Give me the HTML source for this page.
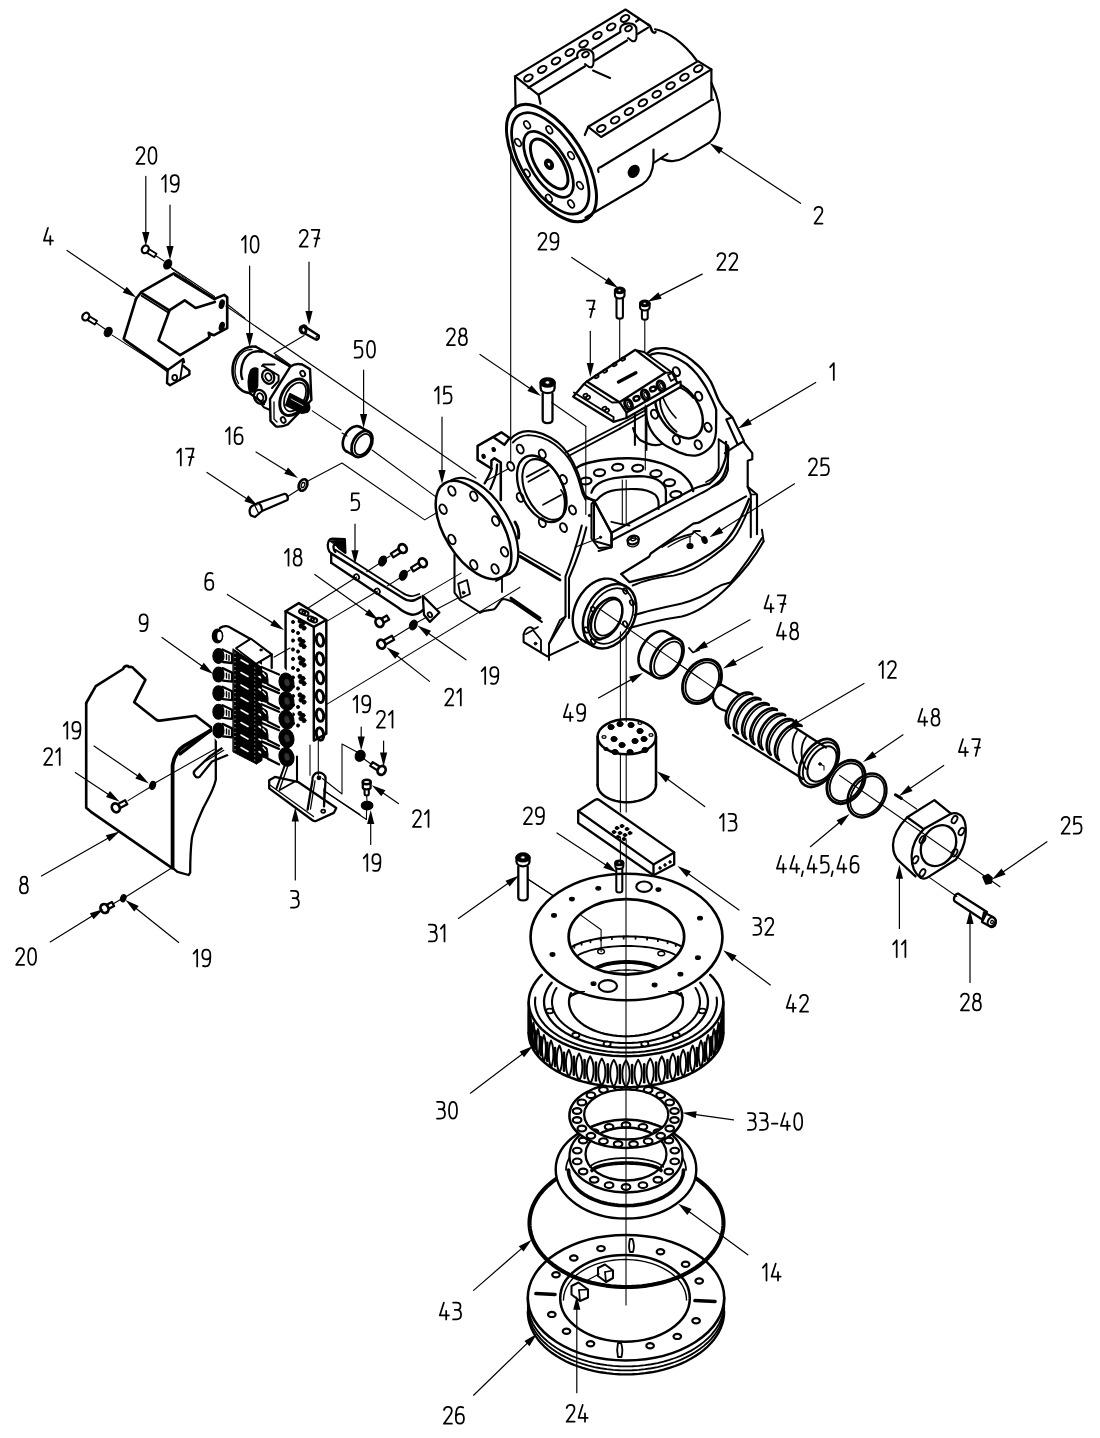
<!DOCTYPE html>
<html><head><meta charset="utf-8"><style>
html,body{margin:0;padding:0;background:#fff;}
svg{display:block;}
text{font-family:"Liberation Sans",sans-serif;fill:#000;stroke:none;}
</style></head><body>
<svg width="1100" height="1438" viewBox="0 0 1100 1438" stroke="#000" fill="none" stroke-linecap="round" stroke-linejoin="round">
<path d="M515.6,108 L515,76.4 L625.5,9.5 L648,24.5" stroke-width="2.18" fill="none"/>
<path d="M515,76.4 L538.5,94.8 L540.5,103.7" stroke-width="2.18" fill="none"/>
<path d="M528.4,87.8 L577.5,57.2" stroke-width="2.18" fill="none"/>
<path d="M592.5,49 L620,32.2" stroke-width="2.18" fill="none"/>
<path d="M636,21.5 L639.5,19.2" stroke-width="2.18" fill="none"/>
<path d="M538.5,94.8 L585,66.2" stroke-width="2.18" fill="none"/>
<path d="M594.5,60.7 L627,40.5" stroke-width="2.18" fill="none"/>
<path d="M638,33.8 L648,27.6" stroke-width="2.18" fill="none"/>
<ellipse cx="528.4" cy="77.9" rx="4.6" ry="3.0" transform="rotate(-30 528.4 77.9)" stroke-width="2.07" fill="none"/>
<ellipse cx="542.2" cy="69.4" rx="4.6" ry="3.0" transform="rotate(-30 542.2 69.4)" stroke-width="2.07" fill="none"/>
<ellipse cx="556.0" cy="60.9" rx="4.6" ry="3.0" transform="rotate(-30 556.0 60.9)" stroke-width="2.07" fill="none"/>
<ellipse cx="569.8" cy="52.4" rx="4.6" ry="3.0" transform="rotate(-30 569.8 52.4)" stroke-width="2.07" fill="none"/>
<ellipse cx="583.6" cy="43.9" rx="4.6" ry="3.0" transform="rotate(-30 583.6 43.9)" stroke-width="2.07" fill="none"/>
<ellipse cx="597.4" cy="35.4" rx="4.6" ry="3.0" transform="rotate(-30 597.4 35.4)" stroke-width="2.07" fill="none"/>
<ellipse cx="611.2" cy="26.9" rx="4.6" ry="3.0" transform="rotate(-30 611.2 26.9)" stroke-width="2.07" fill="none"/>
<ellipse cx="625.0" cy="18.4" rx="4.6" ry="3.0" transform="rotate(-30 625.0 18.4)" stroke-width="2.07" fill="none"/>
<path d="M577.5,58 C576,52 580,49.4 585.5,49.4 C590.5,49.4 593.5,51.5 593.5,56 L593.5,62.5 C593.5,66.5 591.5,68 589,67 L585,64" stroke-width="2.07" fill="none"/>
<ellipse cx="585.5" cy="54.5" rx="3.6" ry="2.4" transform="rotate(-30 585.5 54.5)" stroke-width="1.84" fill="none"/>
<path d="M620.5,32 C619,26 623,23.4 628.5,23.4 C633.5,23.4 636.5,25.5 636.5,30 L636.5,36.5 C636.5,40.5 634.5,42 632,41 L628,38" stroke-width="2.07" fill="none"/>
<ellipse cx="628.5" cy="28.5" rx="3.6" ry="2.4" transform="rotate(-30 628.5 28.5)" stroke-width="1.84" fill="none"/>
<path d="M648,24.5 C651,25.5 651,29 652,31 C653,33 655,33 655.5,32" stroke-width="2.53" fill="none"/>
<line x1="593" y1="70.5" x2="610" y2="78" stroke-width="2.07"/>
<path d="M655,29.3 C668,31.5 684,43 696.7,60.5" stroke-width="2.18" fill="none"/>
<path d="M584.8,135 L588.2,126.8 L698,61.1 L711.4,69.4 L711.4,99.9 L713,99.9" stroke-width="2.18" fill="none"/>
<path d="M588.2,126.8 L601.1,137 L711.4,69.4" stroke-width="2.18" fill="none"/>
<path d="M598.5,172 C597.5,169 598.5,167.5 600.5,167.2 L711.4,99.9" stroke-width="2.18" fill="none"/>
<ellipse cx="601.3" cy="128.5" rx="4.6" ry="3.0" transform="rotate(-30 601.3 128.5)" stroke-width="2.07" fill="none"/>
<ellipse cx="615.15" cy="119.95" rx="4.6" ry="3.0" transform="rotate(-30 615.15 119.95)" stroke-width="2.07" fill="none"/>
<ellipse cx="629.0" cy="111.4" rx="4.6" ry="3.0" transform="rotate(-30 629.0 111.4)" stroke-width="2.07" fill="none"/>
<ellipse cx="642.85" cy="102.85" rx="4.6" ry="3.0" transform="rotate(-30 642.85 102.85)" stroke-width="2.07" fill="none"/>
<ellipse cx="656.7" cy="94.3" rx="4.6" ry="3.0" transform="rotate(-30 656.7 94.3)" stroke-width="2.07" fill="none"/>
<ellipse cx="670.55" cy="85.75" rx="4.6" ry="3.0" transform="rotate(-30 670.55 85.75)" stroke-width="2.07" fill="none"/>
<ellipse cx="684.4" cy="77.2" rx="4.6" ry="3.0" transform="rotate(-30 684.4 77.2)" stroke-width="2.07" fill="none"/>
<ellipse cx="698.25" cy="68.65" rx="4.6" ry="3.0" transform="rotate(-30 698.25 68.65)" stroke-width="2.07" fill="none"/>
<path d="M711.4,82.7 C718,97 721,110 719.6,121 C718.5,131 715,138 709.5,142.5 L684,157.9 C677,162 668,162 661,158.5" stroke-width="2.18" fill="none"/>
<line x1="654.5" y1="162.4" x2="667.5" y2="153.8" stroke-width="2.07"/>
<path d="M653.5,149.6 L653.5,161 C653,172 649,180 642,184.5 L585.5,217.5" stroke-width="2.18" fill="none"/>
<ellipse cx="633.7" cy="171.3" rx="4.6" ry="6.2" transform="rotate(35 633.7 171.3)" stroke-width="1.84" fill="#000"/>
<ellipse cx="633.2" cy="171.8" rx="1.6" ry="3.8" transform="rotate(35 633.2 171.8)" stroke-width="0.8" fill="none"/>
<ellipse cx="551.5" cy="163" rx="66.4" ry="32.4" transform="rotate(57.4 551.5 163)" stroke-width="2.99" fill="none"/>
<ellipse cx="550.3" cy="163.4" rx="57.5" ry="27.5" transform="rotate(57.4 550.3 163.4)" stroke-width="2.76" fill="none"/>
<ellipse cx="548.5" cy="164.3" rx="37.5" ry="17.3" transform="rotate(57.4 548.5 164.3)" stroke-width="2.76" fill="none"/>
<ellipse cx="549.2" cy="164" rx="28.5" ry="12.8" transform="rotate(57.4 549.2 164)" stroke-width="2.99" fill="none"/>
<ellipse cx="549" cy="164.3" rx="5.2" ry="3.8" transform="rotate(57.4 549 164.3)" stroke-width="1.72" fill="#000"/>
<ellipse cx="549" cy="164.3" rx="2.2" ry="1.5" transform="rotate(57.4 549 164.3)" stroke-width="0.8" fill="#fff"/>
<ellipse cx="527.1" cy="124.8" rx="4.2" ry="2.6" transform="rotate(57.4 527.1 124.8)" stroke-width="1.72" fill="none"/>
<ellipse cx="549.3" cy="129.8" rx="4.2" ry="2.6" transform="rotate(57.4 549.3 129.8)" stroke-width="1.72" fill="none"/>
<ellipse cx="571.1" cy="155.5" rx="4.2" ry="2.6" transform="rotate(57.4 571.1 155.5)" stroke-width="1.72" fill="none"/>
<ellipse cx="580" cy="185.5" rx="4.2" ry="2.6" transform="rotate(57.4 580 185.5)" stroke-width="1.72" fill="none"/>
<ellipse cx="571.1" cy="203.9" rx="4.2" ry="2.6" transform="rotate(57.4 571.1 203.9)" stroke-width="1.72" fill="none"/>
<ellipse cx="548.9" cy="198.4" rx="4.2" ry="2.6" transform="rotate(57.4 548.9 198.4)" stroke-width="1.72" fill="none"/>
<ellipse cx="526.8" cy="173.2" rx="4.2" ry="2.6" transform="rotate(57.4 526.8 173.2)" stroke-width="1.72" fill="none"/>
<ellipse cx="518" cy="142.5" rx="4.2" ry="2.6" transform="rotate(57.4 518 142.5)" stroke-width="1.72" fill="none"/>
<path d="M510.4,439.3 C515,434 521,431 528.4,431.1 C538,431 549,436 557.8,442.5 C566,449 573,461 577.5,472 C580,478 582,487 584,493.3 L587.3,498.2 L595.5,500.6" stroke-width="2.18" fill="none"/>
<path d="M512.8,442.5 C518,437 522,435.5 528.4,435.2 C538,435.5 547,439 554.5,444.2 C562,450 568,457 571,462.2 C575,470 577.5,476 579.1,481.8 L582.4,493.3 L585.6,499.8" stroke-width="1.84" fill="none"/>
<ellipse cx="541.5" cy="488.8" rx="35.6" ry="20.9" transform="rotate(63.7 541.5 488.8)" stroke-width="2.3" fill="none"/>
<ellipse cx="544.5" cy="489.5" rx="32.5" ry="18.8" transform="rotate(63.7 544.5 489.5)" stroke-width="2.07" fill="none"/>
<ellipse cx="520.2" cy="449.1" rx="3.2" ry="4.6" transform="rotate(-25 520.2 449.1)" stroke-width="1.95" fill="none"/>
<ellipse cx="542.3" cy="454" rx="3.2" ry="4.6" transform="rotate(-25 542.3 454)" stroke-width="1.95" fill="none"/>
<ellipse cx="563.5" cy="479.4" rx="3.2" ry="4.6" transform="rotate(-25 563.5 479.4)" stroke-width="1.95" fill="none"/>
<ellipse cx="572.5" cy="510" rx="3.2" ry="4.6" transform="rotate(-25 572.5 510)" stroke-width="1.95" fill="none"/>
<ellipse cx="563.5" cy="527.6" rx="3.2" ry="4.6" transform="rotate(-25 563.5 527.6)" stroke-width="1.95" fill="none"/>
<ellipse cx="542.3" cy="522.7" rx="3.2" ry="4.6" transform="rotate(-25 542.3 522.7)" stroke-width="1.95" fill="none"/>
<ellipse cx="520.2" cy="497.4" rx="3.2" ry="4.6" transform="rotate(-25 520.2 497.4)" stroke-width="1.95" fill="none"/>
<ellipse cx="510.7" cy="466.3" rx="3.2" ry="4.6" transform="rotate(-25 510.7 466.3)" stroke-width="1.95" fill="none"/>
<line x1="526.7" y1="476.9" x2="548" y2="465.5" stroke-width="1.84"/>
<line x1="528.4" y1="481.8" x2="548.8" y2="470.4" stroke-width="1.84"/>
<line x1="543.1" y1="504.7" x2="561" y2="495" stroke-width="1.84"/>
<path d="M561,490 C565,495 566,505 563,515" stroke-width="1.84" fill="none"/>
<path d="M587.3,498.2 L594,500.5 L611.8,534.2 L611.8,546 L594,541" stroke-width="2.07" fill="none"/>
<line x1="594" y1="500.5" x2="594" y2="541" stroke-width="2.07"/>
<path d="M647.5,353.1 C650,350.5 652,349.3 655.1,348.7 C659,348 662,348 666,348.2 C671,348.8 675,350 679.1,352 C684,354.5 688,357 691.1,359.6 C695,363 699,366 702,369.5 C705,373 708,377 710.7,381.5 C713,386 714.5,390 716.2,394.5 C717.5,398 718.8,401 720.5,403.3 C722.5,406.5 724,409 726,410.9 L731.5,416.4" stroke-width="2.42" fill="none"/>
<path d="M647.5,356.4 C650.5,354.3 653.5,353.3 657.3,353.1 C662,352.9 667,354 671.5,355.8 C677,358 682,361 686.7,364 C691,367.5 694.5,371 697.6,374.9 C700.5,379 703.5,383 706.4,388 C709,393 711,397 712.9,401.1 C714.3,404.5 715.5,407 716.2,409.8 L716.2,416.4 L716,432 C715.5,440 712.5,446 708.5,449.1 C704,453 700,455 695.5,455.6 C690,456 685,455 679.1,452.4 C673,449.5 667.5,447 662.7,443.6 C656,438 651,432 648.5,425.1 C646,418 645.3,412 645.3,405.5" stroke-width="2.3" fill="none"/>
<path d="M662.7,443.6 C656,447 648,444.5 640,440 C636,436 634,432 633,428" stroke-width="2.07" fill="none"/>
<ellipse cx="679" cy="410" rx="31.3" ry="19.8" transform="rotate(56.7 679 410)" stroke-width="2.53" fill="none"/>
<path d="M676.66,431.73 L674.86,430.27 L673.11,428.68 L671.42,426.95 L669.81,425.1 L668.29,423.15 L666.87,421.11 L665.57,419.0 L664.38,416.83 L663.32,414.62 L662.4,412.38 L661.63,410.14 L661.01,407.91 L660.54,405.71 L660.24,403.55 L660.09,401.45 L660.11,399.43 L660.29,397.5 L660.64,395.67 L661.14,393.97 L661.79,392.4 L662.6,390.98 L663.55,389.71 L664.64,388.61 L665.85,387.68 L667.19,386.93 L668.63,386.37 L670.17,386.0 L671.8,385.83 L673.5,385.85 L675.26,386.07 L677.07,386.48 L678.92,387.08 L680.78,387.86 L682.65,388.83 L684.51,389.97 L686.34,391.27 L688.14,392.73 L689.89,394.32 L691.58,396.05 L693.19,397.9" stroke-width="1.95" fill="none"/>
<path d="M663,398 C666,405 670,412 676,418" stroke-width="1.72" fill="none"/>
<ellipse cx="676.4" cy="371.6" rx="3.3" ry="4.6" transform="rotate(-25 676.4 371.6)" stroke-width="2.07" fill="none"/>
<ellipse cx="698.7" cy="396.2" rx="3.3" ry="4.6" transform="rotate(-25 698.7 396.2)" stroke-width="2.07" fill="none"/>
<ellipse cx="708" cy="427.3" rx="3.3" ry="4.6" transform="rotate(-25 708 427.3)" stroke-width="2.07" fill="none"/>
<ellipse cx="698.2" cy="444.7" rx="3.3" ry="4.6" transform="rotate(-25 698.2 444.7)" stroke-width="2.07" fill="none"/>
<ellipse cx="676.4" cy="439.8" rx="3.3" ry="4.6" transform="rotate(-25 676.4 439.8)" stroke-width="2.07" fill="none"/>
<ellipse cx="654.5" cy="414.2" rx="3.3" ry="4.6" transform="rotate(-25 654.5 414.2)" stroke-width="2.07" fill="none"/>
<path d="M726.3,419.5 L732.4,417.2 L744,441 L737.8,444.7 L726.3,419.5" stroke-width="2.18" fill="none"/>
<path d="M737.8,444.7 L724.8,453.2" stroke-width="2.07" fill="none"/>
<path d="M744,442.5 L752.3,453.2 L752.3,459.3 L747.7,460.8 L747.7,486.8 L757,494.5 L757,534.2" stroke-width="2.18" fill="none"/>
<path d="M747.7,486.8 L750.8,494.5 L750.8,537.3" stroke-width="2.07" fill="none"/>
<line x1="750.8" y1="494.5" x2="757" y2="494.5" stroke-width="1.72"/>
<path d="M718.7,439.4 L727.9,445.5 L727.9,470 C726,478 721,484 712,487" stroke-width="2.07" fill="none"/>
<path d="M718.7,439.4 L718.7,468 C717,475 713,479 706,482" stroke-width="1.84" fill="none"/>
<line x1="634.9" y1="410" x2="634.9" y2="445" stroke-width="2.07"/>
<line x1="646.4" y1="408" x2="646.4" y2="450" stroke-width="2.07"/>
<path d="M586.8,381.5 L635.4,349.8 L644,352 L672,372.5 L680.6,381.5 L680.6,387 L626.5,418 L613.5,421.8 L573.2,396.7 L584,384 Z" fill="#fff" fill-rule="evenodd" stroke="none"/>
<path d="M586.8,381.5 L635.4,349.8 L665.4,372.7 L619.5,402.2 L586.8,381.5" stroke-width="2.3" fill="none"/>
<path d="M637,350.5 L644,352 L672,372.5 L665.4,372.7" stroke-width="1.95" fill="none"/>
<path d="M619.5,402.2 L626.5,412.5 L677.5,383 L672,372.5" stroke-width="2.3" fill="none"/>
<path d="M626.5,412.5 L626.5,418 L680.6,387 L680.6,381.5 L677.5,383" stroke-width="2.18" fill="none"/>
<path d="M586.8,381.5 L584,384 L573.2,396.7 L613.5,421.8 L626.5,418" stroke-width="2.3" fill="none"/>
<path d="M584,384 L612,402.5 L619.5,402.2" stroke-width="1.95" fill="none"/>
<path d="M574,392.5 L613.5,417 L613.5,421.8" stroke-width="1.95" fill="none"/>
<ellipse cx="585.5" cy="395.5" rx="2.2" ry="1.6" transform="rotate(-30 585.5 395.5)" stroke-width="1.72" fill="none"/>
<ellipse cx="588" cy="397.5" rx="2.2" ry="1.6" transform="rotate(-30 588 397.5)" stroke-width="1.72" fill="none"/>
<ellipse cx="604.5" cy="408.5" rx="2.2" ry="1.6" transform="rotate(-30 604.5 408.5)" stroke-width="1.72" fill="none"/>
<ellipse cx="607" cy="410.5" rx="2.2" ry="1.6" transform="rotate(-30 607 410.5)" stroke-width="1.72" fill="none"/>
<line x1="618.5" y1="382" x2="635.9" y2="372.7" stroke-width="3.45"/>
<ellipse cx="628.5" cy="404.5" rx="3.4" ry="5.2" transform="rotate(-25 628.5 404.5)" stroke-width="3.22" fill="none"/>
<ellipse cx="628.9" cy="404.5" rx="1.4" ry="2.8" transform="rotate(-25 628.9 404.5)" stroke-width="1.2" fill="none"/>
<ellipse cx="645.2" cy="395" rx="3.4" ry="5.2" transform="rotate(-25 645.2 395)" stroke-width="3.22" fill="none"/>
<ellipse cx="645.6" cy="395" rx="1.4" ry="2.8" transform="rotate(-25 645.6 395)" stroke-width="1.2" fill="none"/>
<ellipse cx="661" cy="386" rx="3.4" ry="5.2" transform="rotate(-25 661 386)" stroke-width="3.22" fill="none"/>
<ellipse cx="661.4" cy="386" rx="1.4" ry="2.8" transform="rotate(-25 661.4 386)" stroke-width="1.2" fill="none"/>
<ellipse cx="636.5" cy="398.5" rx="3.0" ry="2.2" transform="rotate(-20 636.5 398.5)" stroke-width="2.53" fill="none"/>
<ellipse cx="653" cy="389" rx="3.0" ry="2.2" transform="rotate(-20 653 389)" stroke-width="2.53" fill="none"/>
<ellipse cx="596.5" cy="376.5" rx="2.2" ry="1.4" transform="rotate(-30 596.5 376.5)" stroke-width="1.84" fill="none"/>
<ellipse cx="605" cy="371" rx="2.2" ry="1.4" transform="rotate(-30 605 371)" stroke-width="1.84" fill="none"/>
<ellipse cx="614.5" cy="364.5" rx="2.2" ry="1.4" transform="rotate(-30 614.5 364.5)" stroke-width="1.84" fill="none"/>
<ellipse cx="623" cy="359" rx="2.2" ry="1.4" transform="rotate(-30 623 359)" stroke-width="1.84" fill="none"/>
<path d="M668,375 L673,372.5 L676,378 L671,381 L668,375" stroke-width="1.72" fill="none"/>
<line x1="566" y1="452.4" x2="620" y2="424.5" stroke-width="1.95"/>
<line x1="567.6" y1="456.5" x2="620" y2="428.6" stroke-width="1.95"/>
<line x1="620" y1="424.5" x2="646" y2="410" stroke-width="1.95"/>
<line x1="620" y1="428.6" x2="646" y2="414" stroke-width="1.95"/>
<path d="M575,469 C580,465 586,463 593.2,461.8 C605,459 617,458 629.5,458.2 C642,458.5 653,460.5 662.3,463.6 C670,466.5 676,469.5 680.5,472.7 C685,476.5 689,480.5 691.4,485.5 L693.2,491" stroke-width="2.42" fill="none"/>
<path d="M591.4,492.7 C593,488 595.5,485.5 598.6,483.6 C605,479.5 612,478 620.5,477.3 C629,476.5 637,476 644.1,476.4 C651,477 657,479 660.5,481.8 C664,484.5 665.9,487.5 665.9,490.9 L665.9,503.6" stroke-width="2.3" fill="none"/>
<ellipse cx="585.9" cy="481" rx="5.6" ry="3.4" transform="rotate(-5 585.9 481)" stroke-width="2.18" fill="none"/>
<ellipse cx="599.5" cy="472.7" rx="5.6" ry="3.4" transform="rotate(-5 599.5 472.7)" stroke-width="2.18" fill="none"/>
<ellipse cx="617.7" cy="467.3" rx="5.6" ry="3.4" transform="rotate(-5 617.7 467.3)" stroke-width="2.18" fill="none"/>
<ellipse cx="637.7" cy="468.2" rx="5.6" ry="3.4" transform="rotate(-5 637.7 468.2)" stroke-width="2.18" fill="none"/>
<ellipse cx="655.9" cy="473.6" rx="5.6" ry="3.4" transform="rotate(-5 655.9 473.6)" stroke-width="2.18" fill="none"/>
<ellipse cx="669.5" cy="482.7" rx="5.6" ry="3.4" transform="rotate(-5 669.5 482.7)" stroke-width="2.18" fill="none"/>
<ellipse cx="675.9" cy="494.5" rx="5.6" ry="3.4" transform="rotate(-5 675.9 494.5)" stroke-width="2.18" fill="none"/>
<path d="M596.8,500 C601,495 605,492.5 611.4,490.9 C620,489 628,488.8 636.8,489.1 C645,489.5 651,491.5 655,494.5 C657.5,497 658.6,500 658.6,503.6 L658.6,509" stroke-width="2.18" fill="none"/>
<path d="M611.4,521.8 C618,523.5 623,524.5 629.5,525.5" stroke-width="1.84" fill="none"/>
<path d="M585.9,496.4 L594.1,500.9 L611.4,532.7 L611.4,547.3" stroke-width="2.3" fill="none"/>
<path d="M594.1,500.9 L591.5,504 L591.5,538.5 L598.6,548 L611.4,547.3" stroke-width="2.07" fill="none"/>
<ellipse cx="589.5" cy="515.5" rx="1.2" ry="1.2" transform="rotate(0 589.5 515.5)" stroke-width="1" fill="#000"/>
<ellipse cx="600.5" cy="537.3" rx="1.2" ry="1.2" transform="rotate(0 600.5 537.3)" stroke-width="1" fill="#000"/>
<path d="M611.4,532.7 L693.2,489 C699,486.5 704,485.5 709.5,483.6 C715,479 719.5,474 722.3,467.3 C724.5,462 726,458 726,454.5 L726,441.8" stroke-width="2.3" fill="none"/>
<path d="M611.4,540.5 L702.3,492.7 C708,490 714,486 720.5,480 C724.5,475 726.5,468 727.7,461.8 C728.3,456 728.6,452 728.6,447.3" stroke-width="2.07" fill="none"/>
<path d="M598.6,551 L611.4,547.3" stroke-width="2.07" fill="none"/>
<ellipse cx="633.2" cy="540" rx="5.8" ry="4.2" transform="rotate(-15 633.2 540)" stroke-width="2.3" fill="none"/>
<ellipse cx="633.2" cy="538.8" rx="2.6" ry="1.8" transform="rotate(-15 633.2 538.8)" stroke-width="1.4" fill="none"/>
<ellipse cx="633.2" cy="542.5" rx="5.8" ry="4.2" transform="rotate(-15 633.2 542.5)" stroke-width="1.4" fill="none"/>
<line x1="575" y1="547.3" x2="598.6" y2="538.2" stroke-width="1.1"/>
<path d="M621.3,574 L649.1,556.8 L650.7,553.5 L693.2,523.6 L698.6,522.7 L746,496.4" stroke-width="2.18" fill="none"/>
<path d="M621.3,574 L629.5,582.2 C645,578 655,576 665.5,574 C680,570 690,566 698.2,561 C708,556 715,551 721,546.2 C730,538 740,522 749,499" stroke-width="2.3" fill="none"/>
<path d="M632.7,585.5 C645,580 660,577 673.6,575.6 C690,572 699,566 706.4,561 C715,555 725,548 733,539 C740,530 746,516 751,502" stroke-width="1.95" fill="none"/>
<path d="M634.4,615 C650,610 665,607 681.8,603.5 C695,600 706,595 714.5,588.7 C722,584 727,583 731,582.2 C745,565 755,550 762,538" stroke-width="2.07" fill="none"/>
<path d="M629.5,628 C650,622 665,619 681.8,616.5 C700,612 715,600 729.3,585.5 C745,570 756,555 763.6,541.3" stroke-width="2.07" fill="none"/>
<path d="M762,529.8 L763.6,541.3" stroke-width="1.95" fill="none"/>
<path d="M662,547 C672,540 682,536 692,534 L695,531 L700,531" stroke-width="1.84" fill="none"/>
<path d="M668,547 C676,542 684,538 691,536" stroke-width="1.3" fill="none"/>
<ellipse cx="690" cy="546" rx="3" ry="2.5" transform="rotate(0 690 546)" stroke-width="1.2" fill="#000"/>
<line x1="690" y1="546" x2="690" y2="537" stroke-width="1.2"/>
<ellipse cx="704.5" cy="540" rx="2.5" ry="3.5" transform="rotate(-20 704.5 540)" stroke-width="1.2" fill="#000"/>
<line x1="693" y1="531" x2="704" y2="539" stroke-width="1.2"/>
<path d="M583.49,640.91 L581.86,639.92 L580.33,638.75 L578.92,637.41 L577.64,635.91 L576.5,634.25 L575.5,632.45 L574.64,630.51 L573.94,628.45 L573.39,626.29 L573.01,624.02 L572.79,621.68 L572.73,619.27 L572.84,616.8 L573.11,614.3 L573.55,611.78 L574.15,609.25 L574.9,606.74 L575.8,604.24 L576.85,601.79 L578.04,599.39 L579.37,597.06 L580.81,594.82 L582.37,592.68 L584.04,590.65 L585.8,588.74 L587.65,586.97 L589.57,585.34 L591.55,583.87 L593.58,582.57 L595.65,581.44 L597.74,580.5 L599.84,579.74 L601.94,579.17 L604.02,578.79 L606.08,578.62 L608.1,578.64 L610.06,578.86 L611.96,579.28 L613.78,579.89 L615.51,580.69" stroke-width="2.42" fill="none"/>
<line x1="615.5" y1="580.7" x2="625.6" y2="586.2" stroke-width="2.3"/>
<line x1="583.5" y1="640.9" x2="593.6" y2="646.4" stroke-width="2.3"/>
<ellipse cx="609.6" cy="616.3" rx="34.1" ry="24.3" transform="rotate(-62 609.6 616.3)" stroke-width="2.53" fill="none"/>
<ellipse cx="610.5" cy="616" rx="29.5" ry="20.5" transform="rotate(-62 610.5 616)" stroke-width="1.72" fill="none"/>
<ellipse cx="606.7" cy="618.2" rx="22" ry="13.5" transform="rotate(-62 606.7 618.2)" stroke-width="2.42" fill="none"/>
<ellipse cx="608.5" cy="617.5" rx="19.5" ry="11.5" transform="rotate(-62 608.5 617.5)" stroke-width="1.84" fill="none"/>
<path d="M601.52,639.49 L600.31,639.76 L599.13,639.91 L597.98,639.92 L596.88,639.82 L595.82,639.59 L594.81,639.23 L593.86,638.75 L592.98,638.16 L592.17,637.44 L591.44,636.62 L590.79,635.7 L590.22,634.67 L589.74,633.55 L589.35,632.34 L589.05,631.05 L588.85,629.69 L588.74,628.27 L588.74,626.8 L588.83,625.28 L589.01,623.72 L589.29,622.14 L589.67,620.54 L590.14,618.94 L590.69,617.34 L591.33,615.75 L592.06,614.19 L592.85,612.66 L593.73,611.17 L594.66,609.73 L595.66,608.35 L596.71,607.04 L597.81,605.81 L598.95,604.66 L600.13,603.61 L601.33,602.65 L602.55,601.79 L603.79,601.05 L605.03,600.42 L606.26,599.9 L607.48,599.51" stroke-width="1.72" fill="none"/>
<ellipse cx="625.2" cy="591" rx="1.9" ry="2.9" transform="rotate(-30 625.2 591)" stroke-width="1.72" fill="none"/>
<ellipse cx="632" cy="602.7" rx="1.9" ry="2.9" transform="rotate(-30 632 602.7)" stroke-width="1.72" fill="none"/>
<ellipse cx="625.2" cy="624" rx="1.9" ry="2.9" transform="rotate(-30 625.2 624)" stroke-width="1.72" fill="none"/>
<ellipse cx="593.1" cy="641.6" rx="1.9" ry="2.9" transform="rotate(-30 593.1 641.6)" stroke-width="1.72" fill="none"/>
<ellipse cx="586.3" cy="630" rx="1.9" ry="2.9" transform="rotate(-30 586.3 630)" stroke-width="1.72" fill="none"/>
<ellipse cx="593.1" cy="609.5" rx="1.9" ry="2.9" transform="rotate(-30 593.1 609.5)" stroke-width="1.72" fill="none"/>
<line x1="599" y1="608.5" x2="700" y2="678.6" stroke-width="1.1"/>
<path d="M454.5,554.5 L454.5,592.7 L460,600 L480,612.7" stroke-width="2.07" fill="none"/>
<path d="M458.2,583.6 L467,580 L470,594 L461,598 L458.2,583.6" stroke-width="1.84" fill="none"/>
<ellipse cx="463.6" cy="592.7" rx="1.4" ry="1.4" transform="rotate(0 463.6 592.7)" stroke-width="1" fill="#000"/>
<path d="M480,612.7 C486,609 490,611 494.5,609 C498,606 500,600 503,599 C507,599 510,601 512.7,601.8 L541.8,621.8" stroke-width="2.07" fill="none"/>
<path d="M496,581 L502,578 L502,592" stroke-width="1.84" fill="none"/>
<line x1="511" y1="598.2" x2="540" y2="618.2" stroke-width="2.99"/>
<line x1="520" y1="556.4" x2="560" y2="580" stroke-width="2.99"/>
<line x1="520" y1="552" x2="560" y2="575" stroke-width="1.84"/>
<path d="M581.8,525.5 C578,540 572,560 565.5,576.4 L565.5,616.4 L549,643.6" stroke-width="2.07" fill="none"/>
<path d="M586.4,527.3 C583,542 576,562 569,578 L569,618" stroke-width="2.07" fill="none"/>
<path d="M565.5,616.4 L560,620 L549,643.6" stroke-width="1.84" fill="none"/>
<path d="M523.6,634.5 L523.6,642 L547.3,656.4 L578.2,641.8" stroke-width="2.07" fill="none"/>
<path d="M526,634 L533,630 L541,640 L541,652" stroke-width="1.84" fill="none"/>
<ellipse cx="535.5" cy="643.6" rx="1.4" ry="1.4" transform="rotate(0 535.5 643.6)" stroke-width="1" fill="#000"/>
<path d="M523.6,634.5 C525,628 530,626 532,628 C534,630 536,628 538,627" stroke-width="1.84" fill="none"/>
<line x1="549" y1="643.6" x2="549" y2="660" stroke-width="1.95"/>
<ellipse cx="480.5" cy="527" rx="55" ry="28.5" transform="rotate(58.1 480.5 527)" stroke-width="2.3" fill="none"/>
<ellipse cx="473.5" cy="530" rx="55" ry="28.5" transform="rotate(58.1 473.5 530)" fill="#fff" stroke="none"/>
<ellipse cx="473.5" cy="530" rx="55" ry="28.5" transform="rotate(58.1 473.5 530)" stroke-width="2.53" fill="none"/>
<ellipse cx="451.9" cy="490.9" rx="3.3" ry="5.0" transform="rotate(-25 451.9 490.9)" stroke-width="1.95" fill="none"/>
<ellipse cx="473.8" cy="496.2" rx="3.3" ry="5.0" transform="rotate(-25 473.8 496.2)" stroke-width="1.95" fill="none"/>
<ellipse cx="443.1" cy="509.2" rx="3.3" ry="5.0" transform="rotate(-25 443.1 509.2)" stroke-width="1.95" fill="none"/>
<ellipse cx="495.7" cy="521" rx="3.3" ry="5.0" transform="rotate(-25 495.7 521)" stroke-width="1.95" fill="none"/>
<ellipse cx="451.9" cy="539.4" rx="3.3" ry="5.0" transform="rotate(-25 451.9 539.4)" stroke-width="1.95" fill="none"/>
<ellipse cx="504.5" cy="551.8" rx="3.3" ry="5.0" transform="rotate(-25 504.5 551.8)" stroke-width="1.95" fill="none"/>
<ellipse cx="473.8" cy="564.8" rx="3.3" ry="5.0" transform="rotate(-25 473.8 564.8)" stroke-width="1.95" fill="none"/>
<ellipse cx="495.1" cy="568.9" rx="3.3" ry="5.0" transform="rotate(-25 495.1 568.9)" stroke-width="1.95" fill="none"/>
<path d="M515,522 C518,527 519.5,533 518.5,538" stroke-width="2.99" fill="none"/>
<path d="M490.9,468.3 L477.6,459.9 L477.6,445.9 L501.3,432.3 L509.6,438 L504.4,444.8 L494.5,438" stroke-width="2.53" fill="none"/>
<ellipse cx="493.7" cy="449.5" rx="1.6" ry="2.0" transform="rotate(-20 493.7 449.5)" stroke-width="1.2" fill="#000"/>
<ellipse cx="483.6" cy="456.3" rx="1.6" ry="2.0" transform="rotate(-20 483.6 456.3)" stroke-width="1.2" fill="#000"/>
<path d="M491.4,466 L491.4,460.5 L494.5,458.4 L500.8,462.5 L500.8,500" stroke-width="2.53" fill="none"/>
<path d="M491.9,468.3 C490,474 487,479 484.6,483.4" stroke-width="2.3" fill="none"/>
<path d="M497.1,464.6 C497,469 496.5,472 496.1,474 C494.5,479 492.5,484 490.3,489.1" stroke-width="2.3" fill="none"/>
<line x1="487.2" y1="480.3" x2="507.5" y2="469.3" stroke-width="1.1"/>
<path d="M136,298.8 L141.5,291.8 L173.9,273.3 L214.9,298.8" stroke-width="2.64" fill="none"/>
<line x1="174.5" y1="275.5" x2="214" y2="299.8" stroke-width="1.3"/>
<path d="M136,298.8 L123.7,339 L167.7,369.9" stroke-width="2.64" fill="none"/>
<line x1="125" y1="341" x2="167" y2="371.5" stroke-width="1.2"/>
<line x1="142.2" y1="293.4" x2="169.3" y2="310.4" stroke-width="2.64"/>
<line x1="141.5" y1="295.7" x2="168.5" y2="312.7" stroke-width="1.72"/>
<path d="M169.3,311.1 L158.5,340.5 L180.1,355.2 L207.2,339" stroke-width="2.64" fill="none"/>
<path d="M169.3,310.4 L184.7,300.3 L195.6,308 L214.9,301.9" stroke-width="2.64" fill="none"/>
<path d="M214.9,298.8 L224.2,294.9 L227.2,297.2 L227.2,328.1 L214.1,335.1 C211,335 209.5,333 208.7,332.8 L209.5,337 L207.2,339" stroke-width="2.64" fill="none"/>
<ellipse cx="221.8" cy="304.2" rx="2.3" ry="4.3" transform="rotate(15 221.8 304.2)" stroke-width="1.2" fill="#000"/>
<ellipse cx="221.8" cy="326.6" rx="2.3" ry="4.3" transform="rotate(15 221.8 326.6)" stroke-width="1.2" fill="#000"/>
<path d="M167.7,369.9 L167,383 L170,385.3 L189.4,374.5 L189.4,370.6 L183.5,366" stroke-width="2.42" fill="none"/>
<path d="M167.7,369.9 L183.2,359 L184,362" stroke-width="2.42" fill="none"/>
<line x1="183.2" y1="359" x2="180.1" y2="380" stroke-width="1.84"/>
<ellipse cx="174.7" cy="377.6" rx="2.4" ry="2.8" transform="rotate(0 174.7 377.6)" stroke-width="1.84" fill="none"/>
<path d="M144.2,251.1 L154.3,257.3 L156.5,253.7 L146.4,247.5" stroke-width="1.84" fill="none"/>
<ellipse cx="145.3" cy="249.3" rx="3.3" ry="4.0" transform="rotate(31.544157021076266 145.3 249.3)" stroke-width="2.3" fill="#fff"/>
<ellipse cx="167.7" cy="264.3" rx="3.6" ry="5.0" transform="rotate(30 167.7 264.3)" stroke-width="1.2" fill="#000"/>
<line x1="155.4" y1="255.5" x2="164" y2="261" stroke-width="1.1"/>
<line x1="170" y1="267" x2="214.5" y2="296.5" stroke-width="1.1"/>
<line x1="171.6" y1="268.8" x2="213.5" y2="298.5" stroke-width="1.0"/>
<line x1="227.2" y1="304.2" x2="245" y2="318.1" stroke-width="1.1"/>
<path d="M84.7,318.4 L94.8,324.5 L97.0,320.9 L86.9,314.8" stroke-width="1.84" fill="none"/>
<ellipse cx="85.8" cy="316.6" rx="3.3" ry="4.0" transform="rotate(31.1303135614948 85.8 316.6)" stroke-width="2.3" fill="#fff"/>
<ellipse cx="108.2" cy="332" rx="3.6" ry="5.0" transform="rotate(30 108.2 332)" stroke-width="1.2" fill="#000"/>
<line x1="95.9" y1="322.7" x2="105" y2="329" stroke-width="1.1"/>
<line x1="112.1" y1="335.1" x2="167.7" y2="370.6" stroke-width="1.1"/>
<path d="M255.9,346.8 C249,345.5 241,349 236,357 C231.5,365 231,376 236.8,385.5 C240,390 245,392.5 249.5,393" stroke-width="2.64" fill="none"/>
<path d="M252,349.5 C246,349 240,353 237,360 C234,368 234.5,377 238.5,383.5" stroke-width="1.4" fill="none"/>
<path d="M262.3,351.8 C255,350 248,353 244,360 C240.5,367 240.5,375 242.3,379" stroke-width="2.42" fill="none"/>
<line x1="255.9" y1="346.8" x2="290.5" y2="366.5" stroke-width="2.42"/>
<line x1="261.4" y1="350" x2="290" y2="367" stroke-width="1.3"/>
<line x1="249.5" y1="393" x2="264" y2="404" stroke-width="2.3"/>
<path d="M251,370 C253,368 256,367.5 257.7,369 L257.5,386 C256,392 252,393 249.5,391 C247.5,383 248.5,375 251,370 Z" stroke-width="1.72" fill="#000"/>
<path d="M262,366 L263.2,364.5 L274.5,364.5 M263.2,366 L278.6,375.5 L278.6,381 L272,388 M264,401 L262,405 L264,407.3 L270,410" stroke-width="1.95" fill="none"/>
<ellipse cx="268.2" cy="376.8" rx="5.8" ry="7.2" transform="rotate(-25 268.2 376.8)" stroke-width="2.3" fill="none"/>
<ellipse cx="268.4" cy="377" rx="2.9" ry="3.9" transform="rotate(-25 268.4 377)" stroke-width="1.84" fill="none"/>
<ellipse cx="260" cy="396.8" rx="5.8" ry="7.2" transform="rotate(-25 260 396.8)" stroke-width="2.3" fill="none"/>
<ellipse cx="260.2" cy="397" rx="2.9" ry="3.9" transform="rotate(-25 260.2 397)" stroke-width="1.84" fill="none"/>
<path d="M290.5,366.4 C294,364 298,363.5 302.3,364.5 L310,369.1 L311.4,400 L287.7,424.5 C283,426.5 279,427 275.9,426.4 L270.5,420.9 L270,399.1 Z" stroke-width="2.42" fill="none"/>
<path d="M274,402 L274,419 L277,422" stroke-width="1.3" fill="none"/>
<ellipse cx="294.1" cy="397.3" rx="19.5" ry="12.5" transform="rotate(-62 294.1 397.3)" stroke-width="2.99" fill="none"/>
<ellipse cx="295" cy="397" rx="15.5" ry="9.5" transform="rotate(-62 295 397)" stroke-width="1.72" fill="none"/>
<ellipse cx="302.7" cy="373.6" rx="2.2" ry="3" transform="rotate(-30 302.7 373.6)" stroke-width="1.84" fill="none"/>
<ellipse cx="283.2" cy="420" rx="2.2" ry="3" transform="rotate(-30 283.2 420)" stroke-width="1.84" fill="none"/>
<path d="M290,394 L306.5,402.5 C310,404 310.5,410 307,412 L302,413 L286,405 Z" stroke-width="2.07" fill="#000"/>
<line x1="291" y1="399" x2="303" y2="405.5" stroke-width="0.8"/>
<line x1="291" y1="399" x2="303" y2="405.5" stroke="#fff" stroke-width="0.8"/>
<line x1="312.3" y1="410.9" x2="341" y2="430" stroke-width="1.1"/>
<path d="M304.1,335.5 L274.1,353.2 L290.5,365" stroke-width="1.1" fill="none"/>
<line x1="275.2" y1="355.5" x2="291" y2="366.5" stroke-width="1.1"/>
<line x1="226" y1="306" x2="476" y2="478" stroke-width="1.1"/>
<path d="M302,327 C300,330 301.5,333 304,333 L315.7,339.5 C317.5,340.5 319.5,338 318.7,335.5 L307,328 C305,325 303,325 302,327 Z" stroke-width="2.53" fill="none"/>
<ellipse cx="303" cy="329.8" rx="2.8" ry="3.6" transform="rotate(-30 303 329.8)" stroke-width="2.76" fill="none"/>
<ellipse cx="317.5" cy="337.8" rx="1.3" ry="1.8" transform="rotate(-30 317.5 337.8)" stroke-width="1.1" fill="none"/>
<ellipse cx="362" cy="444" rx="14" ry="9.2" transform="rotate(-61 362 444)" stroke-width="2.76" fill="none"/>
<ellipse cx="362.8" cy="444.3" rx="11.3" ry="7.0" transform="rotate(-61 362.8 444.3)" stroke-width="1.72" fill="none"/>
<path d="M346.51,451.44 L345.9,451.06 L345.34,450.6 L344.82,450.07 L344.36,449.47 L343.95,448.81 L343.6,448.09 L343.31,447.31 L343.08,446.48 L342.91,445.61 L342.81,444.7 L342.77,443.76 L342.8,442.79 L342.89,441.79 L343.05,440.78 L343.27,439.77 L343.55,438.74 L343.89,437.72 L344.29,436.71 L344.75,435.71 L345.25,434.74 L345.81,433.79 L346.41,432.88 L347.06,432.0 L347.74,431.17 L348.46,430.39 L349.21,429.67 L349.99,429.0 L350.78,428.39 L351.59,427.86 L352.41,427.39 L353.24,426.99 L354.06,426.67 L354.88,426.43 L355.69,426.27 L356.49,426.18 L357.27,426.18 L358.02,426.25 L358.75,426.41 L359.44,426.64 L360.09,426.96" stroke-width="2.64" fill="none"/>
<line x1="360.1" y1="426.95" x2="368.8" y2="431.75" stroke-width="2.53"/>
<line x1="346.5" y1="451.45" x2="355.2" y2="456.25" stroke-width="2.53"/>
<line x1="342" y1="433" x2="347" y2="436" stroke-width="1.1"/>
<line x1="372" y1="450" x2="436.6" y2="497.4" stroke-width="1.1"/>
<ellipse cx="303" cy="485" rx="4.0" ry="6.0" transform="rotate(25 303 485)" stroke-width="2.64" fill="none"/>
<ellipse cx="303" cy="485" rx="1.6" ry="2.6" transform="rotate(25 303 485)" stroke-width="1.3" fill="none"/>
<path d="M306,482 L342,463 L424.7,519.9 L436.6,512.8" stroke-width="1.1" fill="none"/>
<path d="M258,503 L284,494 C287,493.5 288.5,497 287.5,500 L262,511" stroke-width="2.3" fill="none"/>
<path d="M258,503 L252,506 C249,508 249,513 251,515.5 L255,517 L262,511 C262,507 260,504 258,503 Z" stroke-width="2.3" fill="none"/>
<line x1="254.5" y1="505" x2="259" y2="514" stroke-width="1.3"/>
<line x1="287" y1="497" x2="301" y2="488" stroke-width="1.1"/>
<path d="M724.2,1311.7 L723.99,1315.8 L723.36,1319.88 L722.31,1323.93 L720.85,1327.93 L718.99,1331.85 L716.72,1335.69 L714.07,1339.43 L711.04,1343.05 L707.65,1346.53 L703.91,1349.87 L699.83,1353.04 L695.44,1356.04 L690.75,1358.84 L685.78,1361.44 L680.56,1363.83 L675.1,1366.0 L669.43,1367.93 L663.58,1369.63 L657.57,1371.07 L651.42,1372.26 L645.16,1373.2 L638.82,1373.86 L632.42,1374.27 L626.0,1374.4 L619.58,1374.27 L613.18,1373.86 L606.84,1373.2 L600.58,1372.26 L594.43,1371.07 L588.42,1369.63 L582.57,1367.93 L576.9,1366.0 L571.44,1363.83 L566.22,1361.44 L561.25,1358.84 L556.56,1356.04 L552.17,1353.04 L548.09,1349.87 L544.35,1346.53 L540.96,1343.05 L537.93,1339.43 L535.28,1335.69 L533.01,1331.85 L531.15,1327.93 L529.69,1323.93 L528.64,1319.88 L528.01,1315.8 L527.8,1311.7" stroke-width="2.3" fill="none"/>
<path d="M724.2,1307.7 L723.99,1311.8 L723.36,1315.88 L722.31,1319.93 L720.85,1323.93 L718.99,1327.85 L716.72,1331.69 L714.07,1335.43 L711.04,1339.05 L707.65,1342.53 L703.91,1345.87 L699.83,1349.04 L695.44,1352.04 L690.75,1354.84 L685.78,1357.44 L680.56,1359.83 L675.1,1362.0 L669.43,1363.93 L663.58,1365.63 L657.57,1367.07 L651.42,1368.26 L645.16,1369.2 L638.82,1369.86 L632.42,1370.27 L626.0,1370.4 L619.58,1370.27 L613.18,1369.86 L606.84,1369.2 L600.58,1368.26 L594.43,1367.07 L588.42,1365.63 L582.57,1363.93 L576.9,1362.0 L571.44,1359.83 L566.22,1357.44 L561.25,1354.84 L556.56,1352.04 L552.17,1349.04 L548.09,1345.87 L544.35,1342.53 L540.96,1339.05 L537.93,1335.43 L535.28,1331.69 L533.01,1327.85 L531.15,1323.93 L529.69,1319.93 L528.64,1315.88 L528.01,1311.8 L527.8,1307.7" stroke-width="1.84" fill="none"/>
<path d="M724.2,1303.7 L723.99,1307.8 L723.36,1311.88 L722.31,1315.93 L720.85,1319.93 L718.99,1323.85 L716.72,1327.69 L714.07,1331.43 L711.04,1335.05 L707.65,1338.53 L703.91,1341.87 L699.83,1345.04 L695.44,1348.04 L690.75,1350.84 L685.78,1353.44 L680.56,1355.83 L675.1,1358.0 L669.43,1359.93 L663.58,1361.63 L657.57,1363.07 L651.42,1364.26 L645.16,1365.2 L638.82,1365.86 L632.42,1366.27 L626.0,1366.4 L619.58,1366.27 L613.18,1365.86 L606.84,1365.2 L600.58,1364.26 L594.43,1363.07 L588.42,1361.63 L582.57,1359.93 L576.9,1358.0 L571.44,1355.83 L566.22,1353.44 L561.25,1350.84 L556.56,1348.04 L552.17,1345.04 L548.09,1341.87 L544.35,1338.53 L540.96,1335.05 L537.93,1331.43 L535.28,1327.69 L533.01,1323.85 L531.15,1319.93 L529.69,1315.93 L528.64,1311.88 L528.01,1307.8 L527.8,1303.7" stroke-width="1.84" fill="none"/>
<line x1="527.8" y1="1297.7" x2="528.5" y2="1312" stroke-width="2.3"/>
<line x1="724.3" y1="1297.7" x2="723.6" y2="1312" stroke-width="2.3"/>
<ellipse cx="626" cy="1297.7" rx="98.2" ry="62.7" transform="rotate(0 626 1297.7)" stroke-width="2.53" fill="none"/>
<ellipse cx="625" cy="1298.3" rx="64.8" ry="43.4" transform="rotate(0 625 1298.3)" stroke-width="2.53" fill="none"/>
<path d="M563.5,1300.0 L563.63,1297.35 L564.03,1294.71 L564.68,1292.1 L565.6,1289.52 L566.76,1286.98 L568.18,1284.5 L569.84,1282.09 L571.74,1279.75 L573.86,1277.5 L576.21,1275.35 L578.76,1273.3 L581.51,1271.36 L584.45,1269.55 L587.56,1267.87 L590.83,1266.33 L594.25,1264.93 L597.8,1263.68 L601.46,1262.58 L605.23,1261.65 L609.08,1260.88 L613.0,1260.28 L616.97,1259.85 L620.98,1259.59 L625.0,1259.5 L629.02,1259.59 L633.03,1259.85 L637.0,1260.28 L640.92,1260.88 L644.77,1261.65 L648.54,1262.58 L652.2,1263.68 L655.75,1264.93 L659.17,1266.33 L662.44,1267.87 L665.55,1269.55 L668.49,1271.36 L671.24,1273.3 L673.79,1275.35 L676.14,1277.5 L678.26,1279.75 L680.16,1282.09 L681.82,1284.5 L683.24,1286.98 L684.4,1289.52 L685.32,1292.1 L685.97,1294.71 L686.37,1297.35 L686.5,1300.0" stroke-width="1.4" fill="none"/>
<ellipse cx="601" cy="1248.6" rx="3.8" ry="2.6" transform="rotate(0 601 1248.6)" stroke-width="2.18" fill="none"/>
<ellipse cx="660.5" cy="1251.7" rx="3.8" ry="2.6" transform="rotate(0 660.5 1251.7)" stroke-width="2.18" fill="none"/>
<ellipse cx="573.8" cy="1258" rx="3.8" ry="2.6" transform="rotate(0 573.8 1258)" stroke-width="2.18" fill="none"/>
<ellipse cx="685.6" cy="1264.3" rx="3.8" ry="2.6" transform="rotate(0 685.6 1264.3)" stroke-width="2.18" fill="none"/>
<ellipse cx="556" cy="1274.7" rx="3.8" ry="2.6" transform="rotate(0 556 1274.7)" stroke-width="2.18" fill="none"/>
<ellipse cx="699.2" cy="1281" rx="3.8" ry="2.6" transform="rotate(0 699.2 1281)" stroke-width="2.18" fill="none"/>
<ellipse cx="551.8" cy="1314.4" rx="3.8" ry="2.6" transform="rotate(0 551.8 1314.4)" stroke-width="2.18" fill="none"/>
<ellipse cx="696.1" cy="1320.7" rx="3.8" ry="2.6" transform="rotate(0 696.1 1320.7)" stroke-width="2.18" fill="none"/>
<ellipse cx="566.5" cy="1331.2" rx="3.8" ry="2.6" transform="rotate(0 566.5 1331.2)" stroke-width="2.18" fill="none"/>
<ellipse cx="677.3" cy="1336.4" rx="3.8" ry="2.6" transform="rotate(0 677.3 1336.4)" stroke-width="2.18" fill="none"/>
<ellipse cx="590.5" cy="1343.7" rx="3.8" ry="2.6" transform="rotate(0 590.5 1343.7)" stroke-width="2.18" fill="none"/>
<ellipse cx="650.1" cy="1345.8" rx="3.8" ry="2.6" transform="rotate(0 650.1 1345.8)" stroke-width="2.18" fill="none"/>
<path d="M630,1239 C629,1243 629,1249 630,1252 L633,1252 C634,1249 634,1243 632.5,1239 Z" stroke-width="1.84" fill="none"/>
<path d="M618,1343 C617,1347 617,1353 618,1357 L621.5,1357 C622.5,1353 622.5,1347 621,1343 Z" stroke-width="1.84" fill="none"/>
<line x1="536" y1="1293.5" x2="555" y2="1294.5" stroke-width="3.68"/>
<line x1="695" y1="1300.5" x2="715" y2="1301.5" stroke-width="3.68"/>
<path d="M598,1268 L605,1264.5 L613,1270.5 L613,1278 L606,1282 L598,1276 L598,1268" stroke-width="2.07" fill="none"/>
<path d="M605,1272 L613,1270.5" stroke-width="1.3" fill="none"/>
<line x1="605" y1="1272" x2="606" y2="1282" stroke-width="1.72"/>
<path d="M571.5,1286 L578.5,1282.5 L588,1289.5 L588,1297.5 L580,1301 L571.5,1294.5 L571.5,1286" stroke-width="2.07" fill="none"/>
<line x1="579" y1="1290" x2="588" y2="1289.5" stroke-width="1.3"/>
<line x1="579" y1="1290" x2="580" y2="1301" stroke-width="1.72"/>
<line x1="586" y1="1281" x2="599" y2="1274" stroke-width="1.4"/>
<path d="M693.88,1176.96 L697.47,1179.37 L700.85,1181.9 L704.04,1184.54 L707.0,1187.29 L709.74,1190.14 L712.25,1193.09 L714.52,1196.11 L716.55,1199.21 L718.32,1202.37 L719.85,1205.6 L721.11,1208.87 L722.1,1212.18 L722.84,1215.52 L723.3,1218.88 L723.49,1222.26 L723.42,1225.63 L723.07,1229.0 L722.46,1232.35 L721.58,1235.67 L720.43,1238.96 L719.03,1242.21 L717.36,1245.4 L715.45,1248.53 L713.28,1251.59 L710.88,1254.57 L708.24,1257.46 L705.37,1260.26 L702.28,1262.95 L698.99,1265.53 L695.49,1267.99 L691.8,1270.33 L687.92,1272.53 L683.88,1274.6 L679.68,1276.53 L675.33,1278.3 L670.84,1279.92 L666.23,1281.39 L661.51,1282.69 L656.69,1283.82 L651.79,1284.79 L646.81,1285.58 L641.79,1286.2 L636.71,1286.64 L631.61,1286.91 L626.5,1287.0 L621.39,1286.91 L616.29,1286.64 L611.21,1286.2 L606.19,1285.58 L601.21,1284.79 L596.31,1283.82 L591.49,1282.69 L586.77,1281.39 L582.16,1279.92 L577.67,1278.3 L573.32,1276.53 L569.12,1274.6 L565.08,1272.53 L561.2,1270.33 L557.51,1267.99 L554.01,1265.53 L550.72,1262.95 L547.63,1260.26 L544.76,1257.46 L542.12,1254.57 L539.72,1251.59 L537.55,1248.53 L535.64,1245.4 L533.97,1242.21 L532.57,1238.96 L531.42,1235.67 L530.54,1232.35 L529.93,1229.0 L529.58,1225.63 L529.51,1222.26 L529.7,1218.88 L530.16,1215.52 L530.9,1212.18 L531.89,1208.87 L533.15,1205.6 L534.68,1202.37 L536.45,1199.21 L538.48,1196.11 L540.75,1193.09 L543.26,1190.14 L546.0,1187.29 L548.96,1184.54 L552.15,1181.9 L555.53,1179.37 L559.12,1176.96" stroke-width="4.14" fill="none"/>
<path d="M555.7,1169.5 A70.3,49 0 1 0 696.3,1169.5 A70.3,49 0 1 0 555.7,1169.5 Z" fill="#fff" fill-rule="evenodd" stroke="none"/>
<ellipse cx="626" cy="1169.5" rx="70.3" ry="49" transform="rotate(0 626 1169.5)" stroke-width="2.42" fill="none"/>
<path d="M683.5,1170.0 L683.38,1172.33 L683.01,1174.65 L682.4,1176.95 L681.54,1179.21 L680.45,1181.44 L679.12,1183.62 L677.57,1185.75 L675.8,1187.8 L673.81,1189.78 L671.62,1191.67 L669.23,1193.47 L666.66,1195.17 L663.91,1196.77 L661.0,1198.24 L657.95,1199.6 L654.75,1200.83 L651.43,1201.93 L648.0,1202.89 L644.48,1203.71 L640.88,1204.39 L637.22,1204.92 L633.51,1205.3 L629.76,1205.52 L626.0,1205.6 L622.24,1205.52 L618.49,1205.3 L614.78,1204.92 L611.12,1204.39 L607.52,1203.71 L604.0,1202.89 L600.57,1201.93 L597.25,1200.83 L594.05,1199.6 L591.0,1198.24 L588.09,1196.77 L585.34,1195.17 L582.77,1193.47 L580.38,1191.67 L578.19,1189.78 L576.2,1187.8 L574.43,1185.75 L572.88,1183.62 L571.55,1181.44 L570.46,1179.21 L569.6,1176.95 L568.99,1174.65 L568.62,1172.33 L568.5,1170.0" stroke-width="3.68" fill="none"/>
<path d="M677.96,1151.5 L678.29,1151.85 L678.6,1152.2 L678.92,1152.56 L679.22,1152.92 L679.52,1153.27 L679.81,1153.64 L680.1,1154.0 L680.38,1154.36 L680.65,1154.73 L680.92,1155.1 L681.18,1155.47 L681.43,1155.84 L681.68,1156.21 L681.92,1156.59 L682.15,1156.97 L682.38,1157.35 L682.6,1157.73 L682.82,1158.11 L683.02,1158.49 L683.22,1158.87 L683.42,1159.26 L683.6,1159.65 L683.78,1160.03 L683.96,1160.42 L684.12,1160.81 L684.28,1161.21 L684.43,1161.6 L684.58,1161.99 L684.72,1162.39 L684.85,1162.78 L684.97,1163.18 L685.09,1163.58 L685.2,1163.97 L685.3,1164.37 L685.4,1164.77 L685.49,1165.17 L685.57,1165.57 L685.64,1165.97 L685.71,1166.37 L685.77,1166.78 L685.83,1167.18 L685.87,1167.58 L685.91,1167.98 L685.94,1168.39 L685.97,1168.79 L685.99,1169.19 L686.0,1169.6 L686.0,1170.0" stroke-width="1.72" fill="none"/>
<path d="M566.0,1170.0 L566.0,1169.6 L566.01,1169.19 L566.03,1168.79 L566.06,1168.39 L566.09,1167.98 L566.13,1167.58 L566.17,1167.18 L566.23,1166.78 L566.29,1166.37 L566.36,1165.97 L566.43,1165.57 L566.51,1165.17 L566.6,1164.77 L566.7,1164.37 L566.8,1163.97 L566.91,1163.58 L567.03,1163.18 L567.15,1162.78 L567.28,1162.39 L567.42,1161.99 L567.57,1161.6 L567.72,1161.21 L567.88,1160.81 L568.04,1160.42 L568.22,1160.03 L568.4,1159.65 L568.58,1159.26 L568.78,1158.87 L568.98,1158.49 L569.18,1158.11 L569.4,1157.73 L569.62,1157.35 L569.85,1156.97 L570.08,1156.59 L570.32,1156.21 L570.57,1155.84 L570.82,1155.47 L571.08,1155.1 L571.35,1154.73 L571.62,1154.36 L571.9,1154.0 L572.19,1153.64 L572.48,1153.27 L572.78,1152.92 L573.08,1152.56 L573.4,1152.2 L573.71,1151.85 L574.04,1151.5" stroke-width="1.72" fill="none"/>
<path d="M569.5,1156 A56.5,36.5 0 1 0 682.5,1156 A56.5,36.5 0 1 0 569.5,1156 Z M585.5,1154 A40.5,26.5 0 1 0 666.5,1154 A40.5,26.5 0 1 0 585.5,1154 Z" fill="#fff" fill-rule="evenodd" stroke="none"/>
<ellipse cx="626" cy="1156" rx="56.5" ry="36.5" transform="rotate(0 626 1156)" stroke-width="2.3" fill="none"/>
<ellipse cx="626" cy="1154" rx="40.5" ry="26.5" transform="rotate(0 626 1154)" stroke-width="2.3" fill="none"/>
<path d="M592.03,1170.44 L592.44,1169.92 L592.97,1169.42 L593.61,1168.92 L594.36,1168.44 L595.22,1167.96 L596.19,1167.5 L597.26,1167.05 L598.43,1166.63 L599.69,1166.21 L601.04,1165.82 L602.48,1165.45 L604.0,1165.11 L605.6,1164.78 L607.27,1164.48 L609.0,1164.21 L610.79,1163.96 L612.64,1163.74 L614.53,1163.54 L616.46,1163.38 L618.43,1163.24 L620.42,1163.14 L622.44,1163.06 L624.46,1163.02 L626.5,1163.0 L628.54,1163.02 L630.56,1163.06 L632.58,1163.14 L634.57,1163.24 L636.54,1163.38 L638.47,1163.54 L640.36,1163.74 L642.21,1163.96 L644.0,1164.21 L645.73,1164.48 L647.4,1164.78 L649.0,1165.11 L650.52,1165.45 L651.96,1165.82 L653.31,1166.21 L654.57,1166.63 L655.74,1167.05 L656.81,1167.5 L657.78,1167.96 L658.64,1168.44 L659.39,1168.92 L660.03,1169.42 L660.56,1169.92 L660.97,1170.44" stroke-width="3.68" fill="none"/>
<path d="M589.79,1166.89 L590.39,1166.27 L591.08,1165.65 L591.89,1165.05 L592.79,1164.46 L593.8,1163.89 L594.9,1163.33 L596.1,1162.8 L597.39,1162.29 L598.77,1161.8 L600.22,1161.33 L601.76,1160.89 L603.37,1160.48 L605.04,1160.1 L606.79,1159.74 L608.59,1159.42 L610.44,1159.12 L612.34,1158.86 L614.29,1158.64 L616.27,1158.44 L618.28,1158.28 L620.31,1158.16 L622.36,1158.07 L624.43,1158.02 L626.5,1158.0 L628.57,1158.02 L630.64,1158.07 L632.69,1158.16 L634.72,1158.28 L636.73,1158.44 L638.71,1158.64 L640.66,1158.86 L642.56,1159.12 L644.41,1159.42 L646.21,1159.74 L647.96,1160.1 L649.63,1160.48 L651.24,1160.89 L652.78,1161.33 L654.23,1161.8 L655.61,1162.29 L656.9,1162.8 L658.1,1163.33 L659.2,1163.89 L660.21,1164.46 L661.11,1165.05 L661.92,1165.65 L662.61,1166.27 L663.21,1166.89" stroke-width="1.72" fill="none"/>
<ellipse cx="626.0" cy="1187.0" rx="4.3" ry="2.9" transform="rotate(0 626.0 1187.0)" stroke-width="2.18" fill="none"/>
<ellipse cx="609.07" cy="1185.13" rx="4.3" ry="2.9" transform="rotate(0 609.07 1185.13)" stroke-width="2.18" fill="none"/>
<ellipse cx="594.18" cy="1179.75" rx="4.3" ry="2.9" transform="rotate(0 594.18 1179.75)" stroke-width="2.18" fill="none"/>
<ellipse cx="583.13" cy="1171.5" rx="4.3" ry="2.9" transform="rotate(0 583.13 1171.5)" stroke-width="2.18" fill="none"/>
<ellipse cx="577.25" cy="1161.38" rx="4.3" ry="2.9" transform="rotate(0 577.25 1161.38)" stroke-width="2.18" fill="none"/>
<ellipse cx="577.25" cy="1150.62" rx="4.3" ry="2.9" transform="rotate(0 577.25 1150.62)" stroke-width="2.18" fill="none"/>
<ellipse cx="583.13" cy="1140.5" rx="4.3" ry="2.9" transform="rotate(0 583.13 1140.5)" stroke-width="2.18" fill="none"/>
<ellipse cx="594.18" cy="1132.25" rx="4.3" ry="2.9" transform="rotate(0 594.18 1132.25)" stroke-width="2.18" fill="none"/>
<ellipse cx="609.07" cy="1126.87" rx="4.3" ry="2.9" transform="rotate(0 609.07 1126.87)" stroke-width="2.18" fill="none"/>
<ellipse cx="626.0" cy="1125.0" rx="4.3" ry="2.9" transform="rotate(0 626.0 1125.0)" stroke-width="2.18" fill="none"/>
<ellipse cx="642.93" cy="1126.87" rx="4.3" ry="2.9" transform="rotate(0 642.93 1126.87)" stroke-width="2.18" fill="none"/>
<ellipse cx="657.82" cy="1132.25" rx="4.3" ry="2.9" transform="rotate(0 657.82 1132.25)" stroke-width="2.18" fill="none"/>
<ellipse cx="668.87" cy="1140.5" rx="4.3" ry="2.9" transform="rotate(0 668.87 1140.5)" stroke-width="2.18" fill="none"/>
<ellipse cx="674.75" cy="1150.62" rx="4.3" ry="2.9" transform="rotate(0 674.75 1150.62)" stroke-width="2.18" fill="none"/>
<ellipse cx="674.75" cy="1161.38" rx="4.3" ry="2.9" transform="rotate(0 674.75 1161.38)" stroke-width="2.18" fill="none"/>
<ellipse cx="668.87" cy="1171.5" rx="4.3" ry="2.9" transform="rotate(0 668.87 1171.5)" stroke-width="2.18" fill="none"/>
<ellipse cx="657.82" cy="1179.75" rx="4.3" ry="2.9" transform="rotate(0 657.82 1179.75)" stroke-width="2.18" fill="none"/>
<ellipse cx="642.93" cy="1185.13" rx="4.3" ry="2.9" transform="rotate(0 642.93 1185.13)" stroke-width="2.18" fill="none"/>
<path d="M569.4,1115.5 A56.4,32.5 0 1 0 682.1999999999999,1115.5 A56.4,32.5 0 1 0 569.4,1115.5 Z M584.1,1114.4 A42.1,25.1 0 1 0 668.3000000000001,1114.4 A42.1,25.1 0 1 0 584.1,1114.4 Z" fill="#fff" fill-rule="evenodd" stroke="none"/>
<ellipse cx="625.8" cy="1115.5" rx="56.4" ry="32.5" transform="rotate(0 625.8 1115.5)" stroke-width="2.53" fill="none"/>
<ellipse cx="626.2" cy="1114.4" rx="42.1" ry="25.1" transform="rotate(0 626.2 1114.4)" stroke-width="2.3" fill="none"/>
<ellipse cx="674.49" cy="1120.01" rx="4.3" ry="2.9" transform="rotate(0 674.49 1120.01)" stroke-width="2.18" fill="none"/>
<ellipse cx="669.73" cy="1128.57" rx="4.3" ry="2.9" transform="rotate(0 669.73 1128.57)" stroke-width="2.18" fill="none"/>
<ellipse cx="660.66" cy="1135.86" rx="4.3" ry="2.9" transform="rotate(0 660.66 1135.86)" stroke-width="2.18" fill="none"/>
<ellipse cx="648.18" cy="1141.16" rx="4.3" ry="2.9" transform="rotate(0 648.18 1141.16)" stroke-width="2.18" fill="none"/>
<ellipse cx="633.51" cy="1143.95" rx="4.3" ry="2.9" transform="rotate(0 633.51 1143.95)" stroke-width="2.18" fill="none"/>
<ellipse cx="618.09" cy="1143.95" rx="4.3" ry="2.9" transform="rotate(0 618.09 1143.95)" stroke-width="2.18" fill="none"/>
<ellipse cx="603.42" cy="1141.16" rx="4.3" ry="2.9" transform="rotate(0 603.42 1141.16)" stroke-width="2.18" fill="none"/>
<ellipse cx="590.94" cy="1135.86" rx="4.3" ry="2.9" transform="rotate(0 590.94 1135.86)" stroke-width="2.18" fill="none"/>
<ellipse cx="581.87" cy="1128.57" rx="4.3" ry="2.9" transform="rotate(0 581.87 1128.57)" stroke-width="2.18" fill="none"/>
<ellipse cx="577.11" cy="1120.01" rx="4.3" ry="2.9" transform="rotate(0 577.11 1120.01)" stroke-width="2.18" fill="none"/>
<ellipse cx="577.11" cy="1110.99" rx="4.3" ry="2.9" transform="rotate(0 577.11 1110.99)" stroke-width="2.18" fill="none"/>
<ellipse cx="581.87" cy="1102.43" rx="4.3" ry="2.9" transform="rotate(0 581.87 1102.43)" stroke-width="2.18" fill="none"/>
<ellipse cx="590.94" cy="1095.14" rx="4.3" ry="2.9" transform="rotate(0 590.94 1095.14)" stroke-width="2.18" fill="none"/>
<ellipse cx="603.42" cy="1089.84" rx="4.3" ry="2.9" transform="rotate(0 603.42 1089.84)" stroke-width="2.18" fill="none"/>
<ellipse cx="618.09" cy="1087.05" rx="4.3" ry="2.9" transform="rotate(0 618.09 1087.05)" stroke-width="2.18" fill="none"/>
<ellipse cx="633.51" cy="1087.05" rx="4.3" ry="2.9" transform="rotate(0 633.51 1087.05)" stroke-width="2.18" fill="none"/>
<ellipse cx="648.18" cy="1089.84" rx="4.3" ry="2.9" transform="rotate(0 648.18 1089.84)" stroke-width="2.18" fill="none"/>
<ellipse cx="660.66" cy="1095.14" rx="4.3" ry="2.9" transform="rotate(0 660.66 1095.14)" stroke-width="2.18" fill="none"/>
<ellipse cx="669.73" cy="1102.43" rx="4.3" ry="2.9" transform="rotate(0 669.73 1102.43)" stroke-width="2.18" fill="none"/>
<ellipse cx="674.49" cy="1110.99" rx="4.3" ry="2.9" transform="rotate(0 674.49 1110.99)" stroke-width="2.18" fill="none"/>
<path d="M528.7,1002 A97.3,54.2 0 0 1 723.3,1002 L723.3,1033 A97.3,54.2 0 0 1 528.7,1033 Z M569,1002 A57,34.3 0 1 0 683,1002 A57,34.3 0 1 0 569,1002 Z" fill="#fff" fill-rule="evenodd" stroke="none"/>
<path d="M723.3,1033.0 L723.09,1036.54 L722.47,1040.07 L721.43,1043.57 L719.98,1047.03 L718.14,1050.42 L715.89,1053.74 L713.27,1056.97 L710.26,1060.1 L706.9,1063.11 L703.19,1065.99 L699.15,1068.74 L694.8,1071.33 L690.15,1073.75 L685.23,1076.0 L680.06,1078.07 L674.65,1079.94 L669.03,1081.61 L663.24,1083.07 L657.28,1084.32 L651.18,1085.35 L644.98,1086.16 L638.7,1086.74 L632.36,1087.08 L626.0,1087.2 L619.64,1087.08 L613.3,1086.74 L607.02,1086.16 L600.82,1085.35 L594.72,1084.32 L588.76,1083.07 L582.97,1081.61 L577.35,1079.94 L571.94,1078.07 L566.77,1076.0 L561.85,1073.75 L557.2,1071.33 L552.85,1068.74 L548.81,1065.99 L545.1,1063.11 L541.74,1060.1 L538.73,1056.97 L536.11,1053.74 L533.86,1050.42 L532.02,1047.03 L530.57,1043.57 L529.53,1040.07 L528.91,1036.54 L528.7,1033.0" stroke-width="2.53" fill="none"/>
<path d="M710.26,974.9 L713.45,978.24 L716.21,981.7 L718.54,985.25 L720.41,988.89 L721.82,992.59 L722.77,996.33 L723.24,1000.11 L723.24,1003.89 L722.77,1007.67 L721.82,1011.41 L720.41,1015.11 L718.54,1018.75 L716.21,1022.3 L713.45,1025.76 L710.26,1029.1 L706.67,1032.31 L702.67,1035.37 L698.31,1038.27 L693.59,1040.99 L688.54,1043.52 L683.19,1045.85 L677.56,1047.96 L671.68,1049.86 L665.58,1051.51 L659.28,1052.93 L652.82,1054.1 L646.23,1055.02 L639.54,1055.67 L632.79,1056.07 L626.0,1056.2 L619.21,1056.07 L612.46,1055.67 L605.77,1055.02 L599.18,1054.1 L592.72,1052.93 L586.42,1051.51 L580.32,1049.86 L574.44,1047.96 L568.81,1045.85 L563.46,1043.52 L558.41,1040.99 L553.69,1038.27 L549.33,1035.37 L545.33,1032.31 L541.74,1029.1 L538.55,1025.76 L535.79,1022.3 L533.46,1018.75 L531.59,1015.11 L530.18,1011.41 L529.23,1007.67 L528.76,1003.89 L528.76,1000.11 L529.23,996.33 L530.18,992.59 L531.59,988.89 L533.46,985.25 L535.79,981.7 L538.55,978.24 L541.74,974.9" stroke-width="2.53" fill="none"/>
<line x1="528.7" y1="1002" x2="528.7" y2="1033" stroke-width="2.53"/>
<line x1="723.3" y1="1002" x2="723.3" y2="1033" stroke-width="2.53"/>
<path d="M723.11,1009.40 C723.29,1016.40 723.29,1029.40 723.11,1036.40 C722.67,1029.40 722.67,1016.40 723.11,1009.40 Z" stroke-width="1.95" fill="none"/>
<line x1="722.53" y1="1017.79" x2="722.53" y2="1035.79" stroke-width="2.53"/>
<path d="M721.58,1016.16 C722.38,1023.16 722.38,1036.16 721.58,1043.16 C720.53,1036.16 720.53,1023.16 721.58,1016.16 Z" stroke-width="1.95" fill="none"/>
<line x1="720.24" y1="1024.48" x2="720.24" y2="1042.48" stroke-width="2.53"/>
<path d="M718.54,1022.75 C719.94,1029.75 719.94,1042.75 718.54,1049.75 C716.90,1042.75 716.90,1029.75 718.54,1022.75 Z" stroke-width="1.95" fill="none"/>
<line x1="716.47" y1="1030.95" x2="716.47" y2="1048.95" stroke-width="2.53"/>
<path d="M714.04,1029.08 C716.02,1036.08 716.02,1049.08 714.04,1056.08 C711.83,1049.08 711.83,1036.08 714.04,1029.08 Z" stroke-width="1.95" fill="none"/>
<line x1="711.26" y1="1037.11" x2="711.26" y2="1055.11" stroke-width="2.53"/>
<path d="M708.15,1035.04 C710.69,1042.04 710.69,1055.04 708.15,1062.04 C705.41,1055.04 705.41,1042.04 708.15,1035.04 Z" stroke-width="1.95" fill="none"/>
<line x1="704.72" y1="1042.86" x2="704.72" y2="1060.86" stroke-width="2.53"/>
<path d="M700.97,1040.55 C704.01,1047.55 704.01,1060.55 700.97,1067.55 C697.74,1060.55 697.74,1047.55 700.97,1040.55 Z" stroke-width="1.95" fill="none"/>
<line x1="696.93" y1="1048.1" x2="696.93" y2="1066.1" stroke-width="2.53"/>
<path d="M692.61,1045.51 C696.11,1052.51 696.11,1065.51 692.61,1072.51 C688.93,1065.51 688.93,1052.51 692.61,1045.51 Z" stroke-width="1.95" fill="none"/>
<line x1="688.02" y1="1052.76" x2="688.02" y2="1070.76" stroke-width="2.53"/>
<path d="M683.19,1049.85 C687.10,1056.85 687.10,1069.85 683.19,1076.85 C679.14,1069.85 679.14,1056.85 683.19,1049.85 Z" stroke-width="1.95" fill="none"/>
<line x1="678.14" y1="1056.76" x2="678.14" y2="1074.76" stroke-width="2.53"/>
<path d="M672.87,1053.50 C677.13,1060.50 677.13,1073.50 672.87,1080.50 C668.50,1073.50 668.50,1060.50 672.87,1053.50 Z" stroke-width="1.95" fill="none"/>
<line x1="667.43" y1="1060.04" x2="667.43" y2="1078.04" stroke-width="2.53"/>
<path d="M661.82,1056.39 C666.35,1063.39 666.35,1076.39 661.82,1083.39 C657.20,1076.39 657.20,1063.39 661.82,1056.39 Z" stroke-width="1.95" fill="none"/>
<line x1="656.07" y1="1062.55" x2="656.07" y2="1080.55" stroke-width="2.53"/>
<path d="M650.20,1058.50 C654.93,1065.50 654.93,1078.50 650.20,1085.50 C645.40,1078.50 645.40,1065.50 650.20,1058.50 Z" stroke-width="1.95" fill="none"/>
<line x1="644.23" y1="1064.24" x2="644.23" y2="1082.24" stroke-width="2.53"/>
<path d="M638.19,1059.77 C643.06,1066.77 643.06,1079.77 638.19,1086.77 C633.30,1079.77 633.30,1066.77 638.19,1059.77 Z" stroke-width="1.95" fill="none"/>
<line x1="632.11" y1="1065.09" x2="632.11" y2="1083.09" stroke-width="2.53"/>
<path d="M626.00,1060.20 C630.92,1067.20 630.92,1080.20 626.00,1087.20 C621.08,1080.20 621.08,1067.20 626.00,1060.20 Z" stroke-width="1.95" fill="none"/>
<line x1="619.89" y1="1065.09" x2="619.89" y2="1083.09" stroke-width="2.53"/>
<path d="M613.81,1059.77 C618.70,1066.77 618.70,1079.77 613.81,1086.77 C608.94,1079.77 608.94,1066.77 613.81,1059.77 Z" stroke-width="1.95" fill="none"/>
<line x1="607.77" y1="1064.24" x2="607.77" y2="1082.24" stroke-width="2.53"/>
<path d="M601.80,1058.50 C606.60,1065.50 606.60,1078.50 601.80,1085.50 C597.07,1078.50 597.07,1065.50 601.80,1058.50 Z" stroke-width="1.95" fill="none"/>
<line x1="595.93" y1="1062.55" x2="595.93" y2="1080.55" stroke-width="2.53"/>
<path d="M590.18,1056.39 C594.80,1063.39 594.80,1076.39 590.18,1083.39 C585.65,1076.39 585.65,1063.39 590.18,1056.39 Z" stroke-width="1.95" fill="none"/>
<line x1="584.57" y1="1060.04" x2="584.57" y2="1078.04" stroke-width="2.53"/>
<path d="M579.13,1053.50 C583.50,1060.50 583.50,1073.50 579.13,1080.50 C574.87,1073.50 574.87,1060.50 579.13,1053.50 Z" stroke-width="1.95" fill="none"/>
<line x1="573.86" y1="1056.76" x2="573.86" y2="1074.76" stroke-width="2.53"/>
<path d="M568.81,1049.85 C572.86,1056.85 572.86,1069.85 568.81,1076.85 C564.90,1069.85 564.90,1056.85 568.81,1049.85 Z" stroke-width="1.95" fill="none"/>
<line x1="563.98" y1="1052.76" x2="563.98" y2="1070.76" stroke-width="2.53"/>
<path d="M559.39,1045.51 C563.07,1052.51 563.07,1065.51 559.39,1072.51 C555.89,1065.51 555.89,1052.51 559.39,1045.51 Z" stroke-width="1.95" fill="none"/>
<line x1="555.07" y1="1048.1" x2="555.07" y2="1066.1" stroke-width="2.53"/>
<path d="M551.03,1040.55 C554.26,1047.55 554.26,1060.55 551.03,1067.55 C547.99,1060.55 547.99,1047.55 551.03,1040.55 Z" stroke-width="1.95" fill="none"/>
<line x1="547.28" y1="1042.86" x2="547.28" y2="1060.86" stroke-width="2.53"/>
<path d="M543.85,1035.04 C546.59,1042.04 546.59,1055.04 543.85,1062.04 C541.31,1055.04 541.31,1042.04 543.85,1035.04 Z" stroke-width="1.95" fill="none"/>
<line x1="540.74" y1="1037.11" x2="540.74" y2="1055.11" stroke-width="2.53"/>
<path d="M537.96,1029.08 C540.17,1036.08 540.17,1049.08 537.96,1056.08 C535.98,1049.08 535.98,1036.08 537.96,1029.08 Z" stroke-width="1.95" fill="none"/>
<line x1="535.53" y1="1030.95" x2="535.53" y2="1048.95" stroke-width="2.53"/>
<path d="M533.46,1022.75 C535.10,1029.75 535.10,1042.75 533.46,1049.75 C532.06,1042.75 532.06,1029.75 533.46,1022.75 Z" stroke-width="1.95" fill="none"/>
<line x1="531.76" y1="1024.48" x2="531.76" y2="1042.48" stroke-width="2.53"/>
<path d="M530.42,1016.16 C531.47,1023.16 531.47,1036.16 530.42,1043.16 C529.62,1036.16 529.62,1023.16 530.42,1016.16 Z" stroke-width="1.95" fill="none"/>
<line x1="529.47" y1="1017.79" x2="529.47" y2="1035.79" stroke-width="2.53"/>
<path d="M528.89,1009.40 C529.33,1016.40 529.33,1029.40 528.89,1036.40 C528.71,1029.40 528.71,1016.40 528.89,1009.40 Z" stroke-width="1.95" fill="none"/>
<path d="M716.65,997.6 L716.98,1001.08 L716.88,1004.57 L716.35,1008.05 L715.38,1011.49 L713.98,1014.89 L712.17,1018.23 L709.95,1021.5 L707.32,1024.66 L704.31,1027.73 L700.92,1030.66 L697.18,1033.47 L693.09,1036.12 L688.69,1038.61 L683.99,1040.92 L679.01,1043.05 L673.77,1044.98 L668.31,1046.71 L662.65,1048.22 L656.81,1049.52 L650.83,1050.58 L644.73,1051.42 L638.53,1052.02 L632.28,1052.38 L626.0,1052.5 L619.72,1052.38 L613.47,1052.02 L607.27,1051.42 L601.17,1050.58 L595.19,1049.52 L589.35,1048.22 L583.69,1046.71 L578.23,1044.98 L572.99,1043.05 L568.01,1040.92 L563.31,1038.61 L558.91,1036.12 L554.82,1033.47 L551.08,1030.66 L547.69,1027.73 L544.68,1024.66 L542.05,1021.5 L539.83,1018.23 L538.02,1014.89 L536.62,1011.49 L535.65,1008.05 L535.12,1004.57 L535.02,1001.08 L535.35,997.6" stroke-width="2.07" fill="none"/>
<path d="M700.32,982.69 L702.95,986.21 L705.05,989.85 L706.59,993.57 L707.58,997.36 L707.99,1001.17 L707.82,1004.99 L707.09,1008.79 L705.79,1012.54 L703.93,1016.22 L701.53,1019.8 L698.6,1023.25 L695.16,1026.55 L691.24,1029.69 L686.86,1032.63 L682.05,1035.35 L676.86,1037.85 L671.31,1040.09 L665.44,1042.07 L659.3,1043.76 L652.92,1045.17 L646.36,1046.27 L639.65,1047.06 L632.85,1047.54 L626.0,1047.7 L619.15,1047.54 L612.35,1047.06 L605.64,1046.27 L599.08,1045.17 L592.7,1043.76 L586.56,1042.07 L580.69,1040.09 L575.14,1037.85 L569.95,1035.35 L565.14,1032.63 L560.76,1029.69 L556.84,1026.55 L553.4,1023.25 L550.47,1019.8 L548.07,1016.22 L546.21,1012.54 L544.91,1008.79 L544.18,1004.99 L544.01,1001.17 L544.42,997.36 L545.41,993.57 L546.95,989.85 L549.05,986.21 L551.68,982.69" stroke-width="2.3" fill="none"/>
<path d="M695.54,987.98 L697.34,991.1 L698.68,994.29 L699.56,997.54 L699.97,1000.81 L699.9,1004.09 L699.37,1007.35 L698.36,1010.58 L696.89,1013.76 L694.97,1016.86 L692.6,1019.87 L689.82,1022.76 L686.62,1025.52 L683.03,1028.13 L679.08,1030.57 L674.79,1032.83 L670.19,1034.89 L665.31,1036.74 L660.17,1038.37 L654.82,1039.76 L649.28,1040.92 L643.59,1041.83 L637.79,1042.48 L631.91,1042.87 L626.0,1043.0 L620.09,1042.87 L614.21,1042.48 L608.41,1041.83 L602.72,1040.92 L597.18,1039.76 L591.83,1038.37 L586.69,1036.74 L581.81,1034.89 L577.21,1032.83 L572.92,1030.57 L568.97,1028.13 L565.38,1025.52 L562.18,1022.76 L559.4,1019.87 L557.03,1016.86 L555.11,1013.76 L553.64,1010.58 L552.63,1007.35 L552.1,1004.09 L552.03,1000.81 L552.44,997.54 L553.32,994.29 L554.66,991.1 L556.46,987.98" stroke-width="2.07" fill="none"/>
<ellipse cx="702.3" cy="1011.0" rx="3.6" ry="2.4" transform="rotate(0 702.3 1011.0)" stroke-width="1.84" fill="#fff"/>
<ellipse cx="676.14" cy="1035.17" rx="3.6" ry="2.4" transform="rotate(0 676.14 1035.17)" stroke-width="1.84" fill="#fff"/>
<ellipse cx="644.87" cy="1044.01" rx="3.6" ry="2.4" transform="rotate(0 644.87 1044.01)" stroke-width="1.84" fill="#fff"/>
<ellipse cx="607.13" cy="1044.01" rx="3.6" ry="2.4" transform="rotate(0 607.13 1044.01)" stroke-width="1.84" fill="#fff"/>
<ellipse cx="575.86" cy="1035.17" rx="3.6" ry="2.4" transform="rotate(0 575.86 1035.17)" stroke-width="1.84" fill="#fff"/>
<ellipse cx="549.7" cy="1011.0" rx="3.6" ry="2.4" transform="rotate(0 549.7 1011.0)" stroke-width="1.84" fill="#fff"/>
<path d="M681.06,993.12 L682.02,995.68 L682.66,998.27 L682.97,1000.88 L682.95,1003.5 L682.59,1006.11 L681.9,1008.69 L680.89,1011.24 L679.56,1013.73 L677.92,1016.16 L675.97,1018.5 L673.74,1020.74 L671.22,1022.88 L668.44,1024.9 L665.42,1026.78 L662.16,1028.51 L658.69,1030.1 L655.04,1031.52 L651.21,1032.76 L647.24,1033.83 L643.14,1034.71 L638.94,1035.4 L634.67,1035.9 L630.35,1036.2 L626.0,1036.3 L621.65,1036.2 L617.33,1035.9 L613.06,1035.4 L608.86,1034.71 L604.76,1033.83 L600.79,1032.76 L596.96,1031.52 L593.31,1030.1 L589.84,1028.51 L586.58,1026.78 L583.56,1024.9 L580.78,1022.88 L578.26,1020.74 L576.03,1018.5 L574.08,1016.16 L572.44,1013.73 L571.11,1011.24 L570.1,1008.69 L569.41,1006.11 L569.05,1003.5 L569.03,1000.88 L569.34,998.27 L569.98,995.68 L570.94,993.12" stroke-width="2.3" fill="none"/>
<path d="M530.55,937 A95.95,63.3 0 1 0 722.45,937 A95.95,63.3 0 1 0 530.55,937 Z M568.65,936.8 A57.75,37.7 0 1 0 684.15,936.8 A57.75,37.7 0 1 0 568.65,936.8 Z" fill="#fff" fill-rule="evenodd" stroke="none"/>
<ellipse cx="626.5" cy="937" rx="95.95" ry="63.3" transform="rotate(0 626.5 937)" stroke-width="2.64" fill="none"/>
<ellipse cx="626.4" cy="936.8" rx="57.75" ry="37.7" transform="rotate(0 626.4 936.8)" stroke-width="2.76" fill="none"/>
<ellipse cx="598.3" cy="888.3" rx="2.4" ry="1.8" transform="rotate(0 598.3 888.3)" stroke-width="1.2" fill="#000"/>
<ellipse cx="571.9" cy="899.1" rx="2.4" ry="1.8" transform="rotate(0 571.9 899.1)" stroke-width="1.2" fill="#000"/>
<ellipse cx="554" cy="915.4" rx="2.4" ry="1.8" transform="rotate(0 554 915.4)" stroke-width="1.2" fill="#000"/>
<ellipse cx="552.5" cy="954.5" rx="2.4" ry="1.8" transform="rotate(0 552.5 954.5)" stroke-width="1.2" fill="#000"/>
<ellipse cx="593.5" cy="983.7" rx="2.4" ry="1.8" transform="rotate(0 593.5 983.7)" stroke-width="1.2" fill="#000"/>
<ellipse cx="654.6" cy="985" rx="2.4" ry="1.8" transform="rotate(0 654.6 985)" stroke-width="1.2" fill="#000"/>
<ellipse cx="680.4" cy="974.2" rx="2.4" ry="1.8" transform="rotate(0 680.4 974.2)" stroke-width="1.2" fill="#000"/>
<ellipse cx="697.9" cy="957.7" rx="2.4" ry="1.8" transform="rotate(0 697.9 957.7)" stroke-width="1.2" fill="#000"/>
<ellipse cx="700" cy="918.2" rx="2.4" ry="1.8" transform="rotate(0 700 918.2)" stroke-width="1.2" fill="#000"/>
<ellipse cx="658.4" cy="889.6" rx="2.4" ry="1.8" transform="rotate(0 658.4 889.6)" stroke-width="1.2" fill="#000"/>
<ellipse cx="644.1" cy="886.7" rx="7.8" ry="5.2" transform="rotate(0 644.1 886.7)" stroke-width="2.18" fill="none"/>
<ellipse cx="607.8" cy="986" rx="9.2" ry="5.8" transform="rotate(0 607.8 986)" stroke-width="2.18" fill="none"/>
<clipPath id="bore42"><ellipse cx="626.4" cy="936.8" rx="56.6" ry="36.6"/></clipPath>
<g clip-path="url(#bore42)">
<path d="M564.9,955.7 L565.03,954.44 L565.43,953.18 L566.09,951.93 L567.01,950.7 L568.19,949.5 L569.62,948.31 L571.29,947.16 L573.21,946.05 L575.35,944.98 L577.71,943.95 L580.29,942.97 L583.06,942.05 L586.02,941.19 L589.16,940.39 L592.45,939.65 L595.9,938.99 L599.48,938.39 L603.17,937.87 L606.97,937.42 L610.85,937.06 L614.8,936.77 L618.81,936.57 L622.85,936.44 L626.9,936.4 L630.95,936.44 L634.99,936.57 L639.0,936.77 L642.95,937.06 L646.83,937.42 L650.63,937.87 L654.32,938.39 L657.9,938.99 L661.35,939.65 L664.64,940.39 L667.78,941.19 L670.74,942.05 L673.51,942.97 L676.09,943.95 L678.45,944.98 L680.59,946.05 L682.51,947.16 L684.18,948.31 L685.61,949.5 L686.79,950.7 L687.71,951.93 L688.37,953.18 L688.77,954.44 L688.9,955.7" stroke-width="2.07" fill="none"/>
<path d="M569.9,965.0 L570.02,963.76 L570.39,962.52 L571.0,961.29 L571.84,960.08 L572.92,958.89 L574.24,957.73 L575.78,956.6 L577.54,955.5 L579.51,954.44 L581.68,953.43 L584.05,952.47 L586.59,951.56 L589.32,950.72 L592.2,949.93 L595.23,949.2 L598.4,948.55 L601.69,947.96 L605.09,947.45 L608.58,947.01 L612.15,946.65 L615.78,946.37 L619.46,946.16 L623.17,946.04 L626.9,946.0 L630.63,946.04 L634.34,946.16 L638.02,946.37 L641.65,946.65 L645.22,947.01 L648.71,947.45 L652.11,947.96 L655.4,948.55 L658.57,949.2 L661.6,949.93 L664.48,950.72 L667.21,951.56 L669.75,952.47 L672.12,953.43 L674.29,954.44 L676.26,955.5 L678.02,956.6 L679.56,957.73 L680.88,958.89 L681.96,960.08 L682.8,961.29 L683.41,962.52 L683.78,963.76 L683.9,965.0" stroke-width="1.84" fill="none"/>
<path d="M590.9,975.0 L590.98,974.15 L591.21,973.3 L591.59,972.46 L592.13,971.64 L592.81,970.82 L593.64,970.03 L594.61,969.25 L595.72,968.5 L596.97,967.78 L598.34,967.09 L599.83,966.43 L601.44,965.81 L603.16,965.23 L604.98,964.69 L606.9,964.19 L608.9,963.74 L610.98,963.34 L613.12,962.99 L615.33,962.69 L617.58,962.44 L619.88,962.25 L622.2,962.11 L624.55,962.03 L626.9,962.0 L629.25,962.03 L631.6,962.11 L633.92,962.25 L636.22,962.44 L638.47,962.69 L640.68,962.99 L642.82,963.34 L644.9,963.74 L646.9,964.19 L648.82,964.69 L650.64,965.23 L652.36,965.81 L653.97,966.43 L655.46,967.09 L656.83,967.78 L658.08,968.5 L659.19,969.25 L660.16,970.03 L660.99,970.82 L661.67,971.64 L662.21,972.46 L662.59,973.3 L662.82,974.15 L662.9,975.0" stroke-width="3.91" fill="none"/>
<path d="M595.9,979.0 L595.97,978.41 L596.17,977.83 L596.5,977.24 L596.96,976.67 L597.55,976.11 L598.26,975.56 L599.1,975.02 L600.05,974.5 L601.12,974.0 L602.31,973.52 L603.59,973.07 L604.98,972.64 L606.46,972.23 L608.03,971.86 L609.68,971.52 L611.4,971.21 L613.19,970.93 L615.04,970.69 L616.94,970.48 L618.88,970.31 L620.85,970.17 L622.85,970.08 L624.87,970.02 L626.9,970.0 L628.93,970.02 L630.95,970.08 L632.95,970.17 L634.92,970.31 L636.86,970.48 L638.76,970.69 L640.61,970.93 L642.4,971.21 L644.12,971.52 L645.77,971.86 L647.34,972.23 L648.82,972.64 L650.21,973.07 L651.49,973.52 L652.68,974.0 L653.75,974.5 L654.7,975.02 L655.54,975.56 L656.25,976.11 L656.84,976.67 L657.3,977.24 L657.63,977.83 L657.83,978.41 L657.9,979.0" stroke-width="1.4" fill="none"/>
<line x1="565.84" y1="952.35" x2="565.84" y2="954.55" stroke-width="1.84"/>
<line x1="569.02" y1="948.78" x2="569.02" y2="950.98" stroke-width="1.84"/>
<line x1="574.32" y1="945.47" x2="574.32" y2="947.67" stroke-width="1.84"/>
<line x1="581.56" y1="942.54" x2="581.56" y2="944.74" stroke-width="1.84"/>
<line x1="590.46" y1="940.09" x2="590.46" y2="942.29" stroke-width="1.84"/>
<line x1="600.7" y1="938.21" x2="600.7" y2="940.41" stroke-width="1.84"/>
<line x1="611.9" y1="936.97" x2="611.9" y2="939.17" stroke-width="1.84"/>
<line x1="623.66" y1="936.43" x2="623.66" y2="938.63" stroke-width="1.84"/>
<line x1="635.53" y1="936.59" x2="635.53" y2="938.79" stroke-width="1.84"/>
<line x1="647.09" y1="937.45" x2="647.09" y2="939.65" stroke-width="1.84"/>
<line x1="657.9" y1="938.99" x2="657.9" y2="941.19" stroke-width="1.84"/>
<line x1="667.58" y1="941.13" x2="667.58" y2="943.33" stroke-width="1.84"/>
<line x1="675.76" y1="943.82" x2="675.76" y2="946.02" stroke-width="1.84"/>
<line x1="682.14" y1="946.94" x2="682.14" y2="949.14" stroke-width="1.84"/>
<ellipse cx="601.1" cy="951.6" rx="3.4" ry="2.3" transform="rotate(0 601.1 951.6)" stroke-width="1.4" fill="#fff"/>
<ellipse cx="661.3" cy="953.5" rx="3.4" ry="2.3" transform="rotate(0 661.3 953.5)" stroke-width="1.4" fill="#fff"/>
</g>
<path d="M581.1,915.4 L601.1,929.7 L601.1,951.6" stroke-width="1.1" fill="none"/>
<line x1="527.6" y1="879.1" x2="552.5" y2="895.3" stroke-width="1.1"/>
<path d="M569.5,998 C571,993 576,991 585,991.5 C578,993 573,995 569.5,998 Z" stroke-width="1.0" fill="#000"/>
<path d="M683.5,998 C682,993 677,991 668,991.5 C675,993 680,995 683.5,998 Z" stroke-width="1.0" fill="#000"/>
<line x1="626" y1="874" x2="626" y2="1305" stroke-width="1.1"/>
<line x1="680" y1="664.6" x2="1000" y2="886.8" stroke-width="1.1"/>
<path d="M642.91,669.62 L642.06,668.99 L641.3,668.25 L640.62,667.4 L640.03,666.45 L639.53,665.41 L639.12,664.28 L638.82,663.06 L638.61,661.77 L638.51,660.42 L638.5,659.0 L638.6,657.54 L638.8,656.04 L639.1,654.51 L639.5,652.95 L639.99,651.38 L640.58,649.81 L641.25,648.25 L642.01,646.7 L642.85,645.19 L643.76,643.7 L644.75,642.26 L645.79,640.88 L646.89,639.56 L648.05,638.31 L649.24,637.13 L650.48,636.04 L651.74,635.05 L653.02,634.15 L654.31,633.36 L655.6,632.67 L656.9,632.1 L658.18,631.65 L659.44,631.31 L660.67,631.1 L661.87,631.01 L663.03,631.04 L664.13,631.19 L665.18,631.47 L666.17,631.87 L667.09,632.38" stroke-width="2.64" fill="none"/>
<line x1="667.1" y1="632.4" x2="679.2" y2="639.6" stroke-width="2.53"/>
<line x1="642.9" y1="669.6" x2="655" y2="676.8" stroke-width="2.53"/>
<ellipse cx="667.1" cy="658.2" rx="22.2" ry="13.4" transform="rotate(-57 667.1 658.2)" stroke-width="2.76" fill="none"/>
<ellipse cx="668" cy="658.7" rx="19" ry="11" transform="rotate(-57 668 658.7)" stroke-width="1.72" fill="none"/>
<path d="M689,648 L693,652.5 L699,650" stroke-width="1.84" fill="none"/>
<ellipse cx="702" cy="681.5" rx="23.7" ry="17.4" transform="rotate(-57 702 681.5)" stroke-width="2.99" fill="none"/>
<ellipse cx="702.3" cy="681.6" rx="20.8" ry="14.8" transform="rotate(-57 702.3 681.6)" stroke-width="1.84" fill="none"/>
<path d="M713,697 C713,690 718,684 722,685 L740,694 L752,692 L800,722 L830,738 C842,745 846,770 836,780 C830,787 815,789 803,779 L733,735 L726,711 C718,709 713,704 713,697 Z" fill="#fff" fill-rule="evenodd" stroke="none"/>
<path d="M722,685 C718,684 713,690 713,697 C713,704 718,709 726,711" stroke-width="2.3" fill="none"/>
<line x1="722" y1="685" x2="740" y2="695" stroke-width="2.3"/>
<path d="M729.83,728.19 L729.05,727.61 L728.33,726.92 L727.7,726.13 L727.14,725.25 L726.67,724.28 L726.29,723.23 L726.0,722.1 L725.81,720.91 L725.7,719.65 L725.69,718.34 L725.78,716.99 L725.96,715.6 L726.23,714.18 L726.59,712.74 L727.04,711.29 L727.58,709.84 L728.2,708.39 L728.9,706.97 L729.67,705.56 L730.52,704.19 L731.42,702.86 L732.39,701.59 L733.41,700.37 L734.48,699.21 L735.59,698.13 L736.73,697.13 L737.9,696.21 L739.08,695.39 L740.28,694.66 L741.48,694.03 L742.68,693.51 L743.87,693.09 L745.04,692.78 L746.19,692.59 L747.3,692.51 L748.38,692.54 L749.41,692.69 L750.39,692.95 L751.31,693.33 L752.17,693.81" stroke-width="2.64" fill="none"/>
<path d="M729.52,726.53 L729.16,725.69 L728.86,724.81 L728.62,723.87 L728.44,722.88 L728.33,721.85 L728.29,720.78 L728.31,719.67 L728.39,718.54 L728.54,717.38 L728.76,716.2 L729.04,715.0 L729.38,713.8 L729.78,712.59 L730.24,711.38 L730.76,710.17 L731.34,708.98 L731.96,707.8 L732.64,706.65 L733.36,705.52 L734.13,704.42 L734.94,703.36 L735.78,702.33 L736.66,701.35 L737.57,700.42 L738.5,699.54 L739.46,698.72 L740.43,697.96 L741.42,697.26 L742.41,696.63 L743.41,696.07 L744.42,695.57 L745.41,695.15 L746.41,694.81 L747.38,694.54 L748.35,694.35 L749.29,694.24 L750.21,694.21 L751.1,694.26 L751.95,694.38 L752.78,694.59" stroke-width="1.72" fill="none"/>
<path d="M738.03,733.49 L737.25,732.91 L736.53,732.22 L735.9,731.43 L735.34,730.55 L734.87,729.58 L734.49,728.53 L734.2,727.4 L734.01,726.21 L733.9,724.95 L733.89,723.64 L733.98,722.29 L734.16,720.9 L734.43,719.48 L734.79,718.04 L735.24,716.59 L735.78,715.14 L736.4,713.69 L737.1,712.27 L737.87,710.86 L738.72,709.49 L739.62,708.16 L740.59,706.89 L741.61,705.67 L742.68,704.51 L743.79,703.43 L744.93,702.43 L746.1,701.51 L747.28,700.69 L748.48,699.96 L749.68,699.33 L750.88,698.81 L752.07,698.39 L753.24,698.08 L754.39,697.89 L755.5,697.81 L756.58,697.84 L757.61,697.99 L758.59,698.25 L759.51,698.63 L760.37,699.11" stroke-width="2.64" fill="none"/>
<path d="M737.72,731.83 L737.36,730.99 L737.06,730.11 L736.82,729.17 L736.64,728.18 L736.53,727.15 L736.49,726.08 L736.51,724.97 L736.59,723.84 L736.74,722.68 L736.96,721.5 L737.24,720.3 L737.58,719.1 L737.98,717.89 L738.44,716.68 L738.96,715.47 L739.54,714.28 L740.16,713.1 L740.84,711.95 L741.56,710.82 L742.33,709.72 L743.14,708.66 L743.98,707.63 L744.86,706.65 L745.77,705.72 L746.7,704.84 L747.66,704.02 L748.63,703.26 L749.62,702.56 L750.61,701.93 L751.61,701.37 L752.62,700.87 L753.61,700.45 L754.61,700.11 L755.58,699.84 L756.55,699.65 L757.49,699.54 L758.41,699.51 L759.3,699.56 L760.15,699.68 L760.98,699.89" stroke-width="1.72" fill="none"/>
<path d="M746.23,738.79 L745.45,738.21 L744.73,737.52 L744.1,736.73 L743.54,735.85 L743.07,734.88 L742.69,733.83 L742.4,732.7 L742.21,731.51 L742.1,730.25 L742.09,728.94 L742.18,727.59 L742.36,726.2 L742.63,724.78 L742.99,723.34 L743.44,721.89 L743.98,720.44 L744.6,718.99 L745.3,717.57 L746.07,716.16 L746.92,714.79 L747.82,713.46 L748.79,712.19 L749.81,710.97 L750.88,709.81 L751.99,708.73 L753.13,707.73 L754.3,706.81 L755.48,705.99 L756.68,705.26 L757.88,704.63 L759.08,704.11 L760.27,703.69 L761.44,703.38 L762.59,703.19 L763.7,703.11 L764.78,703.14 L765.81,703.29 L766.79,703.55 L767.71,703.93 L768.57,704.41" stroke-width="2.64" fill="none"/>
<path d="M745.92,737.13 L745.56,736.29 L745.26,735.41 L745.02,734.47 L744.84,733.48 L744.73,732.45 L744.69,731.38 L744.71,730.27 L744.79,729.14 L744.94,727.98 L745.16,726.8 L745.44,725.6 L745.78,724.4 L746.18,723.19 L746.64,721.98 L747.16,720.77 L747.74,719.58 L748.36,718.4 L749.04,717.25 L749.76,716.12 L750.53,715.02 L751.34,713.96 L752.18,712.93 L753.06,711.95 L753.97,711.02 L754.9,710.14 L755.86,709.32 L756.83,708.56 L757.82,707.86 L758.81,707.23 L759.81,706.67 L760.82,706.17 L761.81,705.75 L762.81,705.41 L763.78,705.14 L764.75,704.95 L765.69,704.84 L766.61,704.81 L767.5,704.86 L768.35,704.98 L769.18,705.19" stroke-width="1.72" fill="none"/>
<path d="M754.43,744.09 L753.65,743.51 L752.93,742.82 L752.3,742.03 L751.74,741.15 L751.27,740.18 L750.89,739.13 L750.6,738.0 L750.41,736.81 L750.3,735.55 L750.29,734.24 L750.38,732.89 L750.56,731.5 L750.83,730.08 L751.19,728.64 L751.64,727.19 L752.18,725.74 L752.8,724.29 L753.5,722.87 L754.27,721.46 L755.12,720.09 L756.02,718.76 L756.99,717.49 L758.01,716.27 L759.08,715.11 L760.19,714.03 L761.33,713.03 L762.5,712.11 L763.68,711.29 L764.88,710.56 L766.08,709.93 L767.28,709.41 L768.47,708.99 L769.64,708.68 L770.79,708.49 L771.9,708.41 L772.98,708.44 L774.01,708.59 L774.99,708.85 L775.91,709.23 L776.77,709.71" stroke-width="2.64" fill="none"/>
<path d="M754.12,742.43 L753.76,741.59 L753.46,740.71 L753.22,739.77 L753.04,738.78 L752.93,737.75 L752.89,736.68 L752.91,735.57 L752.99,734.44 L753.14,733.28 L753.36,732.1 L753.64,730.9 L753.98,729.7 L754.38,728.49 L754.84,727.28 L755.36,726.07 L755.94,724.88 L756.56,723.7 L757.24,722.55 L757.96,721.42 L758.73,720.32 L759.54,719.26 L760.38,718.23 L761.26,717.25 L762.17,716.32 L763.1,715.44 L764.06,714.62 L765.03,713.86 L766.02,713.16 L767.01,712.53 L768.01,711.97 L769.02,711.47 L770.01,711.05 L771.01,710.71 L771.98,710.44 L772.95,710.25 L773.89,710.14 L774.81,710.11 L775.7,710.16 L776.55,710.28 L777.38,710.49" stroke-width="1.72" fill="none"/>
<path d="M762.63,749.39 L761.85,748.81 L761.13,748.12 L760.5,747.33 L759.94,746.45 L759.47,745.48 L759.09,744.43 L758.8,743.3 L758.61,742.11 L758.5,740.85 L758.49,739.54 L758.58,738.19 L758.76,736.8 L759.03,735.38 L759.39,733.94 L759.84,732.49 L760.38,731.04 L761.0,729.59 L761.7,728.17 L762.47,726.76 L763.32,725.39 L764.22,724.06 L765.19,722.79 L766.21,721.57 L767.28,720.41 L768.39,719.33 L769.53,718.33 L770.7,717.41 L771.88,716.59 L773.08,715.86 L774.28,715.23 L775.48,714.71 L776.67,714.29 L777.84,713.98 L778.99,713.79 L780.1,713.71 L781.18,713.74 L782.21,713.89 L783.19,714.15 L784.11,714.53 L784.97,715.01" stroke-width="2.64" fill="none"/>
<path d="M762.32,747.73 L761.96,746.89 L761.66,746.01 L761.42,745.07 L761.24,744.08 L761.13,743.05 L761.09,741.98 L761.11,740.87 L761.19,739.74 L761.34,738.58 L761.56,737.4 L761.84,736.2 L762.18,735.0 L762.58,733.79 L763.04,732.58 L763.56,731.37 L764.14,730.18 L764.76,729.0 L765.44,727.85 L766.16,726.72 L766.93,725.62 L767.74,724.56 L768.58,723.53 L769.46,722.55 L770.37,721.62 L771.3,720.74 L772.26,719.92 L773.23,719.16 L774.22,718.46 L775.21,717.83 L776.21,717.27 L777.22,716.77 L778.21,716.35 L779.21,716.01 L780.18,715.74 L781.15,715.55 L782.09,715.44 L783.01,715.41 L783.9,715.46 L784.75,715.58 L785.58,715.79" stroke-width="1.72" fill="none"/>
<path d="M770.83,754.69 L770.05,754.11 L769.33,753.42 L768.7,752.63 L768.14,751.75 L767.67,750.78 L767.29,749.73 L767.0,748.6 L766.81,747.41 L766.7,746.15 L766.69,744.84 L766.78,743.49 L766.96,742.1 L767.23,740.68 L767.59,739.24 L768.04,737.79 L768.58,736.34 L769.2,734.89 L769.9,733.47 L770.67,732.06 L771.52,730.69 L772.42,729.36 L773.39,728.09 L774.41,726.87 L775.48,725.71 L776.59,724.63 L777.73,723.63 L778.9,722.71 L780.08,721.89 L781.28,721.16 L782.48,720.53 L783.68,720.01 L784.87,719.59 L786.04,719.28 L787.19,719.09 L788.3,719.01 L789.38,719.04 L790.41,719.19 L791.39,719.45 L792.31,719.83 L793.17,720.31" stroke-width="2.64" fill="none"/>
<path d="M770.52,753.03 L770.16,752.19 L769.86,751.31 L769.62,750.37 L769.44,749.38 L769.33,748.35 L769.29,747.28 L769.31,746.17 L769.39,745.04 L769.54,743.88 L769.76,742.7 L770.04,741.5 L770.38,740.3 L770.78,739.09 L771.24,737.88 L771.76,736.67 L772.34,735.48 L772.96,734.3 L773.64,733.15 L774.36,732.02 L775.13,730.92 L775.94,729.86 L776.78,728.83 L777.66,727.85 L778.57,726.92 L779.5,726.04 L780.46,725.22 L781.43,724.46 L782.42,723.76 L783.41,723.13 L784.41,722.57 L785.42,722.07 L786.41,721.65 L787.41,721.31 L788.38,721.04 L789.35,720.85 L790.29,720.74 L791.21,720.71 L792.1,720.76 L792.95,720.88 L793.78,721.09" stroke-width="1.72" fill="none"/>
<path d="M779.03,759.99 L778.25,759.41 L777.53,758.72 L776.9,757.93 L776.34,757.05 L775.87,756.08 L775.49,755.03 L775.2,753.9 L775.01,752.71 L774.9,751.45 L774.89,750.14 L774.98,748.79 L775.16,747.4 L775.43,745.98 L775.79,744.54 L776.24,743.09 L776.78,741.64 L777.4,740.19 L778.1,738.77 L778.87,737.36 L779.72,735.99 L780.62,734.66 L781.59,733.39 L782.61,732.17 L783.68,731.01 L784.79,729.93 L785.93,728.93 L787.1,728.01 L788.28,727.19 L789.48,726.46 L790.68,725.83 L791.88,725.31 L793.07,724.89 L794.24,724.58 L795.39,724.39 L796.5,724.31 L797.58,724.34 L798.61,724.49 L799.59,724.75 L800.51,725.13 L801.37,725.61" stroke-width="2.64" fill="none"/>
<path d="M778.72,758.33 L778.36,757.49 L778.06,756.61 L777.82,755.67 L777.64,754.68 L777.53,753.65 L777.49,752.58 L777.51,751.47 L777.59,750.34 L777.74,749.18 L777.96,748.0 L778.24,746.8 L778.58,745.6 L778.98,744.39 L779.44,743.18 L779.96,741.97 L780.54,740.78 L781.16,739.6 L781.84,738.45 L782.56,737.32 L783.33,736.22 L784.14,735.16 L784.98,734.13 L785.86,733.15 L786.77,732.22 L787.7,731.34 L788.66,730.52 L789.63,729.76 L790.62,729.06 L791.61,728.43 L792.61,727.87 L793.62,727.37 L794.61,726.95 L795.61,726.61 L796.58,726.34 L797.55,726.15 L798.49,726.04 L799.41,726.01 L800.3,726.06 L801.15,726.18 L801.98,726.39" stroke-width="1.72" fill="none"/>
<line x1="795" y1="727.5" x2="826" y2="747.5" stroke-width="2.3"/>
<line x1="733" y1="735" x2="803" y2="779" stroke-width="2.3"/>
<path d="M797,731 C791,739 791,754 797,763" stroke-width="1.84" fill="none"/>
<path d="M806,737 C800,745 800,760 806,769" stroke-width="1.84" fill="none"/>
<ellipse cx="819" cy="763" rx="26.5" ry="16.5" transform="rotate(-57 819 763)" stroke-width="2.64" fill="none"/>
<ellipse cx="820.5" cy="763.5" rx="23.5" ry="14.5" transform="rotate(-57 820.5 763.5)" stroke-width="1.84" fill="none"/>
<ellipse cx="822" cy="764" rx="19.5" ry="12" transform="rotate(-57 822 764)" stroke-width="2.07" fill="none"/>
<ellipse cx="820" cy="764" rx="1.3" ry="1.3" transform="rotate(0 820 764)" stroke-width="1" fill="#000"/>
<path d="M820,764 L824,766 L824,770" stroke-width="1.1" fill="none"/>
<ellipse cx="846" cy="782" rx="23.3" ry="17" transform="rotate(-57 846 782)" stroke-width="2.99" fill="none"/>
<ellipse cx="846.3" cy="782.2" rx="20.5" ry="14.5" transform="rotate(-57 846.3 782.2)" stroke-width="1.84" fill="none"/>
<ellipse cx="867" cy="795.5" rx="23.5" ry="17.5" transform="rotate(-57 867 795.5)" stroke-width="2.42" fill="none"/>
<ellipse cx="867.3" cy="795.7" rx="21" ry="15.2" transform="rotate(-57 867.3 795.7)" stroke-width="1.72" fill="none"/>
<line x1="895.4" y1="794.8" x2="901.3" y2="798.4" stroke-width="2.99"/>
<line x1="901.3" y1="798.4" x2="916.6" y2="809" stroke-width="1.1"/>
<path d="M907.2,817.3 L934.4,800.1 L950.9,813.7 L923.7,829.1 Z" stroke-width="2.3" fill="none"/>
<line x1="935" y1="801.5" x2="951" y2="813" stroke-width="1.0"/>
<path d="M907.2,817.3 C899,826 893,836 893,845 C893,852 895,858 900,862 L915.5,876.4" stroke-width="2.3" fill="none"/>
<path d="M923.7,829.1 C917,836 912,846 911.6,856 C911.5,866 915,874 921,878 C924,879 926,878.5 927.3,877.6 L955.6,859.8 C961,853 964.5,845 965.5,836 C966.3,829 965,821 962.7,817.3 C959,813 955,812.5 950.9,813.7" stroke-width="2.3" fill="none"/>
<ellipse cx="938.5" cy="845.6" rx="16.5" ry="21.5" transform="rotate(28 938.5 845.6)" stroke-width="2.3" fill="none"/>
<ellipse cx="954.5" cy="819.6" rx="2.4" ry="4.0" transform="rotate(30 954.5 819.6)" stroke-width="1.84" fill="none"/>
<ellipse cx="961.5" cy="831.5" rx="2.4" ry="4.0" transform="rotate(30 961.5 831.5)" stroke-width="1.84" fill="none"/>
<ellipse cx="954.5" cy="852.7" rx="2.4" ry="4.0" transform="rotate(30 954.5 852.7)" stroke-width="1.84" fill="none"/>
<ellipse cx="922.5" cy="839.7" rx="2.4" ry="4.0" transform="rotate(30 922.5 839.7)" stroke-width="1.84" fill="none"/>
<ellipse cx="915.5" cy="859.8" rx="2.4" ry="4.0" transform="rotate(30 915.5 859.8)" stroke-width="1.84" fill="none"/>
<ellipse cx="922.5" cy="872.8" rx="2.4" ry="4.0" transform="rotate(30 922.5 872.8)" stroke-width="1.84" fill="none"/>
<line x1="929.6" y1="877.6" x2="956.8" y2="896.5" stroke-width="1.1"/>
<path d="M983,877 L988,874.5 L992,878 L991,883 L986,884 Z" stroke-width="1.72" fill="#000"/>
<path d="M958,893.5 L987,912 L983,920 L955,901.5 C953,900 954,894.5 958,893.5 Z" stroke-width="2.3" fill="none"/>
<path d="M984,912.5 L993,917 C998,920 996,927 991,927 L982,922 Z" stroke-width="2.3" fill="none"/>
<ellipse cx="991.5" cy="921.8" rx="3.6" ry="4.6" transform="rotate(30 991.5 921.8)" stroke-width="2.07" fill="none"/>
<ellipse cx="992" cy="922" rx="1.3" ry="1.6" transform="rotate(30 992 922)" stroke-width="1.2" fill="none"/>
<path d="M597.6,736.7 A29.2,17.5 0 0 1 656,736.7 L656,784.7 A29.2,17.5 0 0 1 597.6,784.7 Z" fill="#fff" fill-rule="evenodd" stroke="none"/>
<ellipse cx="626.8" cy="736.7" rx="29.2" ry="17.5" transform="rotate(0 626.8 736.7)" stroke-width="2.53" fill="none"/>
<line x1="597.6" y1="736.7" x2="597.6" y2="784.7" stroke-width="2.53"/>
<line x1="656" y1="736.7" x2="656" y2="784.7" stroke-width="2.53"/>
<path d="M656.0,784.7 L655.91,786.07 L655.64,787.44 L655.19,788.79 L654.57,790.11 L653.78,791.4 L652.82,792.64 L651.7,793.84 L650.42,794.99 L649.0,796.07 L647.45,797.07 L645.76,798.01 L643.96,798.86 L642.06,799.62 L640.06,800.29 L637.97,800.87 L635.82,801.34 L633.62,801.72 L631.37,801.98 L629.09,802.15 L626.8,802.2 L624.51,802.15 L622.23,801.98 L619.98,801.72 L617.78,801.34 L615.63,800.87 L613.54,800.29 L611.54,799.62 L609.64,798.86 L607.84,798.01 L606.15,797.07 L604.6,796.07 L603.18,794.99 L601.9,793.84 L600.78,792.64 L599.82,791.4 L599.03,790.11 L598.41,788.79 L597.96,787.44 L597.69,786.07 L597.6,784.7" stroke-width="2.53" fill="none"/>
<ellipse cx="611" cy="727" rx="3.1" ry="2.6" transform="rotate(0 611 727)" stroke-width="1.0" fill="#000"/>
<ellipse cx="620" cy="724" rx="3.1" ry="2.6" transform="rotate(0 620 724)" stroke-width="1.0" fill="#000"/>
<ellipse cx="631" cy="725" rx="3.1" ry="2.6" transform="rotate(0 631 725)" stroke-width="1.0" fill="#000"/>
<ellipse cx="640" cy="731" rx="3.1" ry="2.6" transform="rotate(0 640 731)" stroke-width="1.0" fill="#000"/>
<ellipse cx="614" cy="739" rx="3.1" ry="2.6" transform="rotate(0 614 739)" stroke-width="1.0" fill="#000"/>
<ellipse cx="622" cy="745" rx="3.1" ry="2.6" transform="rotate(0 622 745)" stroke-width="1.0" fill="#000"/>
<ellipse cx="635" cy="741" rx="3.1" ry="2.6" transform="rotate(0 635 741)" stroke-width="1.0" fill="#000"/>
<ellipse cx="644" cy="739" rx="3.1" ry="2.6" transform="rotate(0 644 739)" stroke-width="1.0" fill="#000"/>
<ellipse cx="630" cy="752" rx="3.1" ry="2.6" transform="rotate(0 630 752)" stroke-width="1.0" fill="#000"/>
<ellipse cx="615" cy="752" rx="3.1" ry="2.6" transform="rotate(0 615 752)" stroke-width="1.0" fill="#000"/>
<ellipse cx="645" cy="750" rx="3.1" ry="2.6" transform="rotate(0 645 750)" stroke-width="1.0" fill="#000"/>
<ellipse cx="604" cy="737" rx="2.0" ry="1.4" transform="rotate(0 604 737)" stroke-width="1.3" fill="none"/>
<ellipse cx="651" cy="735" rx="2.0" ry="1.4" transform="rotate(0 651 735)" stroke-width="1.3" fill="none"/>
<ellipse cx="606" cy="749" rx="2.0" ry="1.4" transform="rotate(0 606 749)" stroke-width="1.3" fill="none"/>
<ellipse cx="640" cy="723" rx="2.0" ry="1.4" transform="rotate(0 640 723)" stroke-width="1.3" fill="none"/>
<line x1="620.4" y1="754" x2="620.4" y2="812" stroke-width="1.1"/>
<line x1="626.2" y1="754" x2="626.2" y2="812" stroke-width="1.1"/>
<path d="M578.2,811 L594,800.5 C596,799 598.5,799 600,800.5 L674.2,852.4 L674.2,864.4 L653.5,875.3 L578.2,823 Z" fill="#fff" fill-rule="evenodd" stroke="none"/>
<path d="M578.2,811 L594,800.5 C596,799 598.5,799 600,800.5 L674.2,852.4 L653.5,864.4 Z" stroke-width="2.3" fill="none"/>
<path d="M578.2,811 L578.2,823 L653.5,875.3 L653.5,864.4" stroke-width="2.3" fill="none"/>
<path d="M653.5,875.3 L674.2,864.4 L674.2,852.4" stroke-width="2.3" fill="none"/>
<ellipse cx="617" cy="828" rx="1.9" ry="1.5" transform="rotate(0 617 828)" stroke-width="1.0" fill="#000"/>
<ellipse cx="622" cy="826" rx="1.9" ry="1.5" transform="rotate(0 622 826)" stroke-width="1.0" fill="#000"/>
<ellipse cx="627" cy="829" rx="1.9" ry="1.5" transform="rotate(0 627 829)" stroke-width="1.0" fill="#000"/>
<ellipse cx="614" cy="832" rx="1.9" ry="1.5" transform="rotate(0 614 832)" stroke-width="1.0" fill="#000"/>
<ellipse cx="620" cy="833" rx="1.9" ry="1.5" transform="rotate(0 620 833)" stroke-width="1.0" fill="#000"/>
<ellipse cx="625" cy="835" rx="1.9" ry="1.5" transform="rotate(0 625 835)" stroke-width="1.0" fill="#000"/>
<ellipse cx="630" cy="833" rx="1.9" ry="1.5" transform="rotate(0 630 833)" stroke-width="1.0" fill="#000"/>
<ellipse cx="618" cy="837" rx="1.9" ry="1.5" transform="rotate(0 618 837)" stroke-width="1.0" fill="#000"/>
<ellipse cx="624" cy="839" rx="1.9" ry="1.5" transform="rotate(0 624 839)" stroke-width="1.0" fill="#000"/>
<ellipse cx="660" cy="868" rx="1.1" ry="1.4" transform="rotate(0 660 868)" stroke-width="1.0" fill="#000"/>
<ellipse cx="665" cy="865" rx="1.1" ry="1.4" transform="rotate(0 665 865)" stroke-width="1.0" fill="#000"/>
<ellipse cx="670" cy="862" rx="1.1" ry="1.4" transform="rotate(0 670 862)" stroke-width="1.0" fill="#000"/>
<line x1="620.4" y1="837" x2="620.4" y2="860" stroke-width="1.1"/>
<line x1="626.2" y1="840" x2="626.2" y2="874" stroke-width="1.1"/>
<path d="M540.6,382.5 L540.6,388.1 C540.6,394.82 554.6,394.82 554.6,388.1 L554.6,382.5" stroke-width="2.3" fill="none"/>
<ellipse cx="547.6" cy="382.5" rx="7.0" ry="4.2" transform="rotate(0 547.6 382.5)" stroke-width="2.3" fill="#000"/>
<ellipse cx="547.6" cy="382.5" rx="2.4499999999999997" ry="1.6800000000000002" transform="rotate(0 547.6 382.5)" stroke-width="0.8" fill="#fff"/>
<path d="M542.7,393.56 L542.7,419.75 C542.7,424.15999999999997 552.5,424.15999999999997 552.5,419.75 L552.5,393.56" stroke-width="2.3" fill="none"/>
<line x1="551.7" y1="402.5" x2="585.8" y2="426.3" stroke-width="1.1"/>
<line x1="585.8" y1="426.3" x2="585.8" y2="514.5" stroke-width="1.1"/>
<path d="M614.9000000000001,290.38 L614.9000000000001,295.12 C614.9000000000001,299.728 624.5,299.728 624.5,295.12 L624.5,290.38" stroke-width="2.07" fill="none"/>
<ellipse cx="619.7" cy="290.38" rx="4.8" ry="2.88" transform="rotate(0 619.7 290.38)" stroke-width="2.07" fill="#000"/>
<ellipse cx="619.7" cy="290.38" rx="1.68" ry="1.152" transform="rotate(0 619.7 290.38)" stroke-width="0.8" fill="#fff"/>
<path d="M616.5,298.864 L616.5,316.59999999999997 C616.5,319.47999999999996 622.9000000000001,319.47999999999996 622.9000000000001,316.59999999999997 L622.9000000000001,298.864" stroke-width="2.07" fill="none"/>
<line x1="619.7" y1="318.2" x2="619.7" y2="359" stroke-width="1.1"/>
<path d="M640.0,303.38 L640.0,307.12 C640.0,311.728 649.5999999999999,311.728 649.5999999999999,307.12 L649.5999999999999,303.38" stroke-width="2.07" fill="none"/>
<ellipse cx="644.8" cy="303.38" rx="4.8" ry="2.88" transform="rotate(0 644.8 303.38)" stroke-width="2.07" fill="#000"/>
<ellipse cx="644.8" cy="303.38" rx="1.68" ry="1.152" transform="rotate(0 644.8 303.38)" stroke-width="0.8" fill="#fff"/>
<path d="M641.9,310.864 L641.9,317.85 C641.9,320.46000000000004 647.6999999999999,320.46000000000004 647.6999999999999,317.85 L647.6999999999999,310.864" stroke-width="2.07" fill="none"/>
<line x1="644.8" y1="319.3" x2="644.8" y2="352" stroke-width="1.1"/>
<line x1="645.3" y1="405" x2="645.3" y2="470" stroke-width="1.1"/>
<line x1="510.7" y1="147" x2="510.7" y2="463" stroke-width="1.1"/>
<line x1="622.3" y1="480" x2="622.3" y2="525" stroke-width="1.1"/>
<line x1="626.2" y1="480" x2="626.2" y2="525" stroke-width="1.1"/>
<line x1="620.4" y1="631.9" x2="620.4" y2="721.4" stroke-width="1.1"/>
<line x1="626.2" y1="631.9" x2="626.2" y2="721.4" stroke-width="1.1"/>
<path d="M516.5,857.4 L516.5,861.6 C516.5,867.84 529.5,867.84 529.5,861.6 L529.5,857.4" stroke-width="2.3" fill="none"/>
<ellipse cx="523" cy="857.4" rx="6.5" ry="3.9" transform="rotate(0 523 857.4)" stroke-width="2.3" fill="#000"/>
<ellipse cx="523" cy="857.4" rx="2.275" ry="1.56" transform="rotate(0 523 857.4)" stroke-width="0.8" fill="#fff"/>
<path d="M518.3,866.67 L518.3,897.25 C518.3,901.48 527.7,901.48 527.7,897.25 L527.7,866.67" stroke-width="2.3" fill="none"/>
<line x1="528" y1="879" x2="553" y2="895.6" stroke-width="1.1"/>
<path d="M615.3,862.9 L615.3,866.1 C615.3,869.94 623.3,869.94 623.3,866.1 L623.3,862.9" stroke-width="2.07" fill="none"/>
<ellipse cx="619.3" cy="862.9" rx="4.0" ry="2.4" transform="rotate(0 619.3 862.9)" stroke-width="2.07" fill="#000"/>
<ellipse cx="619.3" cy="862.9" rx="1.4" ry="0.96" transform="rotate(0 619.3 862.9)" stroke-width="0.8" fill="#fff"/>
<path d="M616.3,869.22 L616.3,890.5 C616.3,893.2 622.3,893.2 622.3,890.5 L622.3,869.22" stroke-width="2.07" fill="none"/>
<path d="M331.2,553.4 L402,597.5 C406,600.5 411,601.5 415,600 L420.5,597.1" stroke-width="2.42" fill="none"/>
<path d="M335.4,549.8 L402,592.5 C406,595.5 411,596.8 415,595.5 L419.3,594" stroke-width="1.84" fill="none"/>
<path d="M331.2,562.8 L398,607.5 C402,611 406,613.5 412.2,614.8 C416,614.5 420,613 422.8,610.1" stroke-width="2.42" fill="none"/>
<path d="M331.2,553.4 L331.2,562.8" stroke-width="2.3" fill="none"/>
<path d="M331.2,553.4 C328,551 327,546 328.3,542 C329,539.5 331,538.6 333,538.6 L344.8,539.2 L345.4,552.8 L339,548 C337,545 336,544 334,545 C333,546.5 333.5,550 335.4,552" stroke-width="2.3" fill="none"/>
<path d="M330,541 L344,540 L344,551 Z" stroke-width="1.0" fill="#000"/>
<path d="M422.8,595.9 L439.4,612.5 L429.9,621.9 L424,614.8 L422.8,595.9" stroke-width="2.3" fill="none"/>
<ellipse cx="429.9" cy="614.8" rx="2.0" ry="2.6" transform="rotate(-30 429.9 614.8)" stroke-width="1.84" fill="none"/>
<ellipse cx="356.6" cy="577" rx="2.4" ry="2.9" transform="rotate(-30 356.6 577)" stroke-width="1.72" fill="none"/>
<ellipse cx="377.3" cy="591.2" rx="2.4" ry="2.9" transform="rotate(-30 377.3 591.2)" stroke-width="1.72" fill="none"/>
<path d="M401.4,546.7 L390.8,553.6 L393.4,557.4 L404.0,550.5" stroke-width="2.3" fill="none"/>
<ellipse cx="402.7" cy="548.6" rx="3.8" ry="4.6" transform="rotate(146.93815049450484 402.7 548.6)" stroke-width="2.76" fill="#fff"/>
<path d="M421.6,560.9 L411.0,567.6 L413.4,571.4 L424.0,564.7" stroke-width="2.3" fill="none"/>
<ellipse cx="422.8" cy="562.8" rx="3.8" ry="4.6" transform="rotate(147.70402361405672 422.8 562.8)" stroke-width="2.76" fill="#fff"/>
<ellipse cx="382.6" cy="561" rx="3.6" ry="5.2" transform="rotate(25 382.6 561)" stroke-width="1.2" fill="#000"/>
<ellipse cx="403.3" cy="575.2" rx="3.6" ry="5.2" transform="rotate(25 403.3 575.2)" stroke-width="1.2" fill="#000"/>
<line x1="390" y1="556" x2="386" y2="558.5" stroke-width="1.1"/>
<line x1="410" y1="570" x2="406.5" y2="572.5" stroke-width="1.1"/>
<line x1="366.7" y1="571.7" x2="380" y2="563" stroke-width="1.1"/>
<line x1="387.4" y1="585.9" x2="400.5" y2="577.5" stroke-width="1.1"/>
<line x1="356.6" y1="577" x2="307.7" y2="608.2" stroke-width="1.1"/>
<line x1="377.3" y1="591.2" x2="325.9" y2="621.9" stroke-width="1.1"/>
<line x1="424" y1="594.9" x2="461.1" y2="573.1" stroke-width="1.1"/>
<line x1="437.1" y1="609.1" x2="458.9" y2="597.6" stroke-width="1.1"/>
<path d="M380.7,624.5 L389.2,619.5 L386.8,615.5 L378.3,620.5" stroke-width="2.3" fill="none"/>
<ellipse cx="379.5" cy="622.5" rx="3.8" ry="4.6" transform="rotate(-30.46554491945988 379.5 622.5)" stroke-width="2.76" fill="#fff"/>
<path d="M382.4,646.2 L394.1,639.8 L391.9,635.8 L380.2,642.2" stroke-width="2.3" fill="none"/>
<ellipse cx="381.3" cy="644.2" rx="3.8" ry="4.6" transform="rotate(-28.679036269381005 381.3 644.2)" stroke-width="2.76" fill="#fff"/>
<ellipse cx="413.3" cy="625" rx="3.6" ry="5.0" transform="rotate(25 413.3 625)" stroke-width="1.2" fill="#000"/>
<line x1="393" y1="637.8" x2="409.5" y2="627.5" stroke-width="1.1"/>
<line x1="417" y1="622.5" x2="426" y2="617.5" stroke-width="1.1"/>
<path d="M86.2,703 L95.8,686.2 L123,669 C124,666 127,665 129,667 C131,666.5 133,667 134,669 L145.4,679.8 L134.2,702.2 L156,719.5 C157,720.5 158.5,720.8 160,720.6 L195.8,715.8 L212.6,728.6" stroke-width="2.64" fill="none"/>
<path d="M86.2,703 L86.2,807.8 L91,811.8 L171.8,867.8" stroke-width="2.64" fill="none"/>
<path d="M172.6,867.8 L172.6,765.4 C174,757 178,750 183.8,746.2 L212.6,729.4 L215.8,731" stroke-width="3.79" fill="none"/>
<path d="M215.8,731 L215.8,779.8 C213,792 207,800 203,808.6 C197,822 192.5,832 191.8,839 C190.5,850 190.2,862 190.2,872.6 L188.6,875 L177.4,871.8 L172.6,867.8" stroke-width="2.3" fill="none"/>
<path d="M116.9,809.8 L127.3,804.2 L125.1,800.2 L114.7,805.8" stroke-width="2.3" fill="none"/>
<ellipse cx="115.8" cy="807.8" rx="3.8" ry="4.6" transform="rotate(-28.300755766005977 115.8 807.8)" stroke-width="2.76" fill="#fff"/>
<ellipse cx="152.6" cy="785.4" rx="2.8" ry="4.0" transform="rotate(20 152.6 785.4)" stroke-width="1.2" fill="#000"/>
<line x1="128" y1="800.6" x2="149.5" y2="787.5" stroke-width="1.1"/>
<line x1="155" y1="783" x2="214.2" y2="749.4" stroke-width="1.1"/>
<path d="M105.6,910.5 L114.1,906.0 L111.9,902.0 L103.4,906.5" stroke-width="2.3" fill="none"/>
<ellipse cx="104.5" cy="908.5" rx="3.8" ry="4.6" transform="rotate(-27.89727103094763 104.5 908.5)" stroke-width="2.76" fill="#fff"/>
<ellipse cx="123.3" cy="898.2" rx="2.6" ry="3.6" transform="rotate(20 123.3 898.2)" stroke-width="1.2" fill="#000"/>
<line x1="113" y1="904" x2="120.5" y2="899.5" stroke-width="1.1"/>
<line x1="126" y1="896.8" x2="172" y2="867.8" stroke-width="1.1"/>
<path d="M194.7,775.3 C193,773 194,771 196,769.5 L209.5,756.5 L229.1,743.4 L235.6,744.2 L237,747 L230,754 L212,761.5 L199.6,776.9 C198,778 196,777.5 194.7,775.3 Z" stroke-width="2.3" fill="none"/>
<line x1="212.7" y1="728.6" x2="180" y2="754" stroke-width="3.45"/>
<line x1="206" y1="761" x2="230" y2="746.5" stroke-width="1.3"/>
<path d="M285.6,611.3 L298.8,603.1 L326.3,620 L326.3,733.8 L313.8,740.6 L285.6,724 Z" fill="#fff" fill-rule="evenodd" stroke="none"/>
<path d="M285.6,611.3 L298.8,603.1 L326.3,620 L313.8,626.9 L285.6,611.3" stroke-width="2.42" fill="none"/>
<path d="M285.6,611.3 L285.6,724" stroke-width="2.42" fill="none"/>
<path d="M313.8,626.9 L313.8,740.6 L326.3,733.8 L326.3,620" stroke-width="2.42" fill="none"/>
<ellipse cx="302.2" cy="611.9" rx="3.2" ry="2.2" transform="rotate(25 302.2 611.9)" stroke-width="2.07" fill="none"/>
<ellipse cx="305.40000000000003" cy="613.1" rx="3.2" ry="2.2" transform="rotate(25 305.40000000000003 613.1)" stroke-width="2.07" fill="none"/>
<ellipse cx="310.9" cy="618.8" rx="3.2" ry="2.2" transform="rotate(25 310.9 618.8)" stroke-width="2.07" fill="none"/>
<ellipse cx="314.1" cy="620.0" rx="3.2" ry="2.2" transform="rotate(25 314.1 620.0)" stroke-width="2.07" fill="none"/>
<ellipse cx="320" cy="640.0" rx="3.6" ry="6.2" transform="rotate(-10 320 640.0)" stroke-width="2.99" fill="none"/>
<ellipse cx="320" cy="658.8" rx="3.6" ry="6.2" transform="rotate(-10 320 658.8)" stroke-width="2.99" fill="none"/>
<ellipse cx="320" cy="677.6" rx="3.6" ry="6.2" transform="rotate(-10 320 677.6)" stroke-width="2.99" fill="none"/>
<ellipse cx="320" cy="696.4" rx="3.6" ry="6.2" transform="rotate(-10 320 696.4)" stroke-width="2.99" fill="none"/>
<ellipse cx="320" cy="715.2" rx="3.6" ry="6.2" transform="rotate(-10 320 715.2)" stroke-width="2.99" fill="none"/>
<ellipse cx="320" cy="734.0" rx="3.6" ry="6.2" transform="rotate(-10 320 734.0)" stroke-width="2.99" fill="none"/>
<ellipse cx="293" cy="622.0" rx="1.56" ry="1.68" transform="rotate(0 293 622.0)" stroke-width="0.8" fill="#000"/>
<ellipse cx="300" cy="621.0" rx="2.08" ry="2.2399999999999998" transform="rotate(0 300 621.0)" stroke-width="0.8" fill="#000"/>
<ellipse cx="303" cy="623.0" rx="2.08" ry="2.2399999999999998" transform="rotate(0 303 623.0)" stroke-width="0.8" fill="#000"/>
<ellipse cx="301" cy="626.0" rx="2.08" ry="2.2399999999999998" transform="rotate(0 301 626.0)" stroke-width="0.8" fill="#000"/>
<ellipse cx="304" cy="628.0" rx="2.08" ry="2.2399999999999998" transform="rotate(0 304 628.0)" stroke-width="0.8" fill="#000"/>
<ellipse cx="293" cy="631.0" rx="1.56" ry="1.68" transform="rotate(0 293 631.0)" stroke-width="0.8" fill="#000"/>
<ellipse cx="298" cy="633.0" rx="1.56" ry="1.68" transform="rotate(0 298 633.0)" stroke-width="0.8" fill="#000"/>
<ellipse cx="293" cy="640.5" rx="1.56" ry="1.68" transform="rotate(0 293 640.5)" stroke-width="0.8" fill="#000"/>
<ellipse cx="300" cy="639.5" rx="2.08" ry="2.2399999999999998" transform="rotate(0 300 639.5)" stroke-width="0.8" fill="#000"/>
<ellipse cx="303" cy="641.5" rx="2.08" ry="2.2399999999999998" transform="rotate(0 303 641.5)" stroke-width="0.8" fill="#000"/>
<ellipse cx="301" cy="644.5" rx="2.08" ry="2.2399999999999998" transform="rotate(0 301 644.5)" stroke-width="0.8" fill="#000"/>
<ellipse cx="304" cy="646.5" rx="2.08" ry="2.2399999999999998" transform="rotate(0 304 646.5)" stroke-width="0.8" fill="#000"/>
<ellipse cx="293" cy="649.5" rx="1.56" ry="1.68" transform="rotate(0 293 649.5)" stroke-width="0.8" fill="#000"/>
<ellipse cx="298" cy="651.5" rx="1.56" ry="1.68" transform="rotate(0 298 651.5)" stroke-width="0.8" fill="#000"/>
<ellipse cx="293" cy="659.0" rx="1.56" ry="1.68" transform="rotate(0 293 659.0)" stroke-width="0.8" fill="#000"/>
<ellipse cx="300" cy="658.0" rx="2.08" ry="2.2399999999999998" transform="rotate(0 300 658.0)" stroke-width="0.8" fill="#000"/>
<ellipse cx="303" cy="660.0" rx="2.08" ry="2.2399999999999998" transform="rotate(0 303 660.0)" stroke-width="0.8" fill="#000"/>
<ellipse cx="301" cy="663.0" rx="2.08" ry="2.2399999999999998" transform="rotate(0 301 663.0)" stroke-width="0.8" fill="#000"/>
<ellipse cx="304" cy="665.0" rx="2.08" ry="2.2399999999999998" transform="rotate(0 304 665.0)" stroke-width="0.8" fill="#000"/>
<ellipse cx="293" cy="668.0" rx="1.56" ry="1.68" transform="rotate(0 293 668.0)" stroke-width="0.8" fill="#000"/>
<ellipse cx="298" cy="670.0" rx="1.56" ry="1.68" transform="rotate(0 298 670.0)" stroke-width="0.8" fill="#000"/>
<ellipse cx="293" cy="677.5" rx="1.56" ry="1.68" transform="rotate(0 293 677.5)" stroke-width="0.8" fill="#000"/>
<ellipse cx="300" cy="676.5" rx="2.08" ry="2.2399999999999998" transform="rotate(0 300 676.5)" stroke-width="0.8" fill="#000"/>
<ellipse cx="303" cy="678.5" rx="2.08" ry="2.2399999999999998" transform="rotate(0 303 678.5)" stroke-width="0.8" fill="#000"/>
<ellipse cx="301" cy="681.5" rx="2.08" ry="2.2399999999999998" transform="rotate(0 301 681.5)" stroke-width="0.8" fill="#000"/>
<ellipse cx="304" cy="683.5" rx="2.08" ry="2.2399999999999998" transform="rotate(0 304 683.5)" stroke-width="0.8" fill="#000"/>
<ellipse cx="293" cy="686.5" rx="1.56" ry="1.68" transform="rotate(0 293 686.5)" stroke-width="0.8" fill="#000"/>
<ellipse cx="298" cy="688.5" rx="1.56" ry="1.68" transform="rotate(0 298 688.5)" stroke-width="0.8" fill="#000"/>
<ellipse cx="293" cy="696.0" rx="1.56" ry="1.68" transform="rotate(0 293 696.0)" stroke-width="0.8" fill="#000"/>
<ellipse cx="300" cy="695.0" rx="2.08" ry="2.2399999999999998" transform="rotate(0 300 695.0)" stroke-width="0.8" fill="#000"/>
<ellipse cx="303" cy="697.0" rx="2.08" ry="2.2399999999999998" transform="rotate(0 303 697.0)" stroke-width="0.8" fill="#000"/>
<ellipse cx="301" cy="700.0" rx="2.08" ry="2.2399999999999998" transform="rotate(0 301 700.0)" stroke-width="0.8" fill="#000"/>
<ellipse cx="304" cy="702.0" rx="2.08" ry="2.2399999999999998" transform="rotate(0 304 702.0)" stroke-width="0.8" fill="#000"/>
<ellipse cx="293" cy="705.0" rx="1.56" ry="1.68" transform="rotate(0 293 705.0)" stroke-width="0.8" fill="#000"/>
<ellipse cx="298" cy="707.0" rx="1.56" ry="1.68" transform="rotate(0 298 707.0)" stroke-width="0.8" fill="#000"/>
<ellipse cx="293" cy="714.5" rx="1.56" ry="1.68" transform="rotate(0 293 714.5)" stroke-width="0.8" fill="#000"/>
<ellipse cx="300" cy="713.5" rx="2.08" ry="2.2399999999999998" transform="rotate(0 300 713.5)" stroke-width="0.8" fill="#000"/>
<ellipse cx="303" cy="715.5" rx="2.08" ry="2.2399999999999998" transform="rotate(0 303 715.5)" stroke-width="0.8" fill="#000"/>
<ellipse cx="301" cy="718.5" rx="2.08" ry="2.2399999999999998" transform="rotate(0 301 718.5)" stroke-width="0.8" fill="#000"/>
<ellipse cx="304" cy="720.5" rx="2.08" ry="2.2399999999999998" transform="rotate(0 304 720.5)" stroke-width="0.8" fill="#000"/>
<ellipse cx="293" cy="723.5" rx="1.56" ry="1.68" transform="rotate(0 293 723.5)" stroke-width="0.8" fill="#000"/>
<ellipse cx="298" cy="725.5" rx="1.56" ry="1.68" transform="rotate(0 298 725.5)" stroke-width="0.8" fill="#000"/>
<line x1="310" y1="745" x2="310" y2="775.3" stroke-width="1.1"/>
<line x1="318.3" y1="740" x2="318.3" y2="775.3" stroke-width="1.1"/>
<line x1="326.3" y1="704.6" x2="520" y2="587.3" stroke-width="1.1"/>
<line x1="269" y1="660" x2="290" y2="648" stroke-width="1.1"/>
<path d="M213,624 L251.3,638.8 L272.5,656.3 L292,676 L293,765 L255,766 L233.8,762 L212,735 Z" fill="#fff" fill-rule="evenodd" stroke="none"/>
<path d="M220,628 C224,625 229,626 231,628 L250.5,639" stroke-width="2.3" fill="none"/>
<ellipse cx="217.5" cy="636" rx="5.2" ry="6.8" transform="rotate(0 217.5 636)" stroke-width="1.2" fill="#000"/>
<ellipse cx="219.5" cy="636" rx="3.0" ry="5.0" transform="rotate(0 219.5 636)" stroke-width="1.4" fill="#fff"/>
<path d="M233.2,649 L255.5,664 L256.5,764 L233.2,752 Z" stroke-width="1.0" fill="#000"/>
<path d="M255.5,664 L261.5,660.5 L262,760.5 L256.5,764 Z" stroke-width="1.0" fill="#000"/>
<line x1="271.7" y1="654.4" x2="271.7" y2="668" stroke-width="2.3"/>
<path d="M236.3,648.2 L250.9,638.8 L271.7,654.4 L256.1,663.8 L236.3,648.2" stroke-width="2.3" fill="none"/>
<path d="M237.5,648.5 L250.9,640 L269.5,654.5 L256,662.5 Z" fill="#fff" stroke="none"/>
<ellipse cx="261" cy="650" rx="1.3" ry="1.0" transform="rotate(0 261 650)" stroke-width="1" fill="#000"/>
<line x1="241" y1="660.0" x2="248" y2="664.0" stroke="#fff" stroke-width="1.6"/>
<line x1="259" y1="664.0" x2="263" y2="666.5" stroke="#fff" stroke-width="1.6"/>
<line x1="241" y1="672.5" x2="248" y2="676.5" stroke="#fff" stroke-width="1.6"/>
<line x1="259" y1="676.5" x2="263" y2="679.0" stroke="#fff" stroke-width="1.6"/>
<line x1="241" y1="685.0" x2="248" y2="689.0" stroke="#fff" stroke-width="1.6"/>
<line x1="259" y1="689.0" x2="263" y2="691.5" stroke="#fff" stroke-width="1.6"/>
<line x1="241" y1="697.5" x2="248" y2="701.5" stroke="#fff" stroke-width="1.6"/>
<line x1="259" y1="701.5" x2="263" y2="704.0" stroke="#fff" stroke-width="1.6"/>
<line x1="241" y1="710.0" x2="248" y2="714.0" stroke="#fff" stroke-width="1.6"/>
<line x1="259" y1="714.0" x2="263" y2="716.5" stroke="#fff" stroke-width="1.6"/>
<line x1="241" y1="722.5" x2="248" y2="726.5" stroke="#fff" stroke-width="1.6"/>
<line x1="259" y1="726.5" x2="263" y2="729.0" stroke="#fff" stroke-width="1.6"/>
<line x1="241" y1="735.0" x2="248" y2="739.0" stroke="#fff" stroke-width="1.6"/>
<line x1="259" y1="739.0" x2="263" y2="741.5" stroke="#fff" stroke-width="1.6"/>
<line x1="241" y1="747.5" x2="248" y2="751.5" stroke="#fff" stroke-width="1.6"/>
<line x1="259" y1="751.5" x2="263" y2="754.0" stroke="#fff" stroke-width="1.6"/>
<circle cx="235" cy="653.0" r="0.55" fill="#fff" stroke="none"/>
<circle cx="254.8" cy="668" r="0.55" fill="#fff" stroke="none"/>
<circle cx="235" cy="657.4" r="0.55" fill="#fff" stroke="none"/>
<circle cx="254.8" cy="672" r="0.55" fill="#fff" stroke="none"/>
<circle cx="235" cy="661.8" r="0.55" fill="#fff" stroke="none"/>
<circle cx="254.8" cy="676" r="0.55" fill="#fff" stroke="none"/>
<circle cx="235" cy="666.2" r="0.55" fill="#fff" stroke="none"/>
<circle cx="254.8" cy="680" r="0.55" fill="#fff" stroke="none"/>
<circle cx="235" cy="670.6" r="0.55" fill="#fff" stroke="none"/>
<circle cx="254.8" cy="684" r="0.55" fill="#fff" stroke="none"/>
<circle cx="235" cy="675.0" r="0.55" fill="#fff" stroke="none"/>
<circle cx="254.8" cy="688" r="0.55" fill="#fff" stroke="none"/>
<circle cx="235" cy="679.4" r="0.55" fill="#fff" stroke="none"/>
<circle cx="254.8" cy="692" r="0.55" fill="#fff" stroke="none"/>
<circle cx="235" cy="683.8" r="0.55" fill="#fff" stroke="none"/>
<circle cx="254.8" cy="696" r="0.55" fill="#fff" stroke="none"/>
<circle cx="235" cy="688.2" r="0.55" fill="#fff" stroke="none"/>
<circle cx="254.8" cy="700" r="0.55" fill="#fff" stroke="none"/>
<circle cx="235" cy="692.6" r="0.55" fill="#fff" stroke="none"/>
<circle cx="254.8" cy="704" r="0.55" fill="#fff" stroke="none"/>
<circle cx="235" cy="697.0" r="0.55" fill="#fff" stroke="none"/>
<circle cx="254.8" cy="708" r="0.55" fill="#fff" stroke="none"/>
<circle cx="235" cy="701.4" r="0.55" fill="#fff" stroke="none"/>
<circle cx="254.8" cy="712" r="0.55" fill="#fff" stroke="none"/>
<circle cx="235" cy="705.8" r="0.55" fill="#fff" stroke="none"/>
<circle cx="254.8" cy="716" r="0.55" fill="#fff" stroke="none"/>
<circle cx="235" cy="710.2" r="0.55" fill="#fff" stroke="none"/>
<circle cx="254.8" cy="720" r="0.55" fill="#fff" stroke="none"/>
<circle cx="235" cy="714.6" r="0.55" fill="#fff" stroke="none"/>
<circle cx="254.8" cy="724" r="0.55" fill="#fff" stroke="none"/>
<circle cx="235" cy="719.0" r="0.55" fill="#fff" stroke="none"/>
<circle cx="254.8" cy="728" r="0.55" fill="#fff" stroke="none"/>
<circle cx="235" cy="723.4" r="0.55" fill="#fff" stroke="none"/>
<circle cx="254.8" cy="732" r="0.55" fill="#fff" stroke="none"/>
<circle cx="235" cy="727.8" r="0.55" fill="#fff" stroke="none"/>
<circle cx="254.8" cy="736" r="0.55" fill="#fff" stroke="none"/>
<circle cx="235" cy="732.2" r="0.55" fill="#fff" stroke="none"/>
<circle cx="254.8" cy="740" r="0.55" fill="#fff" stroke="none"/>
<circle cx="235" cy="736.6" r="0.55" fill="#fff" stroke="none"/>
<circle cx="254.8" cy="744" r="0.55" fill="#fff" stroke="none"/>
<circle cx="235" cy="741.0" r="0.55" fill="#fff" stroke="none"/>
<circle cx="254.8" cy="748" r="0.55" fill="#fff" stroke="none"/>
<circle cx="235" cy="745.4" r="0.55" fill="#fff" stroke="none"/>
<circle cx="254.8" cy="752" r="0.55" fill="#fff" stroke="none"/>
<circle cx="235" cy="749.8" r="0.55" fill="#fff" stroke="none"/>
<circle cx="254.8" cy="756" r="0.55" fill="#fff" stroke="none"/>
<circle cx="235" cy="754.2" r="0.55" fill="#fff" stroke="none"/>
<circle cx="254.8" cy="760" r="0.55" fill="#fff" stroke="none"/>
<ellipse cx="218.5" cy="656.0" rx="5.6" ry="7.4" transform="rotate(0 218.5 656.0)" stroke-width="1.2" fill="#000"/>
<path d="M219,661.0 C217,657.0 220,653.0 223,653.0" stroke-width="1.84" fill="none"/>
<path d="M222.5,649.5 L232,654.0 L232,663.0 L223,662.0" stroke-width="2.3" fill="none"/>
<path d="M224.5,652.5 L230.5,655.5 L230.5,661.0 L225,660.0 Z" fill="#fff" stroke="none"/>
<line x1="226.5" y1="654.5" x2="226.5" y2="659.5" stroke-width="1.4"/>
<line x1="229" y1="655.5" x2="229" y2="660.5" stroke-width="1.4"/>
<ellipse cx="218.5" cy="674.6" rx="5.6" ry="7.4" transform="rotate(0 218.5 674.6)" stroke-width="1.2" fill="#000"/>
<path d="M219,679.6 C217,675.6 220,671.6 223,671.6" stroke-width="1.84" fill="none"/>
<path d="M222.5,668.1 L232,672.6 L232,681.6 L223,680.6" stroke-width="2.3" fill="none"/>
<path d="M224.5,671.1 L230.5,674.1 L230.5,679.6 L225,678.6 Z" fill="#fff" stroke="none"/>
<line x1="226.5" y1="673.1" x2="226.5" y2="678.1" stroke-width="1.4"/>
<line x1="229" y1="674.1" x2="229" y2="679.1" stroke-width="1.4"/>
<ellipse cx="218.5" cy="693.2" rx="5.6" ry="7.4" transform="rotate(0 218.5 693.2)" stroke-width="1.2" fill="#000"/>
<path d="M219,698.2 C217,694.2 220,690.2 223,690.2" stroke-width="1.84" fill="none"/>
<path d="M222.5,686.7 L232,691.2 L232,700.2 L223,699.2" stroke-width="2.3" fill="none"/>
<path d="M224.5,689.7 L230.5,692.7 L230.5,698.2 L225,697.2 Z" fill="#fff" stroke="none"/>
<line x1="226.5" y1="691.7" x2="226.5" y2="696.7" stroke-width="1.4"/>
<line x1="229" y1="692.7" x2="229" y2="697.7" stroke-width="1.4"/>
<ellipse cx="218.5" cy="711.8" rx="5.6" ry="7.4" transform="rotate(0 218.5 711.8)" stroke-width="1.2" fill="#000"/>
<path d="M219,716.8 C217,712.8 220,708.8 223,708.8" stroke-width="1.84" fill="none"/>
<path d="M222.5,705.3 L232,709.8 L232,718.8 L223,717.8" stroke-width="2.3" fill="none"/>
<path d="M224.5,708.3 L230.5,711.3 L230.5,716.8 L225,715.8 Z" fill="#fff" stroke="none"/>
<line x1="226.5" y1="710.3" x2="226.5" y2="715.3" stroke-width="1.4"/>
<line x1="229" y1="711.3" x2="229" y2="716.3" stroke-width="1.4"/>
<ellipse cx="218.5" cy="730.4" rx="5.6" ry="7.4" transform="rotate(0 218.5 730.4)" stroke-width="1.2" fill="#000"/>
<path d="M219,735.4 C217,731.4 220,727.4 223,727.4" stroke-width="1.84" fill="none"/>
<path d="M222.5,723.9 L232,728.4 L232,737.4 L223,736.4" stroke-width="2.3" fill="none"/>
<path d="M224.5,726.9 L230.5,729.9 L230.5,735.4 L225,734.4 Z" fill="#fff" stroke="none"/>
<line x1="226.5" y1="728.9" x2="226.5" y2="733.9" stroke-width="1.4"/>
<line x1="229" y1="729.9" x2="229" y2="734.9" stroke-width="1.4"/>
<path d="M261.5,667.0 L279,674.5 M268,684.5 L279,690.0" stroke-width="2.3" fill="none"/>
<path d="M262,670.5 L267,673.5 L268,679.5 L268,684.5 L262,682.5 Z" stroke-width="1.0" fill="#000"/>
<ellipse cx="286.5" cy="682.5" rx="7.3" ry="9.4" transform="rotate(-15 286.5 682.5)" stroke-width="1.2" fill="#000"/>
<ellipse cx="287" cy="682.5" rx="3" ry="4.2" transform="rotate(-15 287 682.5)" stroke-width="0.7" fill="#333"/>
<line x1="263" y1="673.0" x2="265.5" y2="676.0" stroke="#fff" stroke-width="1.3"/>
<path d="M261.5,685.6 L279,693.1 M268,703.1 L279,708.6" stroke-width="2.3" fill="none"/>
<path d="M262,689.1 L267,692.1 L268,698.1 L268,703.1 L262,701.1 Z" stroke-width="1.0" fill="#000"/>
<ellipse cx="286.5" cy="701.1" rx="7.3" ry="9.4" transform="rotate(-15 286.5 701.1)" stroke-width="1.2" fill="#000"/>
<ellipse cx="287" cy="701.1" rx="3" ry="4.2" transform="rotate(-15 287 701.1)" stroke-width="0.7" fill="#333"/>
<line x1="263" y1="691.6" x2="265.5" y2="694.6" stroke="#fff" stroke-width="1.3"/>
<path d="M261.5,704.2 L279,711.7 M268,721.7 L279,727.2" stroke-width="2.3" fill="none"/>
<path d="M262,707.7 L267,710.7 L268,716.7 L268,721.7 L262,719.7 Z" stroke-width="1.0" fill="#000"/>
<ellipse cx="286.5" cy="719.7" rx="7.3" ry="9.4" transform="rotate(-15 286.5 719.7)" stroke-width="1.2" fill="#000"/>
<ellipse cx="287" cy="719.7" rx="3" ry="4.2" transform="rotate(-15 287 719.7)" stroke-width="0.7" fill="#333"/>
<line x1="263" y1="710.2" x2="265.5" y2="713.2" stroke="#fff" stroke-width="1.3"/>
<path d="M261.5,722.8 L279,730.3 M268,740.3 L279,745.8" stroke-width="2.3" fill="none"/>
<path d="M262,726.3 L267,729.3 L268,735.3 L268,740.3 L262,738.3 Z" stroke-width="1.0" fill="#000"/>
<ellipse cx="286.5" cy="738.3" rx="7.3" ry="9.4" transform="rotate(-15 286.5 738.3)" stroke-width="1.2" fill="#000"/>
<ellipse cx="287" cy="738.3" rx="3" ry="4.2" transform="rotate(-15 287 738.3)" stroke-width="0.7" fill="#333"/>
<line x1="263" y1="728.8" x2="265.5" y2="731.8" stroke="#fff" stroke-width="1.3"/>
<path d="M261.5,741.4 L279,748.9 M268,758.9 L279,764.4" stroke-width="2.3" fill="none"/>
<path d="M262,744.9 L267,747.9 L268,753.9 L268,758.9 L262,756.9 Z" stroke-width="1.0" fill="#000"/>
<ellipse cx="286.5" cy="756.9" rx="7.3" ry="9.4" transform="rotate(-15 286.5 756.9)" stroke-width="1.2" fill="#000"/>
<ellipse cx="287" cy="756.9" rx="3" ry="4.2" transform="rotate(-15 287 756.9)" stroke-width="0.7" fill="#333"/>
<line x1="263" y1="747.4" x2="265.5" y2="750.4" stroke="#fff" stroke-width="1.3"/>
<path d="M269.2,780.2 L274.9,776.9 L297.8,781.8 L336.3,808 L333.8,812.9 L316,821 C314.5,821.5 313.5,821 312.5,820.3 L269.2,788.4 Z" stroke-width="2.3" fill="none"/>
<line x1="269.2" y1="784.5" x2="313.5" y2="816.5" stroke-width="1.3"/>
<line x1="276.5" y1="788.4" x2="284.7" y2="765.5" stroke-width="2.07"/>
<line x1="279.5" y1="789.5" x2="287.5" y2="767" stroke-width="1.4"/>
<line x1="279.8" y1="790" x2="294.5" y2="781.8" stroke-width="1.84"/>
<line x1="297" y1="756.5" x2="297" y2="781.8" stroke-width="2.07"/>
<path d="M307.6,809.6 L312.5,780.2 C312,776 315,772.5 318.5,772.5 C322,772.5 325.5,775 325.6,778.5 L324,806.4" stroke-width="2.3" fill="none"/>
<line x1="310.5" y1="809" x2="315" y2="781" stroke-width="1.3"/>
<ellipse cx="319" cy="777.8" rx="1.8" ry="1.8" transform="rotate(0 319 777.8)" stroke-width="1.2" fill="#000"/>
<ellipse cx="323.2" cy="811.3" rx="2.0" ry="1.6" transform="rotate(0 323.2 811.3)" stroke-width="1.72" fill="none"/>
<line x1="324" y1="788.4" x2="324" y2="806" stroke-width="1.1"/>
<path d="M322.4,778.5 L342,794 L342,744 L357,752" stroke-width="1.1" fill="none"/>
<line x1="324" y1="790.8" x2="360" y2="814.5" stroke-width="1.1"/>
<ellipse cx="360.2" cy="755.8" rx="4.8" ry="5.6" transform="rotate(30 360.2 755.8)" stroke-width="1.2" fill="#000"/>
<path d="M382.8,768.5 L372.7,762.1 L370.3,765.9 L380.4,772.3" stroke-width="2.3" fill="none"/>
<ellipse cx="381.6" cy="770.4" rx="3.8" ry="4.6" transform="rotate(-147.63906244063025 381.6 770.4)" stroke-width="2.76" fill="#fff"/>
<path d="M357,752 L358,753" stroke-width="1.1" fill="none"/>
<line x1="364" y1="759" x2="371" y2="764" stroke-width="1.1"/>
<path d="M362.8,782 L362.8,787.5 C362.8,790 370.6,790 370.6,787.5 L370.6,782" stroke-width="2.3" fill="none"/>
<ellipse cx="366.7" cy="782" rx="3.9" ry="2.3" transform="rotate(0 366.7 782)" stroke-width="2.53" fill="#fff"/>
<path d="M364.6,789 L364.6,794 C364.6,796 368.8,796 368.8,794 L368.8,789" stroke-width="2.07" fill="none"/>
<ellipse cx="367.1" cy="805.6" rx="5.8" ry="4.3" transform="rotate(0 367.1 805.6)" stroke-width="1.2" fill="#000"/>
<line x1="366.7" y1="796" x2="367" y2="801.5" stroke-width="1.1"/>
<line x1="324" y1="790.8" x2="366.4" y2="819.5" stroke-width="1.1"/>
<line x1="366.6" y1="809" x2="366.4" y2="819.5" stroke-width="1.1"/>
<g stroke-width="1.75" fill="none"><path transform="translate(135.60,146.10) scale(1.0)" d="M1.0,4.0 C1.5,2.0 3.0,0.9 4.9,0.9 C7.3,0.9 8.8,2.5 8.8,4.8 C8.8,6.1 8.3,7.2 7.5,8.4 L0.9,17.7 L8.9,17.7"/><path transform="translate(147.60,146.10) scale(1.0)" d="M4.9,0.9 C7.7,0.9 8.9,4.2 8.9,9.3 C8.9,14.5 7.7,17.7 4.9,17.7 C2.1,17.7 0.9,14.5 0.9,9.3 C0.9,4.2 2.1,0.9 4.9,0.9 Z"/></g>
<g stroke-width="1.75" fill="none"><path transform="translate(161.10,174.10) scale(1.0)" d="M0.9,4.9 L4.5,0.9 L4.5,17.7"/><path transform="translate(169.80,174.10) scale(1.0)" d="M1.6,17.2 C2.4,17.6 3.4,17.7 4.5,17.7 C7.4,17.7 8.9,14.8 8.9,9.1 L8.9,5.5 C8.9,2.5 7.3,0.9 4.9,0.9 C2.5,0.9 0.9,2.5 0.9,5.5 L0.9,6.4 C0.9,9.1 2.4,10.7 4.8,10.7 C6.8,10.7 8.2,9.7 8.9,8.1"/></g>
<g stroke-width="1.75" fill="none"><path transform="translate(43.00,226.90) scale(1.0)" d="M5.0,0.9 L0.9,13.8 L10.0,13.8 M7.3,9.3 L7.3,17.7"/></g>
<g stroke-width="1.75" fill="none"><path transform="translate(241.00,234.90) scale(1.0)" d="M0.9,4.9 L4.5,0.9 L4.5,17.7"/><path transform="translate(249.70,234.90) scale(1.0)" d="M4.9,0.9 C7.7,0.9 8.9,4.2 8.9,9.3 C8.9,14.5 7.7,17.7 4.9,17.7 C2.1,17.7 0.9,14.5 0.9,9.3 C0.9,4.2 2.1,0.9 4.9,0.9 Z"/></g>
<g stroke-width="1.75" fill="none"><path transform="translate(298.80,228.90) scale(1.0)" d="M1.0,4.0 C1.5,2.0 3.0,0.9 4.9,0.9 C7.3,0.9 8.8,2.5 8.8,4.8 C8.8,6.1 8.3,7.2 7.5,8.4 L0.9,17.7 L8.9,17.7"/><path transform="translate(310.80,228.90) scale(1.0)" d="M0.9,0.9 L8.6,0.9 L4.4,17.7 M3.6,9.4 L8.6,9.4"/></g>
<g stroke-width="1.75" fill="none"><path transform="translate(537.50,231.90) scale(1.0)" d="M1.0,4.0 C1.5,2.0 3.0,0.9 4.9,0.9 C7.3,0.9 8.8,2.5 8.8,4.8 C8.8,6.1 8.3,7.2 7.5,8.4 L0.9,17.7 L8.9,17.7"/><path transform="translate(549.50,231.90) scale(1.0)" d="M1.6,17.2 C2.4,17.6 3.4,17.7 4.5,17.7 C7.4,17.7 8.9,14.8 8.9,9.1 L8.9,5.5 C8.9,2.5 7.3,0.9 4.9,0.9 C2.5,0.9 0.9,2.5 0.9,5.5 L0.9,6.4 C0.9,9.1 2.4,10.7 4.8,10.7 C6.8,10.7 8.2,9.7 8.9,8.1"/></g>
<g stroke-width="1.75" fill="none"><path transform="translate(716.40,252.20) scale(1.0)" d="M1.0,4.0 C1.5,2.0 3.0,0.9 4.9,0.9 C7.3,0.9 8.8,2.5 8.8,4.8 C8.8,6.1 8.3,7.2 7.5,8.4 L0.9,17.7 L8.9,17.7"/><path transform="translate(728.40,252.20) scale(1.0)" d="M1.0,4.0 C1.5,2.0 3.0,0.9 4.9,0.9 C7.3,0.9 8.8,2.5 8.8,4.8 C8.8,6.1 8.3,7.2 7.5,8.4 L0.9,17.7 L8.9,17.7"/></g>
<g stroke-width="1.75" fill="none"><path transform="translate(813.60,205.90) scale(1.0)" d="M1.0,4.0 C1.5,2.0 3.0,0.9 4.9,0.9 C7.3,0.9 8.8,2.5 8.8,4.8 C8.8,6.1 8.3,7.2 7.5,8.4 L0.9,17.7 L8.9,17.7"/></g>
<g stroke-width="1.75" fill="none"><path transform="translate(586.00,299.60) scale(1.0)" d="M0.9,0.9 L8.6,0.9 L4.4,17.7 M3.6,9.4 L8.6,9.4"/></g>
<g stroke-width="1.75" fill="none"><path transform="translate(446.00,327.40) scale(1.0)" d="M1.0,4.0 C1.5,2.0 3.0,0.9 4.9,0.9 C7.3,0.9 8.8,2.5 8.8,4.8 C8.8,6.1 8.3,7.2 7.5,8.4 L0.9,17.7 L8.9,17.7"/><path transform="translate(458.00,327.40) scale(1.0)" d="M4.9,8.2 C2.9,8.2 1.6,6.7 1.6,4.5 C1.6,2.3 2.9,0.9 4.9,0.9 C6.9,0.9 8.2,2.3 8.2,4.5 C8.2,6.7 6.9,8.2 4.9,8.2 C2.5,8.2 0.9,10.2 0.9,13.0 C0.9,15.9 2.5,17.7 4.9,17.7 C7.3,17.7 8.9,15.9 8.9,13.0 C8.9,10.2 7.3,8.2 4.9,8.2 Z"/></g>
<g stroke-width="1.75" fill="none"><path transform="translate(829.30,362.30) scale(1.0)" d="M0.9,4.9 L4.5,0.9 L4.5,17.7"/></g>
<g stroke-width="1.75" fill="none"><path transform="translate(353.60,339.90) scale(1.0)" d="M8.4,0.9 L1.6,0.9 L1.3,8.4 C2.3,7.5 3.4,7.1 4.8,7.1 C7.4,7.1 8.9,9.1 8.9,12.3 C8.9,15.6 7.2,17.7 4.5,17.7 L1.0,17.7"/><path transform="translate(366.10,339.90) scale(1.0)" d="M4.9,0.9 C7.7,0.9 8.9,4.2 8.9,9.3 C8.9,14.5 7.7,17.7 4.9,17.7 C2.1,17.7 0.9,14.5 0.9,9.3 C0.9,4.2 2.1,0.9 4.9,0.9 Z"/></g>
<g stroke-width="1.75" fill="none"><path transform="translate(434.00,385.80) scale(1.0)" d="M0.9,4.9 L4.5,0.9 L4.5,17.7"/><path transform="translate(442.70,385.80) scale(1.0)" d="M8.4,0.9 L1.6,0.9 L1.3,8.4 C2.3,7.5 3.4,7.1 4.8,7.1 C7.4,7.1 8.9,9.1 8.9,12.3 C8.9,15.6 7.2,17.7 4.5,17.7 L1.0,17.7"/></g>
<g stroke-width="1.75" fill="none"><path transform="translate(225.00,426.40) scale(1.0)" d="M0.9,4.9 L4.5,0.9 L4.5,17.7"/><path transform="translate(233.70,426.40) scale(1.0)" d="M8.2,1.5 C7.4,1.0 6.4,0.9 5.3,0.9 C2.4,0.9 0.9,3.8 0.9,9.5 L0.9,13.1 C0.9,16.1 2.5,17.7 4.9,17.7 C7.3,17.7 8.9,16.1 8.9,13.1 L8.9,12.2 C8.9,9.5 7.4,7.9 5.0,7.9 C3.0,7.9 1.6,8.9 0.9,10.5"/></g>
<g stroke-width="1.75" fill="none"><path transform="translate(176.30,447.70) scale(1.0)" d="M0.9,4.9 L4.5,0.9 L4.5,17.7"/><path transform="translate(185.00,447.70) scale(1.0)" d="M0.9,0.9 L8.6,0.9 L4.4,17.7 M3.6,9.4 L8.6,9.4"/></g>
<g stroke-width="1.75" fill="none"><path transform="translate(808.00,457.50) scale(1.0)" d="M1.0,4.0 C1.5,2.0 3.0,0.9 4.9,0.9 C7.3,0.9 8.8,2.5 8.8,4.8 C8.8,6.1 8.3,7.2 7.5,8.4 L0.9,17.7 L8.9,17.7"/><path transform="translate(820.00,457.50) scale(1.0)" d="M8.4,0.9 L1.6,0.9 L1.3,8.4 C2.3,7.5 3.4,7.1 4.8,7.1 C7.4,7.1 8.9,9.1 8.9,12.3 C8.9,15.6 7.2,17.7 4.5,17.7 L1.0,17.7"/></g>
<g stroke-width="1.75" fill="none"><path transform="translate(350.40,492.40) scale(1.0)" d="M8.4,0.9 L1.6,0.9 L1.3,8.4 C2.3,7.5 3.4,7.1 4.8,7.1 C7.4,7.1 8.9,9.1 8.9,12.3 C8.9,15.6 7.2,17.7 4.5,17.7 L1.0,17.7"/></g>
<g stroke-width="1.75" fill="none"><path transform="translate(284.00,548.00) scale(1.0)" d="M0.9,4.9 L4.5,0.9 L4.5,17.7"/><path transform="translate(292.70,548.00) scale(1.0)" d="M4.9,8.2 C2.9,8.2 1.6,6.7 1.6,4.5 C1.6,2.3 2.9,0.9 4.9,0.9 C6.9,0.9 8.2,2.3 8.2,4.5 C8.2,6.7 6.9,8.2 4.9,8.2 C2.5,8.2 0.9,10.2 0.9,13.0 C0.9,15.9 2.5,17.7 4.9,17.7 C7.3,17.7 8.9,15.9 8.9,13.0 C8.9,10.2 7.3,8.2 4.9,8.2 Z"/></g>
<g stroke-width="1.75" fill="none"><path transform="translate(204.40,572.10) scale(1.0)" d="M8.2,1.5 C7.4,1.0 6.4,0.9 5.3,0.9 C2.4,0.9 0.9,3.8 0.9,9.5 L0.9,13.1 C0.9,16.1 2.5,17.7 4.9,17.7 C7.3,17.7 8.9,16.1 8.9,13.1 L8.9,12.2 C8.9,9.5 7.4,7.9 5.0,7.9 C3.0,7.9 1.6,8.9 0.9,10.5"/></g>
<g stroke-width="1.75" fill="none"><path transform="translate(138.70,613.50) scale(1.0)" d="M1.6,17.2 C2.4,17.6 3.4,17.7 4.5,17.7 C7.4,17.7 8.9,14.8 8.9,9.1 L8.9,5.5 C8.9,2.5 7.3,0.9 4.9,0.9 C2.5,0.9 0.9,2.5 0.9,5.5 L0.9,6.4 C0.9,9.1 2.4,10.7 4.8,10.7 C6.8,10.7 8.2,9.7 8.9,8.1"/></g>
<g stroke-width="1.75" fill="none"><path transform="translate(763.60,594.50) scale(1.0)" d="M5.0,0.9 L0.9,13.8 L10.0,13.8 M7.3,9.3 L7.3,17.7"/><path transform="translate(776.90,594.50) scale(1.0)" d="M0.9,0.9 L8.6,0.9 L4.4,17.7 M3.6,9.4 L8.6,9.4"/></g>
<g stroke-width="1.75" fill="none"><path transform="translate(776.00,621.70) scale(1.0)" d="M5.0,0.9 L0.9,13.8 L10.0,13.8 M7.3,9.3 L7.3,17.7"/><path transform="translate(789.30,621.70) scale(1.0)" d="M4.9,8.2 C2.9,8.2 1.6,6.7 1.6,4.5 C1.6,2.3 2.9,0.9 4.9,0.9 C6.9,0.9 8.2,2.3 8.2,4.5 C8.2,6.7 6.9,8.2 4.9,8.2 C2.5,8.2 0.9,10.2 0.9,13.0 C0.9,15.9 2.5,17.7 4.9,17.7 C7.3,17.7 8.9,15.9 8.9,13.0 C8.9,10.2 7.3,8.2 4.9,8.2 Z"/></g>
<g stroke-width="1.75" fill="none"><path transform="translate(878.30,660.20) scale(1.0)" d="M0.9,4.9 L4.5,0.9 L4.5,17.7"/><path transform="translate(887.00,660.20) scale(1.0)" d="M1.0,4.0 C1.5,2.0 3.0,0.9 4.9,0.9 C7.3,0.9 8.8,2.5 8.8,4.8 C8.8,6.1 8.3,7.2 7.5,8.4 L0.9,17.7 L8.9,17.7"/></g>
<g stroke-width="1.75" fill="none"><path transform="translate(480.70,666.20) scale(1.0)" d="M0.9,4.9 L4.5,0.9 L4.5,17.7"/><path transform="translate(489.40,666.20) scale(1.0)" d="M1.6,17.2 C2.4,17.6 3.4,17.7 4.5,17.7 C7.4,17.7 8.9,14.8 8.9,9.1 L8.9,5.5 C8.9,2.5 7.3,0.9 4.9,0.9 C2.5,0.9 0.9,2.5 0.9,5.5 L0.9,6.4 C0.9,9.1 2.4,10.7 4.8,10.7 C6.8,10.7 8.2,9.7 8.9,8.1"/></g>
<g stroke-width="1.75" fill="none"><path transform="translate(444.30,687.80) scale(1.0)" d="M1.0,4.0 C1.5,2.0 3.0,0.9 4.9,0.9 C7.3,0.9 8.8,2.5 8.8,4.8 C8.8,6.1 8.3,7.2 7.5,8.4 L0.9,17.7 L8.9,17.7"/><path transform="translate(456.30,687.80) scale(1.0)" d="M0.9,4.9 L4.5,0.9 L4.5,17.7"/></g>
<g stroke-width="1.75" fill="none"><path transform="translate(562.90,703.30) scale(1.0)" d="M5.0,0.9 L0.9,13.8 L10.0,13.8 M7.3,9.3 L7.3,17.7"/><path transform="translate(576.20,703.30) scale(1.0)" d="M1.6,17.2 C2.4,17.6 3.4,17.7 4.5,17.7 C7.4,17.7 8.9,14.8 8.9,9.1 L8.9,5.5 C8.9,2.5 7.3,0.9 4.9,0.9 C2.5,0.9 0.9,2.5 0.9,5.5 L0.9,6.4 C0.9,9.1 2.4,10.7 4.8,10.7 C6.8,10.7 8.2,9.7 8.9,8.1"/></g>
<g stroke-width="1.75" fill="none"><path transform="translate(352.60,694.70) scale(1.0)" d="M0.9,4.9 L4.5,0.9 L4.5,17.7"/><path transform="translate(361.30,694.70) scale(1.0)" d="M1.6,17.2 C2.4,17.6 3.4,17.7 4.5,17.7 C7.4,17.7 8.9,14.8 8.9,9.1 L8.9,5.5 C8.9,2.5 7.3,0.9 4.9,0.9 C2.5,0.9 0.9,2.5 0.9,5.5 L0.9,6.4 C0.9,9.1 2.4,10.7 4.8,10.7 C6.8,10.7 8.2,9.7 8.9,8.1"/></g>
<g stroke-width="1.75" fill="none"><path transform="translate(376.00,709.90) scale(1.0)" d="M1.0,4.0 C1.5,2.0 3.0,0.9 4.9,0.9 C7.3,0.9 8.8,2.5 8.8,4.8 C8.8,6.1 8.3,7.2 7.5,8.4 L0.9,17.7 L8.9,17.7"/><path transform="translate(388.00,709.90) scale(1.0)" d="M0.9,4.9 L4.5,0.9 L4.5,17.7"/></g>
<g stroke-width="1.75" fill="none"><path transform="translate(917.30,707.90) scale(1.0)" d="M5.0,0.9 L0.9,13.8 L10.0,13.8 M7.3,9.3 L7.3,17.7"/><path transform="translate(930.60,707.90) scale(1.0)" d="M4.9,8.2 C2.9,8.2 1.6,6.7 1.6,4.5 C1.6,2.3 2.9,0.9 4.9,0.9 C6.9,0.9 8.2,2.3 8.2,4.5 C8.2,6.7 6.9,8.2 4.9,8.2 C2.5,8.2 0.9,10.2 0.9,13.0 C0.9,15.9 2.5,17.7 4.9,17.7 C7.3,17.7 8.9,15.9 8.9,13.0 C8.9,10.2 7.3,8.2 4.9,8.2 Z"/></g>
<g stroke-width="1.75" fill="none"><path transform="translate(958.00,738.20) scale(1.0)" d="M5.0,0.9 L0.9,13.8 L10.0,13.8 M7.3,9.3 L7.3,17.7"/><path transform="translate(971.30,738.20) scale(1.0)" d="M0.9,0.9 L8.6,0.9 L4.4,17.7 M3.6,9.4 L8.6,9.4"/></g>
<g stroke-width="1.75" fill="none"><path transform="translate(62.80,721.00) scale(1.0)" d="M0.9,4.9 L4.5,0.9 L4.5,17.7"/><path transform="translate(71.50,721.00) scale(1.0)" d="M1.6,17.2 C2.4,17.6 3.4,17.7 4.5,17.7 C7.4,17.7 8.9,14.8 8.9,9.1 L8.9,5.5 C8.9,2.5 7.3,0.9 4.9,0.9 C2.5,0.9 0.9,2.5 0.9,5.5 L0.9,6.4 C0.9,9.1 2.4,10.7 4.8,10.7 C6.8,10.7 8.2,9.7 8.9,8.1"/></g>
<g stroke-width="1.75" fill="none"><path transform="translate(43.20,747.20) scale(1.0)" d="M1.0,4.0 C1.5,2.0 3.0,0.9 4.9,0.9 C7.3,0.9 8.8,2.5 8.8,4.8 C8.8,6.1 8.3,7.2 7.5,8.4 L0.9,17.7 L8.9,17.7"/><path transform="translate(55.20,747.20) scale(1.0)" d="M0.9,4.9 L4.5,0.9 L4.5,17.7"/></g>
<g stroke-width="1.75" fill="none"><path transform="translate(412.00,809.20) scale(1.0)" d="M1.0,4.0 C1.5,2.0 3.0,0.9 4.9,0.9 C7.3,0.9 8.8,2.5 8.8,4.8 C8.8,6.1 8.3,7.2 7.5,8.4 L0.9,17.7 L8.9,17.7"/><path transform="translate(424.00,809.20) scale(1.0)" d="M0.9,4.9 L4.5,0.9 L4.5,17.7"/></g>
<g stroke-width="1.75" fill="none"><path transform="translate(719.00,813.00) scale(1.0)" d="M0.9,4.9 L4.5,0.9 L4.5,17.7"/><path transform="translate(727.70,813.00) scale(1.0)" d="M0.9,0.9 L4.5,0.9 C6.8,0.9 8.3,2.4 8.3,4.5 C8.3,6.7 6.8,8.2 4.5,8.2 L2.6,8.2 M4.5,8.2 C7.3,8.2 8.9,10.1 8.9,12.9 C8.9,15.8 7.1,17.7 4.4,17.7 L0.9,17.7"/></g>
<g stroke-width="1.75" fill="none"><path transform="translate(1060.70,816.00) scale(1.0)" d="M1.0,4.0 C1.5,2.0 3.0,0.9 4.9,0.9 C7.3,0.9 8.8,2.5 8.8,4.8 C8.8,6.1 8.3,7.2 7.5,8.4 L0.9,17.7 L8.9,17.7"/><path transform="translate(1072.70,816.00) scale(1.0)" d="M8.4,0.9 L1.6,0.9 L1.3,8.4 C2.3,7.5 3.4,7.1 4.8,7.1 C7.4,7.1 8.9,9.1 8.9,12.3 C8.9,15.6 7.2,17.7 4.5,17.7 L1.0,17.7"/></g>
<g stroke-width="1.75" fill="none"><path transform="translate(523.00,806.40) scale(1.0)" d="M1.0,4.0 C1.5,2.0 3.0,0.9 4.9,0.9 C7.3,0.9 8.8,2.5 8.8,4.8 C8.8,6.1 8.3,7.2 7.5,8.4 L0.9,17.7 L8.9,17.7"/><path transform="translate(535.00,806.40) scale(1.0)" d="M1.6,17.2 C2.4,17.6 3.4,17.7 4.5,17.7 C7.4,17.7 8.9,14.8 8.9,9.1 L8.9,5.5 C8.9,2.5 7.3,0.9 4.9,0.9 C2.5,0.9 0.9,2.5 0.9,5.5 L0.9,6.4 C0.9,9.1 2.4,10.7 4.8,10.7 C6.8,10.7 8.2,9.7 8.9,8.1"/></g>
<g stroke-width="1.75" fill="none"><path transform="translate(776.00,854.90) scale(1.0)" d="M5.0,0.9 L0.9,13.8 L10.0,13.8 M7.3,9.3 L7.3,17.7"/><path transform="translate(789.30,854.90) scale(1.0)" d="M5.0,0.9 L0.9,13.8 L10.0,13.8 M7.3,9.3 L7.3,17.7"/><path transform="translate(802.60,854.90) scale(1.0)" d="M0.3,16.5 L-0.9,21.2"/><path transform="translate(806.60,854.90) scale(1.0)" d="M5.0,0.9 L0.9,13.8 L10.0,13.8 M7.3,9.3 L7.3,17.7"/><path transform="translate(819.90,854.90) scale(1.0)" d="M8.4,0.9 L1.6,0.9 L1.3,8.4 C2.3,7.5 3.4,7.1 4.8,7.1 C7.4,7.1 8.9,9.1 8.9,12.3 C8.9,15.6 7.2,17.7 4.5,17.7 L1.0,17.7"/><path transform="translate(832.40,854.90) scale(1.0)" d="M0.3,16.5 L-0.9,21.2"/><path transform="translate(836.40,854.90) scale(1.0)" d="M5.0,0.9 L0.9,13.8 L10.0,13.8 M7.3,9.3 L7.3,17.7"/><path transform="translate(849.70,854.90) scale(1.0)" d="M8.2,1.5 C7.4,1.0 6.4,0.9 5.3,0.9 C2.4,0.9 0.9,3.8 0.9,9.5 L0.9,13.1 C0.9,16.1 2.5,17.7 4.9,17.7 C7.3,17.7 8.9,16.1 8.9,13.1 L8.9,12.2 C8.9,9.5 7.4,7.9 5.0,7.9 C3.0,7.9 1.6,8.9 0.9,10.5"/></g>
<g stroke-width="1.75" fill="none"><path transform="translate(362.80,853.30) scale(1.0)" d="M0.9,4.9 L4.5,0.9 L4.5,17.7"/><path transform="translate(371.50,853.30) scale(1.0)" d="M1.6,17.2 C2.4,17.6 3.4,17.7 4.5,17.7 C7.4,17.7 8.9,14.8 8.9,9.1 L8.9,5.5 C8.9,2.5 7.3,0.9 4.9,0.9 C2.5,0.9 0.9,2.5 0.9,5.5 L0.9,6.4 C0.9,9.1 2.4,10.7 4.8,10.7 C6.8,10.7 8.2,9.7 8.9,8.1"/></g>
<g stroke-width="1.75" fill="none"><path transform="translate(19.00,875.70) scale(1.0)" d="M4.9,8.2 C2.9,8.2 1.6,6.7 1.6,4.5 C1.6,2.3 2.9,0.9 4.9,0.9 C6.9,0.9 8.2,2.3 8.2,4.5 C8.2,6.7 6.9,8.2 4.9,8.2 C2.5,8.2 0.9,10.2 0.9,13.0 C0.9,15.9 2.5,17.7 4.9,17.7 C7.3,17.7 8.9,15.9 8.9,13.0 C8.9,10.2 7.3,8.2 4.9,8.2 Z"/></g>
<g stroke-width="1.75" fill="none"><path transform="translate(290.00,889.90) scale(1.0)" d="M0.9,0.9 L4.5,0.9 C6.8,0.9 8.3,2.4 8.3,4.5 C8.3,6.7 6.8,8.2 4.5,8.2 L2.6,8.2 M4.5,8.2 C7.3,8.2 8.9,10.1 8.9,12.9 C8.9,15.8 7.1,17.7 4.4,17.7 L0.9,17.7"/></g>
<g stroke-width="1.75" fill="none"><path transform="translate(752.40,917.10) scale(1.0)" d="M0.9,0.9 L4.5,0.9 C6.8,0.9 8.3,2.4 8.3,4.5 C8.3,6.7 6.8,8.2 4.5,8.2 L2.6,8.2 M4.5,8.2 C7.3,8.2 8.9,10.1 8.9,12.9 C8.9,15.8 7.1,17.7 4.4,17.7 L0.9,17.7"/><path transform="translate(764.40,917.10) scale(1.0)" d="M1.0,4.0 C1.5,2.0 3.0,0.9 4.9,0.9 C7.3,0.9 8.8,2.5 8.8,4.8 C8.8,6.1 8.3,7.2 7.5,8.4 L0.9,17.7 L8.9,17.7"/></g>
<g stroke-width="1.75" fill="none"><path transform="translate(428.00,923.80) scale(1.0)" d="M0.9,0.9 L4.5,0.9 C6.8,0.9 8.3,2.4 8.3,4.5 C8.3,6.7 6.8,8.2 4.5,8.2 L2.6,8.2 M4.5,8.2 C7.3,8.2 8.9,10.1 8.9,12.9 C8.9,15.8 7.1,17.7 4.4,17.7 L0.9,17.7"/><path transform="translate(440.00,923.80) scale(1.0)" d="M0.9,4.9 L4.5,0.9 L4.5,17.7"/></g>
<g stroke-width="1.75" fill="none"><path transform="translate(892.20,939.40) scale(1.0)" d="M0.9,4.9 L4.5,0.9 L4.5,17.7"/><path transform="translate(900.90,939.40) scale(1.0)" d="M0.9,4.9 L4.5,0.9 L4.5,17.7"/></g>
<g stroke-width="1.75" fill="none"><path transform="translate(15.20,947.20) scale(1.0)" d="M1.0,4.0 C1.5,2.0 3.0,0.9 4.9,0.9 C7.3,0.9 8.8,2.5 8.8,4.8 C8.8,6.1 8.3,7.2 7.5,8.4 L0.9,17.7 L8.9,17.7"/><path transform="translate(27.20,947.20) scale(1.0)" d="M4.9,0.9 C7.7,0.9 8.9,4.2 8.9,9.3 C8.9,14.5 7.7,17.7 4.9,17.7 C2.1,17.7 0.9,14.5 0.9,9.3 C0.9,4.2 2.1,0.9 4.9,0.9 Z"/></g>
<g stroke-width="1.75" fill="none"><path transform="translate(192.70,948.70) scale(1.0)" d="M0.9,4.9 L4.5,0.9 L4.5,17.7"/><path transform="translate(201.40,948.70) scale(1.0)" d="M1.6,17.2 C2.4,17.6 3.4,17.7 4.5,17.7 C7.4,17.7 8.9,14.8 8.9,9.1 L8.9,5.5 C8.9,2.5 7.3,0.9 4.9,0.9 C2.5,0.9 0.9,2.5 0.9,5.5 L0.9,6.4 C0.9,9.1 2.4,10.7 4.8,10.7 C6.8,10.7 8.2,9.7 8.9,8.1"/></g>
<g stroke-width="1.75" fill="none"><path transform="translate(785.80,994.00) scale(1.0)" d="M5.0,0.9 L0.9,13.8 L10.0,13.8 M7.3,9.3 L7.3,17.7"/><path transform="translate(799.10,994.00) scale(1.0)" d="M1.0,4.0 C1.5,2.0 3.0,0.9 4.9,0.9 C7.3,0.9 8.8,2.5 8.8,4.8 C8.8,6.1 8.3,7.2 7.5,8.4 L0.9,17.7 L8.9,17.7"/></g>
<g stroke-width="1.75" fill="none"><path transform="translate(960.00,992.70) scale(1.0)" d="M1.0,4.0 C1.5,2.0 3.0,0.9 4.9,0.9 C7.3,0.9 8.8,2.5 8.8,4.8 C8.8,6.1 8.3,7.2 7.5,8.4 L0.9,17.7 L8.9,17.7"/><path transform="translate(972.00,992.70) scale(1.0)" d="M4.9,8.2 C2.9,8.2 1.6,6.7 1.6,4.5 C1.6,2.3 2.9,0.9 4.9,0.9 C6.9,0.9 8.2,2.3 8.2,4.5 C8.2,6.7 6.9,8.2 4.9,8.2 C2.5,8.2 0.9,10.2 0.9,13.0 C0.9,15.9 2.5,17.7 4.9,17.7 C7.3,17.7 8.9,15.9 8.9,13.0 C8.9,10.2 7.3,8.2 4.9,8.2 Z"/></g>
<g stroke-width="1.75" fill="none"><path transform="translate(436.10,1100.90) scale(1.0)" d="M0.9,0.9 L4.5,0.9 C6.8,0.9 8.3,2.4 8.3,4.5 C8.3,6.7 6.8,8.2 4.5,8.2 L2.6,8.2 M4.5,8.2 C7.3,8.2 8.9,10.1 8.9,12.9 C8.9,15.8 7.1,17.7 4.4,17.7 L0.9,17.7"/><path transform="translate(448.10,1100.90) scale(1.0)" d="M4.9,0.9 C7.7,0.9 8.9,4.2 8.9,9.3 C8.9,14.5 7.7,17.7 4.9,17.7 C2.1,17.7 0.9,14.5 0.9,9.3 C0.9,4.2 2.1,0.9 4.9,0.9 Z"/></g>
<g stroke-width="1.75" fill="none"><path transform="translate(747.00,1112.20) scale(1.0)" d="M0.9,0.9 L4.5,0.9 C6.8,0.9 8.3,2.4 8.3,4.5 C8.3,6.7 6.8,8.2 4.5,8.2 L2.6,8.2 M4.5,8.2 C7.3,8.2 8.9,10.1 8.9,12.9 C8.9,15.8 7.1,17.7 4.4,17.7 L0.9,17.7"/><path transform="translate(759.00,1112.20) scale(1.0)" d="M0.9,0.9 L4.5,0.9 C6.8,0.9 8.3,2.4 8.3,4.5 C8.3,6.7 6.8,8.2 4.5,8.2 L2.6,8.2 M4.5,8.2 C7.3,8.2 8.9,10.1 8.9,12.9 C8.9,15.8 7.1,17.7 4.4,17.7 L0.9,17.7"/><path transform="translate(771.00,1112.20) scale(1.0)" d="M0.9,11.5 L6.5,11.5"/><path transform="translate(780.00,1112.20) scale(1.0)" d="M5.0,0.9 L0.9,13.8 L10.0,13.8 M7.3,9.3 L7.3,17.7"/><path transform="translate(793.30,1112.20) scale(1.0)" d="M4.9,0.9 C7.7,0.9 8.9,4.2 8.9,9.3 C8.9,14.5 7.7,17.7 4.9,17.7 C2.1,17.7 0.9,14.5 0.9,9.3 C0.9,4.2 2.1,0.9 4.9,0.9 Z"/></g>
<g stroke-width="1.75" fill="none"><path transform="translate(762.00,1262.80) scale(1.0)" d="M0.9,4.9 L4.5,0.9 L4.5,17.7"/><path transform="translate(770.70,1262.80) scale(1.0)" d="M5.0,0.9 L0.9,13.8 L10.0,13.8 M7.3,9.3 L7.3,17.7"/></g>
<g stroke-width="1.75" fill="none"><path transform="translate(438.90,1301.70) scale(1.0)" d="M5.0,0.9 L0.9,13.8 L10.0,13.8 M7.3,9.3 L7.3,17.7"/><path transform="translate(452.20,1301.70) scale(1.0)" d="M0.9,0.9 L4.5,0.9 C6.8,0.9 8.3,2.4 8.3,4.5 C8.3,6.7 6.8,8.2 4.5,8.2 L2.6,8.2 M4.5,8.2 C7.3,8.2 8.9,10.1 8.9,12.9 C8.9,15.8 7.1,17.7 4.4,17.7 L0.9,17.7"/></g>
<g stroke-width="1.75" fill="none"><path transform="translate(443.00,1406.00) scale(1.0)" d="M1.0,4.0 C1.5,2.0 3.0,0.9 4.9,0.9 C7.3,0.9 8.8,2.5 8.8,4.8 C8.8,6.1 8.3,7.2 7.5,8.4 L0.9,17.7 L8.9,17.7"/><path transform="translate(455.00,1406.00) scale(1.0)" d="M8.2,1.5 C7.4,1.0 6.4,0.9 5.3,0.9 C2.4,0.9 0.9,3.8 0.9,9.5 L0.9,13.1 C0.9,16.1 2.5,17.7 4.9,17.7 C7.3,17.7 8.9,16.1 8.9,13.1 L8.9,12.2 C8.9,9.5 7.4,7.9 5.0,7.9 C3.0,7.9 1.6,8.9 0.9,10.5"/></g>
<g stroke-width="1.75" fill="none"><path transform="translate(565.70,1404.00) scale(1.0)" d="M1.0,4.0 C1.5,2.0 3.0,0.9 4.9,0.9 C7.3,0.9 8.8,2.5 8.8,4.8 C8.8,6.1 8.3,7.2 7.5,8.4 L0.9,17.7 L8.9,17.7"/><path transform="translate(577.70,1404.00) scale(1.0)" d="M5.0,0.9 L0.9,13.8 L10.0,13.8 M7.3,9.3 L7.3,17.7"/></g>
<line x1="800.5" y1="203.3" x2="719.52" y2="149.91" stroke-width="1.2"/>
<path d="M709.5,143.3 L723.17,148.00 L719.21,154.01 Z" fill="#000" stroke="none"/>
<line x1="145.8" y1="176.4" x2="145.8" y2="234.0" stroke-width="1.2"/>
<path d="M145.8,246 L142.20,232.00 L149.40,232.00 Z" fill="#000" stroke="none"/>
<line x1="170" y1="205" x2="170.0" y2="248.0" stroke-width="1.2"/>
<path d="M170,260 L166.40,246.00 L173.60,246.00 Z" fill="#000" stroke="none"/>
<line x1="67" y1="250.5" x2="126.37" y2="290.76" stroke-width="1.2"/>
<path d="M136.3,297.5 L122.69,292.62 L126.73,286.66 Z" fill="#000" stroke="none"/>
<line x1="249.6" y1="266" x2="249.6" y2="335.0" stroke-width="1.2"/>
<path d="M249.6,347 L246.00,333.00 L253.20,333.00 Z" fill="#000" stroke="none"/>
<line x1="309" y1="262" x2="309.0" y2="313.0" stroke-width="1.2"/>
<path d="M309,325 L305.40,311.00 L312.60,311.00 Z" fill="#000" stroke="none"/>
<line x1="571.7" y1="257.5" x2="608.17" y2="281.42" stroke-width="1.2"/>
<path d="M618.2,288 L604.52,283.33 L608.47,277.31 Z" fill="#000" stroke="none"/>
<line x1="702.2" y1="274.1" x2="658.3" y2="296.37" stroke-width="1.2"/>
<path d="M647.6,301.8 L658.46,292.26 L661.71,298.68 Z" fill="#000" stroke="none"/>
<line x1="590.3" y1="331.3" x2="590.3" y2="365.0" stroke-width="1.2"/>
<path d="M590.3,377 L586.70,363.00 L593.90,363.00 Z" fill="#000" stroke="none"/>
<line x1="480" y1="354.4" x2="531.09" y2="389.24" stroke-width="1.2"/>
<path d="M541,396 L527.41,391.09 L531.46,385.14 Z" fill="#000" stroke="none"/>
<line x1="815.7" y1="382.5" x2="748.33" y2="422.3" stroke-width="1.2"/>
<path d="M738,428.4 L748.22,418.18 L751.88,424.38 Z" fill="#000" stroke="none"/>
<line x1="363.6" y1="370" x2="363.6" y2="416.0" stroke-width="1.2"/>
<path d="M363.6,428 L360.00,414.00 L367.20,414.00 Z" fill="#000" stroke="none"/>
<line x1="442" y1="417" x2="442.0" y2="472.0" stroke-width="1.2"/>
<path d="M442,484 L438.40,470.00 L445.60,470.00 Z" fill="#000" stroke="none"/>
<line x1="256" y1="452" x2="287.8" y2="471.68" stroke-width="1.2"/>
<path d="M298,478 L284.20,473.69 L287.99,467.57 Z" fill="#000" stroke="none"/>
<line x1="207" y1="472.4" x2="247.98" y2="499.4" stroke-width="1.2"/>
<path d="M258,506 L244.33,501.30 L248.29,495.29 Z" fill="#000" stroke="none"/>
<line x1="355" y1="524" x2="355.0" y2="552.3" stroke-width="1.2"/>
<path d="M355,564.3 L351.40,550.30 L358.60,550.30 Z" fill="#000" stroke="none"/>
<line x1="314.8" y1="574.5" x2="368.64" y2="613.02" stroke-width="1.2"/>
<path d="M378.4,620 L364.92,614.78 L369.11,608.93 Z" fill="#000" stroke="none"/>
<line x1="162" y1="637.4" x2="203.34" y2="666.93" stroke-width="1.2"/>
<path d="M213.1,673.9 L199.62,668.69 L203.80,662.83 Z" fill="#000" stroke="none"/>
<line x1="864" y1="683.5" x2="796.37" y2="722.95" stroke-width="1.2"/>
<path d="M786,729 L796.28,718.84 L799.91,725.06 Z" fill="#000" stroke="none"/>
<line x1="466" y1="659.8" x2="427.3" y2="632.43" stroke-width="1.2"/>
<path d="M417.5,625.5 L431.01,630.64 L426.85,636.52 Z" fill="#000" stroke="none"/>
<line x1="429.5" y1="681.4" x2="395.81" y2="654.75" stroke-width="1.2"/>
<path d="M386.4,647.3 L399.61,653.16 L395.15,658.81 Z" fill="#000" stroke="none"/>
<line x1="903" y1="734.8" x2="872.92" y2="755.25" stroke-width="1.2"/>
<path d="M863,762 L872.55,751.15 L876.60,757.10 Z" fill="#000" stroke="none"/>
<line x1="94" y1="746" x2="138.98" y2="776.64" stroke-width="1.2"/>
<path d="M148.9,783.4 L135.30,778.49 L139.36,772.54 Z" fill="#000" stroke="none"/>
<line x1="75.3" y1="772.6" x2="109.67" y2="795.21" stroke-width="1.2"/>
<path d="M119.7,801.8 L106.02,797.12 L109.98,791.10 Z" fill="#000" stroke="none"/>
<line x1="361.2" y1="727" x2="361.2" y2="738.4" stroke-width="1.2"/>
<path d="M361.2,750.4 L357.60,736.40 L364.80,736.40 Z" fill="#000" stroke="none"/>
<line x1="383.6" y1="741" x2="383.6" y2="754.4" stroke-width="1.2"/>
<path d="M383.6,766.4 L380.00,752.40 L387.20,752.40 Z" fill="#000" stroke="none"/>
<line x1="398.4" y1="803.6" x2="381.69" y2="792.1" stroke-width="1.2"/>
<path d="M371.8,785.3 L385.37,790.27 L381.29,796.20 Z" fill="#000" stroke="none"/>
<line x1="370.7" y1="844.4" x2="370.7" y2="822.0" stroke-width="1.2"/>
<path d="M370.7,810 L374.30,824.00 L367.10,824.00 Z" fill="#000" stroke="none"/>
<line x1="295.3" y1="880" x2="295.3" y2="819.5" stroke-width="1.2"/>
<path d="M295.3,807.5 L298.90,821.50 L291.70,821.50 Z" fill="#000" stroke="none"/>
<line x1="41.5" y1="876" x2="109.27" y2="837.43" stroke-width="1.2"/>
<path d="M119.7,831.5 L109.31,841.55 L105.75,835.30 Z" fill="#000" stroke="none"/>
<line x1="50.2" y1="941.9" x2="93.39" y2="915.21" stroke-width="1.2"/>
<path d="M103.6,908.9 L93.58,919.32 L89.80,913.20 Z" fill="#000" stroke="none"/>
<line x1="178.7" y1="942.5" x2="134.88" y2="907.49" stroke-width="1.2"/>
<path d="M125.5,900 L138.69,905.93 L134.19,911.55 Z" fill="#000" stroke="none"/>
<line x1="704.7" y1="806.6" x2="666.36" y2="778.32" stroke-width="1.2"/>
<path d="M656.7,771.2 L670.10,776.61 L665.83,782.41 Z" fill="#000" stroke="none"/>
<line x1="557" y1="833" x2="606.97" y2="865.81" stroke-width="1.2"/>
<path d="M617,872.4 L603.32,867.72 L607.27,861.71 Z" fill="#000" stroke="none"/>
<line x1="458.4" y1="918.4" x2="509.2" y2="882.52" stroke-width="1.2"/>
<path d="M519,875.6 L509.64,886.62 L505.49,880.74 Z" fill="#000" stroke="none"/>
<line x1="810.4" y1="846.7" x2="840.39" y2="821.69" stroke-width="1.2"/>
<path d="M849.6,814 L841.16,825.73 L836.54,820.20 Z" fill="#000" stroke="none"/>
<line x1="899.4" y1="928.5" x2="899.4" y2="876.7" stroke-width="1.2"/>
<path d="M899.4,864.7 L903.00,878.70 L895.80,878.70 Z" fill="#000" stroke="none"/>
<line x1="970" y1="982.5" x2="970.0" y2="922.0" stroke-width="1.2"/>
<path d="M970,910 L973.60,924.00 L966.40,924.00 Z" fill="#000" stroke="none"/>
<line x1="1047" y1="841.8" x2="1001.9" y2="872.72" stroke-width="1.2"/>
<path d="M992,879.5 L1001.51,868.62 L1005.58,874.55 Z" fill="#000" stroke="none"/>
<line x1="470.4" y1="1093.2" x2="523.42" y2="1053.22" stroke-width="1.2"/>
<path d="M533,1046 L523.99,1057.30 L519.65,1051.55 Z" fill="#000" stroke="none"/>
<line x1="733.5" y1="1119.8" x2="694.19" y2="1114.43" stroke-width="1.2"/>
<path d="M682.3,1112.8 L696.66,1111.13 L695.68,1118.26 Z" fill="#000" stroke="none"/>
<line x1="747.8" y1="1254.8" x2="687.87" y2="1210.8" stroke-width="1.2"/>
<path d="M678.2,1203.7 L691.62,1209.08 L687.35,1214.89 Z" fill="#000" stroke="none"/>
<line x1="473.6" y1="1290.4" x2="522.66" y2="1247.59" stroke-width="1.2"/>
<path d="M531.7,1239.7 L523.52,1251.62 L518.78,1246.19 Z" fill="#000" stroke="none"/>
<line x1="473.6" y1="1395.2" x2="528.38" y2="1342.15" stroke-width="1.2"/>
<path d="M537,1333.8 L529.45,1346.13 L524.44,1340.95 Z" fill="#000" stroke="none"/>
<line x1="576.8" y1="1392.7" x2="576.8" y2="1307.7" stroke-width="1.2"/>
<path d="M576.8,1295.7 L580.40,1309.70 L573.20,1309.70 Z" fill="#000" stroke="none"/>
<line x1="750" y1="619.7" x2="704.47" y2="645.15" stroke-width="1.2"/>
<path d="M694,651 L704.46,641.03 L707.98,647.31 Z" fill="#000" stroke="none"/>
<line x1="762.5" y1="647" x2="733.54" y2="662.76" stroke-width="1.2"/>
<path d="M723,668.5 L733.58,658.65 L737.02,664.97 Z" fill="#000" stroke="none"/>
<line x1="598.5" y1="697.9" x2="632.53" y2="678.86" stroke-width="1.2"/>
<path d="M643,673 L632.54,682.98 L629.02,676.69 Z" fill="#000" stroke="none"/>
<line x1="943.7" y1="765.5" x2="908.91" y2="789.24" stroke-width="1.2"/>
<path d="M899,796 L908.54,785.14 L912.59,791.08 Z" fill="#000" stroke="none"/>
<line x1="227.3" y1="594.5" x2="273.83" y2="623.63" stroke-width="1.2"/>
<path d="M284,630 L270.22,625.62 L274.04,619.52 Z" fill="#000" stroke="none"/>
<line x1="739" y1="910" x2="687.26" y2="872.98" stroke-width="1.2"/>
<path d="M677.5,866 L690.98,871.22 L686.79,877.07 Z" fill="#000" stroke="none"/>
<line x1="770.3" y1="985" x2="732.85" y2="957.33" stroke-width="1.2"/>
<path d="M723.2,950.2 L736.60,955.62 L732.32,961.41 Z" fill="#000" stroke="none"/>
<line x1="794.5" y1="483.7" x2="719.65" y2="530.9" stroke-width="1.2"/>
<path d="M709.5,537.3 L719.42,526.79 L723.26,532.88 Z" fill="#000" stroke="none"/>
</svg></body></html>
